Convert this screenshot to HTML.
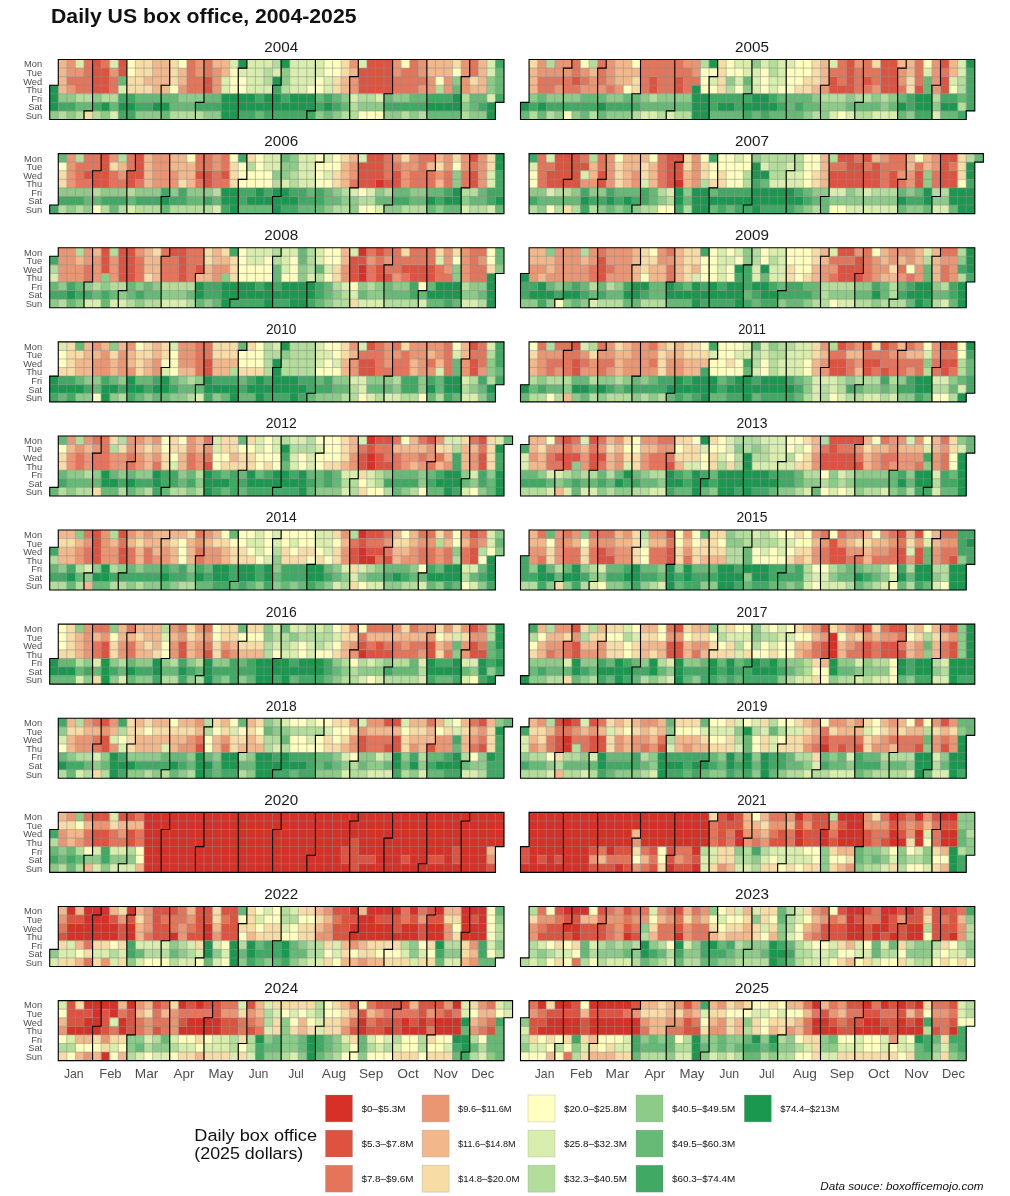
<!DOCTYPE html>
<html><head><meta charset="utf-8"><title>Daily US box office, 2004-2025</title>
<style>html,body{margin:0;padding:0;background:#fff;}body{width:1010px;height:1196px;overflow:hidden;font-family:"Liberation Sans",sans-serif;}svg{display:block;will-change:transform}</style>
</head><body>
<svg width="1010" height="1196" viewBox="0 0 1010 1196" font-family="Liberation Sans, sans-serif">
<rect width="1010" height="1196" fill="#fff"/>
<text x="51" y="22.6" font-size="20.2" font-weight="bold" fill="#111" textLength="305.5" lengthAdjust="spacingAndGlyphs">Daily US box office, 2004-2025</text>
<text x="281.2" y="51.9" font-size="14" fill="#1a1a1a" text-anchor="middle" textLength="33.9" lengthAdjust="spacingAndGlyphs">2004</text>
<g transform="translate(49.7 59.5) scale(8.5714)">
<path fill="#de5240" stroke="#de5240" stroke-width=".02" d="M5 0h1v1h-1zM8 0h1v1h-1zM37 0h3v1h-3zM5 1h2v1h-2zM8 1h1v1h-1zM36 1h4v1h-4zM5 2h2v1h-2zM18 2h1v1h-1zM36 2h4v1h-4zM5 3h2v1h-2zM18 3h1v1h-1zM36 3h4v1h-4z"/>
<path fill="#e4745a" stroke="#e4745a" stroke-width=".02" d="M4 0h1v1h-1zM6 0h1v1h-1zM16 0h1v1h-1zM18 0h1v1h-1zM42 0h1v1h-1zM49 0h1v1h-1zM4 1h1v1h-1zM16 1h1v1h-1zM18 1h1v1h-1zM41 1h2v1h-2zM49 1h1v1h-1zM2 2h3v1h-3zM7 2h1v1h-1zM16 2h2v1h-2zM40 2h4v1h-4zM3 3h2v1h-2zM7 3h1v1h-1zM16 3h2v1h-2zM40 3h3v1h-3z"/>
<path fill="#eb9673" stroke="#eb9673" stroke-width=".02" d="M2 0h1v1h-1zM17 0h1v1h-1zM35 0h1v1h-1zM40 0h1v1h-1zM43 0h1v1h-1zM48 0h1v1h-1zM2 1h2v1h-2zM7 1h1v1h-1zM17 1h1v1h-1zM19 1h1v1h-1zM40 1h1v1h-1zM43 1h1v1h-1zM48 1h1v1h-1zM19 2h1v1h-1zM35 2h1v1h-1zM44 2h1v1h-1zM46 2h1v1h-1zM48 2h1v1h-1zM2 3h1v1h-1zM15 3h1v1h-1zM19 3h1v1h-1zM35 3h1v1h-1zM43 3h2v1h-2zM46 3h1v1h-1zM48 3h1v1h-1z"/>
<path fill="#f2b88c" stroke="#f2b88c" stroke-width=".02" d="M1 0h1v1h-1zM12 0h2v1h-2zM19 0h2v1h-2zM44 0h3v1h-3zM50 0h1v1h-1zM1 1h1v1h-1zM12 1h2v1h-2zM15 1h1v1h-1zM20 1h1v1h-1zM35 1h1v1h-1zM44 1h3v1h-3zM50 1h1v1h-1zM1 2h1v1h-1zM11 2h3v1h-3zM15 2h1v1h-1zM34 2h1v1h-1zM50 2h1v1h-1zM1 3h1v1h-1zM12 3h2v1h-2zM34 3h1v1h-1zM49 3h2v1h-2z"/>
<path fill="#f8dca6" stroke="#f8dca6" stroke-width=".02" d="M10 0h2v1h-2zM14 0h1v1h-1zM34 0h1v1h-1zM47 0h1v1h-1zM10 1h2v1h-2zM14 1h1v1h-1zM34 1h1v1h-1zM9 2h2v1h-2zM14 2h1v1h-1zM33 2h1v1h-1zM49 2h1v1h-1zM9 3h3v1h-3zM33 3h1v1h-1zM4 6h1v1h-1z"/>
<path fill="#ffffbf" stroke="#ffffbf" stroke-width=".02" d="M9 0h1v1h-1zM15 0h1v1h-1zM32 0h2v1h-2zM41 0h1v1h-1zM9 1h1v1h-1zM21 1h1v1h-1zM32 1h2v1h-2zM47 1h1v1h-1zM21 2h2v1h-2zM31 2h1v1h-1zM45 2h1v1h-1zM14 3h1v1h-1zM21 3h2v1h-2zM30 3h2v1h-2zM36 6h3v1h-3z"/>
<path fill="#d9eead" stroke="#d9eead" stroke-width=".02" d="M3 0h1v1h-1zM7 0h1v1h-1zM21 0h1v1h-1zM23 0h3v1h-3zM28 0h4v1h-4zM36 0h1v1h-1zM51 0h1v1h-1zM22 1h3v1h-3zM26 1h1v1h-1zM28 1h4v1h-4zM51 1h1v1h-1zM20 2h1v1h-1zM23 2h2v1h-2zM28 2h3v1h-3zM32 2h1v1h-1zM8 3h1v1h-1zM20 3h1v1h-1zM23 3h3v1h-3zM28 3h2v1h-2zM32 3h1v1h-1zM35 4h1v1h-1zM38 4h1v1h-1zM51 4h1v1h-1zM7 6h1v1h-1z"/>
<path fill="#b3dd9a" stroke="#b3dd9a" stroke-width=".02" d="M26 0h1v1h-1zM25 1h1v1h-1zM25 2h1v1h-1zM27 3h1v1h-1zM45 3h1v1h-1zM3 4h2v1h-2zM6 4h2v1h-2zM36 4h2v1h-2zM48 4h1v1h-1zM35 5h1v1h-1zM1 6h1v1h-1zM3 6h1v1h-1zM5 6h1v1h-1zM14 6h4v1h-4zM34 6h2v1h-2zM41 6h1v1h-1zM43 6h1v1h-1zM48 6h1v1h-1z"/>
<path fill="#8ccc88" stroke="#8ccc88" stroke-width=".02" d="M27 1h1v1h-1zM27 2h1v1h-1zM47 2h1v1h-1zM51 2h1v1h-1zM51 3h1v1h-1zM1 4h2v1h-2zM5 4h1v1h-1zM15 4h3v1h-3zM34 4h1v1h-1zM40 4h2v1h-2zM36 5h3v1h-3zM48 5h1v1h-1zM0 6h1v1h-1zM2 6h1v1h-1zM6 6h1v1h-1zM10 6h3v1h-3zM18 6h2v1h-2zM31 6h1v1h-1zM33 6h1v1h-1zM39 6h2v1h-2zM42 6h1v1h-1zM49 6h2v1h-2z"/>
<path fill="#66ba75" stroke="#66ba75" stroke-width=".02" d="M52 1h1v1h-1zM8 2h1v1h-1zM52 2h1v1h-1zM47 3h1v1h-1zM52 3h1v1h-1zM10 4h5v1h-5zM18 4h2v1h-2zM31 4h1v1h-1zM33 4h1v1h-1zM39 4h1v1h-1zM42 4h2v1h-2zM49 4h2v1h-2zM3 5h2v1h-2zM7 5h1v1h-1zM14 5h3v1h-3zM34 5h1v1h-1zM49 5h1v1h-1zM13 6h1v1h-1zM24 6h1v1h-1zM32 6h1v1h-1zM44 6h4v1h-4z"/>
<path fill="#40a963" stroke="#40a963" stroke-width=".02" d="M52 0h1v1h-1zM26 3h1v1h-1zM8 4h2v1h-2zM24 4h1v1h-1zM27 4h1v1h-1zM32 4h1v1h-1zM44 4h3v1h-3zM52 4h1v1h-1zM1 5h2v1h-2zM5 5h1v1h-1zM10 5h2v1h-2zM17 5h3v1h-3zM31 5h1v1h-1zM33 5h1v1h-1zM39 5h5v1h-5zM50 5h1v1h-1zM8 6h2v1h-2zM22 6h2v1h-2zM25 6h6v1h-6z"/>
<path fill="#1a9850" stroke="#1a9850" stroke-width=".02" d="M22 0h1v1h-1zM27 0h1v1h-1zM26 2h1v1h-1zM0 3h1v1h-1zM0 4h1v1h-1zM20 4h4v1h-4zM25 4h2v1h-2zM28 4h3v1h-3zM47 4h1v1h-1zM0 5h1v1h-1zM6 5h1v1h-1zM8 5h2v1h-2zM12 5h2v1h-2zM20 5h11v1h-11zM32 5h1v1h-1zM44 5h4v1h-4zM51 5h1v1h-1zM20 6h2v1h-2zM51 6h1v1h-1z"/>
<path fill="none" stroke="#909090" stroke-opacity="1" stroke-width=".064" d="M1 1h52M1 2h52M1 3h52M0 4h53M0 5h52M0 6h52M1 3v4M2 0v7M3 0v7M4 0v7M5 0v7M6 0v7M7 0v7M8 0v7M9 0v7M10 0v7M11 0v7M12 0v7M13 0v7M14 0v7M15 0v7M16 0v7M17 0v7M18 0v7M19 0v7M20 0v7M21 0v7M22 0v7M23 0v7M24 0v7M25 0v7M26 0v7M27 0v7M28 0v7M29 0v7M30 0v7M31 0v7M32 0v7M33 0v7M34 0v7M35 0v7M36 0v7M37 0v7M38 0v7M39 0v7M40 0v7M41 0v7M42 0v7M43 0v7M44 0v7M45 0v7M46 0v7M47 0v7M48 0v7M49 0v7M50 0v7M51 0v7M52 0v5"/>
<path fill="none" stroke="#000" stroke-width=".13" stroke-linecap="square" d="M1 0h52M22 1h1M35 2h1M48 2h1M0 3h1M13 3h1M26 3h1M39 4h1M17 5h1M52 5h1M4 6h1M30 6h1M0 7h52M0 3v4M1 0v3M4 6v1M5 0v6M9 0v7M13 3v4M14 0v3M17 5v2M18 0v5M22 1v6M23 0v1M26 3v4M27 0v3M30 6v1M31 0v6M35 2v5M36 0v2M39 4v3M40 0v4M44 0v7M48 2v5M49 0v2M52 5v2M53 0v5"/>
</g>
<text x="42.2" y="67.39" font-size="9.3" fill="#4d4d4d" text-anchor="end">Mon</text>
<text x="42.2" y="75.96" font-size="9.3" fill="#4d4d4d" text-anchor="end">Tue</text>
<text x="42.2" y="84.53" font-size="9.3" fill="#4d4d4d" text-anchor="end">Wed</text>
<text x="42.2" y="93.1" font-size="9.3" fill="#4d4d4d" text-anchor="end">Thu</text>
<text x="42.2" y="101.67" font-size="9.3" fill="#4d4d4d" text-anchor="end">Fri</text>
<text x="42.2" y="110.24" font-size="9.3" fill="#4d4d4d" text-anchor="end">Sat</text>
<text x="42.2" y="118.81" font-size="9.3" fill="#4d4d4d" text-anchor="end">Sun</text>
<text x="752" y="51.9" font-size="14" fill="#1a1a1a" text-anchor="middle" textLength="33.9" lengthAdjust="spacingAndGlyphs">2005</text>
<g transform="translate(520.5 59.5) scale(8.5714)">
<path fill="#de5240" stroke="#de5240" stroke-width=".02" d="M38 0h1v1h-1zM42 0h2v1h-2zM49 0h1v1h-1zM38 1h1v1h-1zM42 1h2v1h-2zM6 2h1v1h-1zM15 2h1v1h-1zM18 2h1v1h-1zM36 2h1v1h-1zM38 2h1v1h-1zM40 2h1v1h-1zM42 2h2v1h-2zM49 2h1v1h-1zM15 3h1v1h-1zM18 3h1v1h-1zM36 3h3v1h-3zM42 3h2v1h-2zM46 3h1v1h-1zM49 3h1v1h-1z"/>
<path fill="#e4745a" stroke="#e4745a" stroke-width=".02" d="M6 0h1v1h-1zM9 0h1v1h-1zM14 0h5v1h-5zM37 0h1v1h-1zM40 0h1v1h-1zM46 0h1v1h-1zM6 1h1v1h-1zM9 1h1v1h-1zM14 1h6v1h-6zM36 1h2v1h-2zM39 1h3v1h-3zM46 1h1v1h-1zM49 1h1v1h-1zM2 2h4v1h-4zM7 2h1v1h-1zM9 2h1v1h-1zM14 2h1v1h-1zM16 2h2v1h-2zM19 2h2v1h-2zM37 2h1v1h-1zM39 2h1v1h-1zM41 2h1v1h-1zM46 2h1v1h-1zM2 3h2v1h-2zM5 3h2v1h-2zM10 3h1v1h-1zM14 3h1v1h-1zM16 3h2v1h-2zM19 3h1v1h-1zM39 3h2v1h-2zM44 3h1v1h-1z"/>
<path fill="#eb9673" stroke="#eb9673" stroke-width=".02" d="M2 0h1v1h-1zM4 0h2v1h-2zM10 0h1v1h-1zM19 0h2v1h-2zM39 0h1v1h-1zM48 0h1v1h-1zM2 1h4v1h-4zM7 1h1v1h-1zM10 1h1v1h-1zM20 1h1v1h-1zM44 1h1v1h-1zM48 1h1v1h-1zM8 2h1v1h-1zM10 2h1v1h-1zM44 2h1v1h-1zM48 2h1v1h-1zM4 3h1v1h-1zM7 3h3v1h-3zM11 3h1v1h-1zM35 3h1v1h-1zM41 3h1v1h-1zM48 3h1v1h-1z"/>
<path fill="#f2b88c" stroke="#f2b88c" stroke-width=".02" d="M11 0h2v1h-2zM35 0h1v1h-1zM44 0h2v1h-2zM50 0h1v1h-1zM1 1h1v1h-1zM8 1h1v1h-1zM11 1h3v1h-3zM35 1h1v1h-1zM45 1h1v1h-1zM50 1h1v1h-1zM1 2h1v1h-1zM11 2h2v1h-2zM35 2h1v1h-1zM1 3h1v1h-1zM34 3h1v1h-1z"/>
<path fill="#f8dca6" stroke="#f8dca6" stroke-width=".02" d="M1 0h1v1h-1zM23 0h1v1h-1zM34 0h1v1h-1zM41 0h1v1h-1zM23 1h1v1h-1zM34 1h1v1h-1zM13 2h1v1h-1zM23 2h1v1h-1zM33 2h2v1h-2zM45 2h1v1h-1zM13 3h1v1h-1zM23 3h1v1h-1zM32 3h2v1h-2zM45 3h1v1h-1z"/>
<path fill="#ffffbf" stroke="#ffffbf" stroke-width=".02" d="M7 0h1v1h-1zM13 0h1v1h-1zM24 0h1v1h-1zM32 0h2v1h-2zM47 0h1v1h-1zM21 1h2v1h-2zM24 1h2v1h-2zM28 1h1v1h-1zM31 1h3v1h-3zM21 2h1v1h-1zM28 2h1v1h-1zM31 2h2v1h-2zM12 3h1v1h-1zM21 3h2v1h-2zM25 3h1v1h-1zM28 3h1v1h-1zM30 3h2v1h-2zM50 3h1v1h-1zM5 6h1v1h-1zM37 6h1v1h-1z"/>
<path fill="#d9eead" stroke="#d9eead" stroke-width=".02" d="M25 0h2v1h-2zM28 0h1v1h-1zM30 0h2v1h-2zM36 0h1v1h-1zM51 0h1v1h-1zM26 1h2v1h-2zM30 1h1v1h-1zM47 1h1v1h-1zM51 1h1v1h-1zM22 2h1v1h-1zM25 2h1v1h-1zM27 2h1v1h-1zM29 2h2v1h-2zM50 2h1v1h-1zM27 3h1v1h-1zM29 3h1v1h-1zM14 6h2v1h-2zM17 6h1v1h-1zM36 6h1v1h-1zM38 6h1v1h-1zM41 6h3v1h-3zM48 6h1v1h-1z"/>
<path fill="#b3dd9a" stroke="#b3dd9a" stroke-width=".02" d="M3 0h1v1h-1zM8 0h1v1h-1zM21 0h1v1h-1zM29 0h1v1h-1zM29 1h1v1h-1zM51 2h1v1h-1zM24 3h1v1h-1zM51 3h1v1h-1zM15 4h1v1h-1zM35 4h3v1h-3zM39 4h2v1h-2zM42 4h1v1h-1zM48 4h1v1h-1zM51 5h1v1h-1zM1 6h1v1h-1zM3 6h1v1h-1zM8 6h1v1h-1zM13 6h1v1h-1zM16 6h1v1h-1zM18 6h2v1h-2zM34 6h1v1h-1zM39 6h2v1h-2z"/>
<path fill="#8ccc88" stroke="#8ccc88" stroke-width=".02" d="M27 0h1v1h-1zM24 2h1v1h-1zM26 3h1v1h-1zM1 4h1v1h-1zM3 4h4v1h-4zM10 4h2v1h-2zM14 4h1v1h-1zM16 4h4v1h-4zM34 4h1v1h-1zM38 4h1v1h-1zM41 4h1v1h-1zM43 4h1v1h-1zM35 5h3v1h-3zM42 5h1v1h-1zM48 5h1v1h-1zM4 6h1v1h-1zM6 6h1v1h-1zM10 6h3v1h-3zM33 6h1v1h-1zM35 6h1v1h-1zM45 6h1v1h-1z"/>
<path fill="#66ba75" stroke="#66ba75" stroke-width=".02" d="M26 2h1v1h-1zM47 2h1v1h-1zM47 3h1v1h-1zM2 4h1v1h-1zM7 4h3v1h-3zM12 4h2v1h-2zM30 4h4v1h-4zM44 4h1v1h-1zM51 4h1v1h-1zM14 5h6v1h-6zM31 5h1v1h-1zM33 5h2v1h-2zM38 5h4v1h-4zM43 5h1v1h-1zM0 6h1v1h-1zM2 6h1v1h-1zM7 6h1v1h-1zM9 6h1v1h-1zM22 6h4v1h-4zM27 6h1v1h-1zM29 6h4v1h-4zM44 6h1v1h-1zM49 6h2v1h-2z"/>
<path fill="#40a963" stroke="#40a963" stroke-width=".02" d="M52 1h1v1h-1zM52 2h1v1h-1zM52 3h1v1h-1zM22 4h5v1h-5zM29 4h1v1h-1zM45 4h1v1h-1zM49 4h2v1h-2zM52 4h1v1h-1zM1 5h1v1h-1zM3 5h6v1h-6zM10 5h4v1h-4zM22 5h1v1h-1zM25 5h1v1h-1zM30 5h1v1h-1zM32 5h1v1h-1zM45 5h1v1h-1zM52 5h1v1h-1zM26 6h1v1h-1zM28 6h1v1h-1zM46 6h2v1h-2zM51 6h1v1h-1z"/>
<path fill="#1a9850" stroke="#1a9850" stroke-width=".02" d="M22 0h1v1h-1zM52 0h1v1h-1zM20 3h1v1h-1zM20 4h2v1h-2zM27 4h2v1h-2zM46 4h2v1h-2zM0 5h1v1h-1zM2 5h1v1h-1zM9 5h1v1h-1zM20 5h2v1h-2zM23 5h2v1h-2zM26 5h4v1h-4zM44 5h1v1h-1zM46 5h2v1h-2zM49 5h2v1h-2zM20 6h2v1h-2z"/>
<path fill="none" stroke="#909090" stroke-opacity="1" stroke-width=".064" d="M1 1h52M1 2h52M1 3h52M1 4h52M1 5h52M0 6h52M1 5v2M2 0v7M3 0v7M4 0v7M5 0v7M6 0v7M7 0v7M8 0v7M9 0v7M10 0v7M11 0v7M12 0v7M13 0v7M14 0v7M15 0v7M16 0v7M17 0v7M18 0v7M19 0v7M20 0v7M21 0v7M22 0v7M23 0v7M24 0v7M25 0v7M26 0v7M27 0v7M28 0v7M29 0v7M30 0v7M31 0v7M32 0v7M33 0v7M34 0v7M35 0v7M36 0v7M37 0v7M38 0v7M39 0v7M40 0v7M41 0v7M42 0v7M43 0v7M44 0v7M45 0v7M46 0v7M47 0v7M48 0v7M49 0v7M50 0v7M51 0v7M52 0v6"/>
<path fill="none" stroke="#000" stroke-width=".13" stroke-linecap="square" d="M1 0h52M5 1h1M9 1h1M44 1h1M22 2h1M35 3h1M48 3h1M13 4h1M26 4h1M0 5h1M39 5h1M17 6h1M52 6h1M0 7h52M0 5v2M1 0v5M5 1v6M6 0v1M9 1v6M10 0v1M13 4v3M14 0v4M17 6v1M18 0v6M22 2v5M23 0v2M26 4v3M27 0v4M31 0v7M35 3v4M36 0v3M39 5v2M40 0v5M44 1v6M45 0v1M48 3v4M49 0v3M52 6v1M53 0v6"/>
</g>
<text x="281.2" y="146.01" font-size="14" fill="#1a1a1a" text-anchor="middle" textLength="33.9" lengthAdjust="spacingAndGlyphs">2006</text>
<g transform="translate(49.7 153.61) scale(8.5714)">
<path fill="#d73027" stroke="#d73027" stroke-width=".02" d="M38 3h1v1h-1z"/>
<path fill="#de5240" stroke="#de5240" stroke-width=".02" d="M6 0h1v1h-1zM10 0h1v1h-1zM37 0h2v1h-2zM49 0h1v1h-1zM6 1h1v1h-1zM10 1h1v1h-1zM36 1h3v1h-3zM4 2h3v1h-3zM9 2h2v1h-2zM17 2h2v1h-2zM20 2h1v1h-1zM36 2h3v1h-3zM40 2h1v1h-1zM49 2h1v1h-1zM5 3h2v1h-2zM9 3h1v1h-1zM18 3h1v1h-1zM36 3h2v1h-2zM39 3h2v1h-2zM49 3h1v1h-1z"/>
<path fill="#e4745a" stroke="#e4745a" stroke-width=".02" d="M4 0h2v1h-2zM9 0h1v1h-1zM17 0h2v1h-2zM20 0h1v1h-1zM39 0h1v1h-1zM43 0h2v1h-2zM3 1h3v1h-3zM9 1h1v1h-1zM17 1h2v1h-2zM20 1h1v1h-1zM39 1h2v1h-2zM43 1h1v1h-1zM49 1h1v1h-1zM3 2h1v1h-1zM7 2h1v1h-1zM19 2h1v1h-1zM39 2h1v1h-1zM42 2h3v1h-3zM46 2h1v1h-1zM48 2h1v1h-1zM3 3h2v1h-2zM7 3h2v1h-2zM10 3h1v1h-1zM17 3h1v1h-1zM19 3h2v1h-2zM35 3h1v1h-1zM42 3h3v1h-3zM46 3h1v1h-1zM48 3h1v1h-1z"/>
<path fill="#eb9673" stroke="#eb9673" stroke-width=".02" d="M2 0h1v1h-1zM7 0h1v1h-1zM12 0h2v1h-2zM19 0h1v1h-1zM40 0h1v1h-1zM42 0h1v1h-1zM46 0h1v1h-1zM48 0h1v1h-1zM50 0h1v1h-1zM2 1h1v1h-1zM12 1h2v1h-2zM19 1h1v1h-1zM35 1h1v1h-1zM41 1h2v1h-2zM46 1h1v1h-1zM48 1h1v1h-1zM50 1h1v1h-1zM2 2h1v1h-1zM8 2h1v1h-1zM12 2h3v1h-3zM35 2h1v1h-1zM41 2h1v1h-1zM45 2h1v1h-1zM50 2h1v1h-1zM2 3h1v1h-1zM12 3h3v1h-3zM41 3h1v1h-1zM50 3h1v1h-1z"/>
<path fill="#f2b88c" stroke="#f2b88c" stroke-width=".02" d="M11 0h1v1h-1zM14 0h2v1h-2zM35 0h1v1h-1zM45 0h1v1h-1zM8 1h1v1h-1zM11 1h1v1h-1zM14 1h3v1h-3zM34 1h1v1h-1zM44 1h1v1h-1zM11 2h1v1h-1zM15 2h2v1h-2zM34 2h1v1h-1zM11 3h1v1h-1zM16 3h1v1h-1zM34 3h1v1h-1zM45 3h1v1h-1z"/>
<path fill="#f8dca6" stroke="#f8dca6" stroke-width=".02" d="M23 0h1v1h-1zM34 0h1v1h-1zM41 0h1v1h-1zM47 0h1v1h-1zM51 0h1v1h-1zM7 1h1v1h-1zM21 1h1v1h-1zM45 1h1v1h-1zM51 1h1v1h-1zM1 2h1v1h-1zM21 2h1v1h-1zM33 2h1v1h-1zM1 3h1v1h-1zM15 3h1v1h-1zM21 3h1v1h-1zM33 3h1v1h-1z"/>
<path fill="#ffffbf" stroke="#ffffbf" stroke-width=".02" d="M16 0h1v1h-1zM21 0h1v1h-1zM24 0h1v1h-1zM31 0h1v1h-1zM33 0h1v1h-1zM1 1h1v1h-1zM22 1h1v1h-1zM24 1h1v1h-1zM31 1h3v1h-3zM47 1h1v1h-1zM22 2h4v1h-4zM31 2h1v1h-1zM22 3h4v1h-4zM31 3h2v1h-2zM36 4h1v1h-1zM5 6h1v1h-1zM36 6h2v1h-2z"/>
<path fill="#d9eead" stroke="#d9eead" stroke-width=".02" d="M25 0h2v1h-2zM29 0h2v1h-2zM32 0h1v1h-1zM36 0h1v1h-1zM25 1h2v1h-2zM29 1h2v1h-2zM29 2h2v1h-2zM32 2h1v1h-1zM51 2h1v1h-1zM27 3h1v1h-1zM29 3h2v1h-2zM51 3h1v1h-1zM35 4h1v1h-1zM37 4h1v1h-1zM9 6h1v1h-1zM19 6h1v1h-1zM38 6h1v1h-1zM48 6h1v1h-1zM51 6h1v1h-1z"/>
<path fill="#b3dd9a" stroke="#b3dd9a" stroke-width=".02" d="M3 0h1v1h-1zM8 0h1v1h-1zM23 1h1v1h-1zM28 2h1v1h-1zM26 3h1v1h-1zM28 3h1v1h-1zM5 4h1v1h-1zM9 4h1v1h-1zM19 4h1v1h-1zM34 4h1v1h-1zM39 4h1v1h-1zM48 4h2v1h-2zM36 5h2v1h-2zM1 6h1v1h-1zM3 6h1v1h-1zM6 6h1v1h-1zM8 6h1v1h-1zM10 6h3v1h-3zM14 6h5v1h-5zM33 6h2v1h-2zM41 6h3v1h-3zM49 6h2v1h-2z"/>
<path fill="#8ccc88" stroke="#8ccc88" stroke-width=".02" d="M28 0h1v1h-1zM27 1h2v1h-2zM26 2h2v1h-2zM47 2h1v1h-1zM47 3h1v1h-1zM1 4h4v1h-4zM6 4h3v1h-3zM10 4h3v1h-3zM14 4h1v1h-1zM16 4h3v1h-3zM33 4h1v1h-1zM38 4h1v1h-1zM42 4h2v1h-2zM34 5h2v1h-2zM48 5h1v1h-1zM2 6h1v1h-1zM4 6h1v1h-1zM32 6h1v1h-1zM35 6h1v1h-1zM39 6h2v1h-2zM45 6h1v1h-1z"/>
<path fill="#66ba75" stroke="#66ba75" stroke-width=".02" d="M1 0h1v1h-1zM27 0h1v1h-1zM30 4h1v1h-1zM32 4h1v1h-1zM40 4h2v1h-2zM44 4h2v1h-2zM50 4h1v1h-1zM4 5h2v1h-2zM9 5h1v1h-1zM16 5h2v1h-2zM19 5h1v1h-1zM32 5h2v1h-2zM38 5h2v1h-2zM42 5h2v1h-2zM49 5h2v1h-2zM7 6h1v1h-1zM13 6h1v1h-1zM22 6h4v1h-4zM29 6h3v1h-3zM44 6h1v1h-1zM46 6h2v1h-2zM52 6h1v1h-1z"/>
<path fill="#40a963" stroke="#40a963" stroke-width=".02" d="M22 0h1v1h-1zM52 2h1v1h-1zM52 3h1v1h-1zM13 4h1v1h-1zM15 4h1v1h-1zM22 4h2v1h-2zM25 4h1v1h-1zM28 4h2v1h-2zM31 4h1v1h-1zM46 4h1v1h-1zM51 4h2v1h-2zM1 5h3v1h-3zM6 5h3v1h-3zM10 5h3v1h-3zM14 5h2v1h-2zM18 5h1v1h-1zM22 5h1v1h-1zM29 5h3v1h-3zM40 5h2v1h-2zM45 5h1v1h-1zM51 5h1v1h-1zM0 6h1v1h-1zM20 6h1v1h-1zM27 6h2v1h-2z"/>
<path fill="#1a9850" stroke="#1a9850" stroke-width=".02" d="M52 0h1v1h-1zM52 1h1v1h-1zM20 4h2v1h-2zM24 4h1v1h-1zM26 4h2v1h-2zM47 4h1v1h-1zM13 5h1v1h-1zM20 5h2v1h-2zM23 5h6v1h-6zM44 5h1v1h-1zM46 5h2v1h-2zM52 5h1v1h-1zM21 6h1v1h-1zM26 6h1v1h-1z"/>
<path fill="none" stroke="#909090" stroke-opacity="1" stroke-width=".064" d="M1 1h52M1 2h52M1 3h52M1 4h52M1 5h52M1 6h52M1 6v1M2 0v7M3 0v7M4 0v7M5 0v7M6 0v7M7 0v7M8 0v7M9 0v7M10 0v7M11 0v7M12 0v7M13 0v7M14 0v7M15 0v7M16 0v7M17 0v7M18 0v7M19 0v7M20 0v7M21 0v7M22 0v7M23 0v7M24 0v7M25 0v7M26 0v7M27 0v7M28 0v7M29 0v7M30 0v7M31 0v7M32 0v7M33 0v7M34 0v7M35 0v7M36 0v7M37 0v7M38 0v7M39 0v7M40 0v7M41 0v7M42 0v7M43 0v7M44 0v7M45 0v7M46 0v7M47 0v7M48 0v7M49 0v7M50 0v7M51 0v7M52 0v7"/>
<path fill="none" stroke="#000" stroke-width=".13" stroke-linecap="square" d="M1 0h52M31 1h1M5 2h1M9 2h1M44 2h1M22 3h1M35 4h1M48 4h1M13 5h1M26 5h1M0 6h1M39 6h1M0 7h53M0 6v1M1 0v6M5 2v5M6 0v2M9 2v5M10 0v2M13 5v2M14 0v5M18 0v7M22 3v4M23 0v3M26 5v2M27 0v5M31 1v6M32 0v1M35 4v3M36 0v4M39 6v1M40 0v6M44 2v5M45 0v2M48 4v3M49 0v4M53 0v7"/>
</g>
<text x="42.2" y="161.5" font-size="9.3" fill="#4d4d4d" text-anchor="end">Mon</text>
<text x="42.2" y="170.07" font-size="9.3" fill="#4d4d4d" text-anchor="end">Tue</text>
<text x="42.2" y="178.64" font-size="9.3" fill="#4d4d4d" text-anchor="end">Wed</text>
<text x="42.2" y="187.21" font-size="9.3" fill="#4d4d4d" text-anchor="end">Thu</text>
<text x="42.2" y="195.78" font-size="9.3" fill="#4d4d4d" text-anchor="end">Fri</text>
<text x="42.2" y="204.35" font-size="9.3" fill="#4d4d4d" text-anchor="end">Sat</text>
<text x="42.2" y="212.92" font-size="9.3" fill="#4d4d4d" text-anchor="end">Sun</text>
<text x="752" y="146.01" font-size="14" fill="#1a1a1a" text-anchor="middle" textLength="33.9" lengthAdjust="spacingAndGlyphs">2007</text>
<g transform="translate(520.5 153.61) scale(8.5714)">
<path fill="#d73027" stroke="#d73027" stroke-width=".02" d="M18 3h1v1h-1z"/>
<path fill="#de5240" stroke="#de5240" stroke-width=".02" d="M4 0h3v1h-3zM17 0h2v1h-2zM37 0h2v1h-2zM40 0h1v1h-1zM49 0h2v1h-2zM4 1h4v1h-4zM17 1h2v1h-2zM38 1h2v1h-2zM41 1h1v1h-1zM49 1h1v1h-1zM3 2h4v1h-4zM9 2h1v1h-1zM17 2h2v1h-2zM36 2h6v1h-6zM43 2h1v1h-1zM46 2h1v1h-1zM49 2h2v1h-2zM3 3h4v1h-4zM9 3h1v1h-1zM17 3h1v1h-1zM36 3h6v1h-6zM43 3h1v1h-1zM46 3h1v1h-1zM49 3h2v1h-2z"/>
<path fill="#e4745a" stroke="#e4745a" stroke-width=".02" d="M2 0h1v1h-1zM7 0h1v1h-1zM9 0h1v1h-1zM16 0h1v1h-1zM39 0h1v1h-1zM43 0h2v1h-2zM2 1h2v1h-2zM9 1h1v1h-1zM16 1h1v1h-1zM36 1h2v1h-2zM40 1h1v1h-1zM42 1h3v1h-3zM46 1h1v1h-1zM50 1h1v1h-1zM2 2h1v1h-1zM16 2h1v1h-1zM42 2h1v1h-1zM48 2h1v1h-1zM2 3h1v1h-1zM16 3h1v1h-1zM42 3h1v1h-1zM44 3h1v1h-1zM48 3h1v1h-1z"/>
<path fill="#eb9673" stroke="#eb9673" stroke-width=".02" d="M10 0h1v1h-1zM20 0h1v1h-1zM42 0h1v1h-1zM48 0h1v1h-1zM10 1h1v1h-1zM20 1h1v1h-1zM48 1h1v1h-1zM10 2h1v1h-1zM13 2h1v1h-1zM20 2h1v1h-1zM44 2h2v1h-2zM7 3h2v1h-2zM10 3h1v1h-1zM13 3h1v1h-1zM20 3h1v1h-1zM45 3h1v1h-1z"/>
<path fill="#f2b88c" stroke="#f2b88c" stroke-width=".02" d="M12 0h3v1h-3zM35 0h1v1h-1zM41 0h1v1h-1zM45 0h1v1h-1zM47 0h1v1h-1zM8 1h1v1h-1zM12 1h2v1h-2zM15 1h1v1h-1zM35 1h1v1h-1zM45 1h1v1h-1zM47 1h1v1h-1zM8 2h1v1h-1zM12 2h1v1h-1zM15 2h1v1h-1zM19 2h1v1h-1zM35 2h1v1h-1zM12 3h1v1h-1zM15 3h1v1h-1zM19 3h1v1h-1zM35 3h1v1h-1z"/>
<path fill="#f8dca6" stroke="#f8dca6" stroke-width=".02" d="M19 0h1v1h-1zM51 0h1v1h-1zM11 1h1v1h-1zM14 1h1v1h-1zM19 1h1v1h-1zM21 1h1v1h-1zM51 1h1v1h-1zM11 2h1v1h-1zM14 2h1v1h-1zM21 2h1v1h-1zM23 2h1v1h-1zM34 2h1v1h-1zM51 2h1v1h-1zM11 3h1v1h-1zM22 3h2v1h-2zM34 3h1v1h-1zM5 6h1v1h-1z"/>
<path fill="#ffffbf" stroke="#ffffbf" stroke-width=".02" d="M11 0h1v1h-1zM15 0h1v1h-1zM21 0h1v1h-1zM23 0h2v1h-2zM26 0h1v1h-1zM33 0h2v1h-2zM46 0h1v1h-1zM22 1h5v1h-5zM33 1h2v1h-2zM1 2h1v1h-1zM22 2h1v1h-1zM24 2h2v1h-2zM33 2h1v1h-1zM1 3h1v1h-1zM24 3h2v1h-2zM33 3h1v1h-1zM51 3h1v1h-1zM3 6h1v1h-1zM16 6h2v1h-2zM36 6h2v1h-2z"/>
<path fill="#d9eead" stroke="#d9eead" stroke-width=".02" d="M3 0h1v1h-1zM25 0h1v1h-1zM1 1h1v1h-1zM28 1h1v1h-1zM31 1h1v1h-1zM7 2h1v1h-1zM31 2h2v1h-2zM14 3h1v1h-1zM29 3h4v1h-4zM3 4h1v1h-1zM17 4h1v1h-1zM36 4h2v1h-2zM40 4h1v1h-1zM38 6h6v1h-6zM48 6h2v1h-2z"/>
<path fill="#b3dd9a" stroke="#b3dd9a" stroke-width=".02" d="M8 0h1v1h-1zM28 0h5v1h-5zM36 0h1v1h-1zM52 0h1v1h-1zM29 1h2v1h-2zM32 1h1v1h-1zM26 2h1v1h-1zM29 2h2v1h-2zM21 3h1v1h-1zM26 3h1v1h-1zM4 4h2v1h-2zM16 4h1v1h-1zM39 4h1v1h-1zM41 4h3v1h-3zM48 4h2v1h-2zM17 5h1v1h-1zM1 6h1v1h-1zM4 6h1v1h-1zM6 6h1v1h-1zM8 6h1v1h-1zM14 6h2v1h-2zM19 6h1v1h-1zM34 6h1v1h-1z"/>
<path fill="#8ccc88" stroke="#8ccc88" stroke-width=".02" d="M27 0h1v1h-1zM47 2h1v1h-1zM47 3h1v1h-1zM1 4h2v1h-2zM6 4h1v1h-1zM8 4h2v1h-2zM19 4h1v1h-1zM34 4h2v1h-2zM38 4h1v1h-1zM45 4h1v1h-1zM16 5h1v1h-1zM36 5h8v1h-8zM48 5h2v1h-2zM2 6h1v1h-1zM9 6h1v1h-1zM11 6h1v1h-1zM13 6h1v1h-1zM33 6h1v1h-1zM45 6h2v1h-2z"/>
<path fill="#66ba75" stroke="#66ba75" stroke-width=".02" d="M53 0h1v1h-1zM28 3h1v1h-1zM11 4h3v1h-3zM15 4h1v1h-1zM22 4h1v1h-1zM33 4h1v1h-1zM44 4h1v1h-1zM46 4h1v1h-1zM2 5h5v1h-5zM15 5h1v1h-1zM19 5h1v1h-1zM34 5h2v1h-2zM10 6h1v1h-1zM12 6h1v1h-1zM22 6h1v1h-1zM24 6h1v1h-1zM32 6h1v1h-1zM35 6h1v1h-1zM44 6h1v1h-1zM47 6h1v1h-1zM50 6h1v1h-1z"/>
<path fill="#40a963" stroke="#40a963" stroke-width=".02" d="M1 0h1v1h-1zM22 0h1v1h-1zM27 3h1v1h-1zM52 3h1v1h-1zM7 4h1v1h-1zM10 4h1v1h-1zM14 4h1v1h-1zM23 4h4v1h-4zM32 4h1v1h-1zM1 5h1v1h-1zM8 5h2v1h-2zM11 5h1v1h-1zM13 5h2v1h-2zM33 5h1v1h-1zM45 5h2v1h-2zM7 6h1v1h-1zM18 6h1v1h-1zM23 6h1v1h-1zM25 6h2v1h-2zM28 6h4v1h-4z"/>
<path fill="#1a9850" stroke="#1a9850" stroke-width=".02" d="M27 1h1v1h-1zM52 1h1v1h-1zM27 2h2v1h-2zM52 2h1v1h-1zM18 4h1v1h-1zM20 4h2v1h-2zM27 4h5v1h-5zM47 4h1v1h-1zM50 4h3v1h-3zM7 5h1v1h-1zM10 5h1v1h-1zM12 5h1v1h-1zM18 5h1v1h-1zM20 5h13v1h-13zM44 5h1v1h-1zM47 5h1v1h-1zM50 5h3v1h-3zM20 6h2v1h-2zM27 6h1v1h-1zM51 6h2v1h-2z"/>
<path fill="none" stroke="#909090" stroke-opacity="1" stroke-width=".064" d="M1 1h52M1 2h52M1 3h52M1 4h52M1 5h52M1 6h52M2 0v7M3 0v7M4 0v7M5 0v7M6 0v7M7 0v7M8 0v7M9 0v7M10 0v7M11 0v7M12 0v7M13 0v7M14 0v7M15 0v7M16 0v7M17 0v7M18 0v7M19 0v7M20 0v7M21 0v7M22 0v7M23 0v7M24 0v7M25 0v7M26 0v7M27 0v7M28 0v7M29 0v7M30 0v7M31 0v7M32 0v7M33 0v7M34 0v7M35 0v7M36 0v7M37 0v7M38 0v7M39 0v7M40 0v7M41 0v7M42 0v7M43 0v7M44 0v7M45 0v7M46 0v7M47 0v7M48 0v7M49 0v7M50 0v7M51 0v7M52 0v7M53 0v1"/>
<path fill="none" stroke="#000" stroke-width=".13" stroke-linecap="square" d="M1 0h53M18 1h1M53 1h1M31 2h1M5 3h1M9 3h1M44 3h1M22 4h1M35 5h1M48 5h1M13 6h1M26 6h1M1 7h52M1 0v7M5 3v4M6 0v3M9 3v4M10 0v3M13 6v1M14 0v6M18 1v6M19 0v1M22 4v3M23 0v4M26 6v1M27 0v6M31 2v5M32 0v2M35 5v2M36 0v5M40 0v7M44 3v4M45 0v3M48 5v2M49 0v5M53 1v6M54 0v1"/>
</g>
<text x="281.2" y="240.12" font-size="14" fill="#1a1a1a" text-anchor="middle" textLength="33.9" lengthAdjust="spacingAndGlyphs">2008</text>
<g transform="translate(49.7 247.72) scale(8.5714)">
<path fill="#d73027" stroke="#d73027" stroke-width=".02" d="M36 0h1v1h-1zM36 2h1v1h-1zM36 3h1v1h-1z"/>
<path fill="#de5240" stroke="#de5240" stroke-width=".02" d="M6 0h1v1h-1zM8 0h2v1h-2zM14 0h2v1h-2zM38 0h1v1h-1zM6 1h1v1h-1zM8 1h2v1h-2zM15 1h1v1h-1zM35 1h2v1h-2zM6 2h1v1h-1zM8 2h2v1h-2zM15 2h1v1h-1zM17 2h1v1h-1zM35 2h1v1h-1zM38 2h1v1h-1zM41 2h4v1h-4zM8 3h2v1h-2zM15 3h1v1h-1zM35 3h1v1h-1zM38 3h2v1h-2zM42 3h3v1h-3z"/>
<path fill="#e4745a" stroke="#e4745a" stroke-width=".02" d="M13 0h1v1h-1zM16 0h2v1h-2zM37 0h1v1h-1zM39 0h2v1h-2zM42 0h3v1h-3zM49 0h2v1h-2zM10 1h1v1h-1zM13 1h2v1h-2zM16 1h2v1h-2zM38 1h1v1h-1zM40 1h5v1h-5zM49 1h1v1h-1zM4 2h1v1h-1zM10 2h1v1h-1zM13 2h2v1h-2zM16 2h1v1h-1zM37 2h1v1h-1zM39 2h2v1h-2zM45 2h1v1h-1zM49 2h2v1h-2zM4 3h1v1h-1zM10 3h1v1h-1zM13 3h2v1h-2zM16 3h1v1h-1zM37 3h1v1h-1zM41 3h1v1h-1zM45 3h2v1h-2zM49 3h2v1h-2z"/>
<path fill="#eb9673" stroke="#eb9673" stroke-width=".02" d="M1 0h2v1h-2zM4 0h1v1h-1zM10 0h1v1h-1zM46 0h1v1h-1zM48 0h1v1h-1zM1 1h2v1h-2zM4 1h2v1h-2zM7 1h1v1h-1zM37 1h1v1h-1zM39 1h1v1h-1zM46 1h1v1h-1zM48 1h1v1h-1zM50 1h1v1h-1zM1 2h3v1h-3zM5 2h1v1h-1zM7 2h1v1h-1zM19 2h2v1h-2zM34 2h1v1h-1zM46 2h1v1h-1zM48 2h1v1h-1zM1 3h3v1h-3zM5 3h1v1h-1zM7 3h1v1h-1zM19 3h1v1h-1zM34 3h1v1h-1zM40 3h1v1h-1zM48 3h1v1h-1z"/>
<path fill="#f2b88c" stroke="#f2b88c" stroke-width=".02" d="M5 0h1v1h-1zM11 0h1v1h-1zM19 0h1v1h-1zM34 0h1v1h-1zM3 1h1v1h-1zM11 1h2v1h-2zM19 1h2v1h-2zM34 1h1v1h-1zM11 2h2v1h-2zM18 2h1v1h-1zM12 3h1v1h-1zM17 3h2v1h-2z"/>
<path fill="#f8dca6" stroke="#f8dca6" stroke-width=".02" d="M12 0h1v1h-1zM18 0h1v1h-1zM20 0h1v1h-1zM41 0h1v1h-1zM45 0h1v1h-1zM47 0h1v1h-1zM18 1h1v1h-1zM21 1h1v1h-1zM21 2h1v1h-1zM33 2h1v1h-1zM51 2h1v1h-1zM11 3h1v1h-1zM21 3h1v1h-1zM33 3h1v1h-1zM35 6h1v1h-1z"/>
<path fill="#ffffbf" stroke="#ffffbf" stroke-width=".02" d="M22 0h1v1h-1zM32 0h2v1h-2zM51 0h1v1h-1zM22 1h1v1h-1zM25 1h1v1h-1zM28 1h1v1h-1zM32 1h2v1h-2zM47 1h1v1h-1zM51 1h1v1h-1zM22 2h4v1h-4zM28 2h1v1h-1zM22 3h4v1h-4zM27 3h2v1h-2zM32 3h1v1h-1zM35 4h1v1h-1zM43 4h1v1h-1z"/>
<path fill="#d9eead" stroke="#d9eead" stroke-width=".02" d="M23 0h3v1h-3zM27 0h2v1h-2zM31 0h1v1h-1zM35 0h1v1h-1zM23 1h2v1h-2zM27 1h1v1h-1zM31 1h1v1h-1zM45 1h1v1h-1zM27 2h1v1h-1zM32 2h1v1h-1zM0 3h1v1h-1zM30 3h1v1h-1zM34 4h1v1h-1zM35 5h1v1h-1zM4 6h2v1h-2zM7 6h2v1h-2zM13 6h3v1h-3zM36 6h3v1h-3zM43 6h1v1h-1zM48 6h2v1h-2z"/>
<path fill="#b3dd9a" stroke="#b3dd9a" stroke-width=".02" d="M3 0h1v1h-1zM7 0h1v1h-1zM26 0h1v1h-1zM30 0h1v1h-1zM26 1h1v1h-1zM30 1h1v1h-1zM0 2h1v1h-1zM30 2h1v1h-1zM31 3h1v1h-1zM5 4h1v1h-1zM7 4h2v1h-2zM13 4h4v1h-4zM33 4h1v1h-1zM37 4h1v1h-1zM48 4h1v1h-1zM34 5h1v1h-1zM1 6h1v1h-1zM9 6h1v1h-1zM11 6h2v1h-2zM16 6h1v1h-1zM33 6h2v1h-2zM39 6h4v1h-4zM50 6h1v1h-1z"/>
<path fill="#8ccc88" stroke="#8ccc88" stroke-width=".02" d="M29 2h1v1h-1zM47 2h1v1h-1zM52 2h1v1h-1zM6 3h1v1h-1zM20 3h1v1h-1zM29 3h1v1h-1zM47 3h1v1h-1zM1 4h1v1h-1zM4 4h1v1h-1zM6 4h1v1h-1zM10 4h1v1h-1zM12 4h1v1h-1zM36 4h1v1h-1zM38 4h1v1h-1zM40 4h2v1h-2zM49 4h2v1h-2zM8 5h1v1h-1zM13 5h3v1h-3zM33 5h1v1h-1zM37 5h2v1h-2zM48 5h2v1h-2zM0 6h1v1h-1zM3 6h1v1h-1zM10 6h1v1h-1zM18 6h1v1h-1zM32 6h1v1h-1z"/>
<path fill="#66ba75" stroke="#66ba75" stroke-width=".02" d="M29 0h1v1h-1zM52 0h1v1h-1zM29 1h1v1h-1zM52 1h1v1h-1zM26 2h1v1h-1zM31 2h1v1h-1zM26 3h1v1h-1zM0 4h1v1h-1zM3 4h1v1h-1zM9 4h1v1h-1zM11 4h1v1h-1zM32 4h1v1h-1zM39 4h1v1h-1zM44 4h1v1h-1zM5 5h1v1h-1zM7 5h1v1h-1zM9 5h1v1h-1zM11 5h2v1h-2zM16 5h1v1h-1zM32 5h1v1h-1zM36 5h1v1h-1zM39 5h3v1h-3zM43 5h1v1h-1zM50 5h1v1h-1zM2 6h1v1h-1zM6 6h1v1h-1zM17 6h1v1h-1zM19 6h1v1h-1zM31 6h1v1h-1zM44 6h2v1h-2zM47 6h1v1h-1z"/>
<path fill="#40a963" stroke="#40a963" stroke-width=".02" d="M21 0h1v1h-1zM0 1h1v1h-1zM2 4h1v1h-1zM18 4h2v1h-2zM24 4h1v1h-1zM26 4h1v1h-1zM31 4h1v1h-1zM42 4h1v1h-1zM0 5h2v1h-2zM3 5h2v1h-2zM6 5h1v1h-1zM10 5h1v1h-1zM18 5h2v1h-2zM31 5h1v1h-1zM42 5h1v1h-1zM21 6h4v1h-4zM26 6h2v1h-2zM30 6h1v1h-1zM46 6h1v1h-1z"/>
<path fill="#1a9850" stroke="#1a9850" stroke-width=".02" d="M51 3h1v1h-1zM17 4h1v1h-1zM20 4h4v1h-4zM25 4h1v1h-1zM27 4h4v1h-4zM45 4h3v1h-3zM51 4h1v1h-1zM2 5h1v1h-1zM17 5h1v1h-1zM20 5h11v1h-11zM44 5h4v1h-4zM51 5h1v1h-1zM20 6h1v1h-1zM25 6h1v1h-1zM28 6h2v1h-2zM51 6h1v1h-1z"/>
<path fill="none" stroke="#909090" stroke-opacity="1" stroke-width=".064" d="M1 1h52M0 2h53M0 3h52M0 4h52M0 5h52M0 6h52M1 1v6M2 0v7M3 0v7M4 0v7M5 0v7M6 0v7M7 0v7M8 0v7M9 0v7M10 0v7M11 0v7M12 0v7M13 0v7M14 0v7M15 0v7M16 0v7M17 0v7M18 0v7M19 0v7M20 0v7M21 0v7M22 0v7M23 0v7M24 0v7M25 0v7M26 0v7M27 0v7M28 0v7M29 0v7M30 0v7M31 0v7M32 0v7M33 0v7M34 0v7M35 0v7M36 0v7M37 0v7M38 0v7M39 0v7M40 0v7M41 0v7M42 0v7M43 0v7M44 0v7M45 0v7M46 0v7M47 0v7M48 0v7M49 0v7M50 0v7M51 0v7M52 0v3"/>
<path fill="none" stroke="#000" stroke-width=".13" stroke-linecap="square" d="M1 0h52M0 1h1M13 1h1M26 1h1M39 2h1M17 3h1M52 3h1M4 4h1M30 4h1M8 5h1M43 5h1M21 6h1M0 7h52M0 1v6M1 0v1M4 4v3M5 0v4M8 5v2M9 0v5M13 1v6M14 0v1M17 3v4M18 0v3M21 6v1M22 0v6M26 1v6M27 0v1M30 4v3M31 0v4M35 0v7M39 2v5M40 0v2M43 5v2M44 0v5M48 0v7M52 3v4M53 0v3"/>
</g>
<text x="42.2" y="255.61" font-size="9.3" fill="#4d4d4d" text-anchor="end">Mon</text>
<text x="42.2" y="264.18" font-size="9.3" fill="#4d4d4d" text-anchor="end">Tue</text>
<text x="42.2" y="272.75" font-size="9.3" fill="#4d4d4d" text-anchor="end">Wed</text>
<text x="42.2" y="281.32" font-size="9.3" fill="#4d4d4d" text-anchor="end">Thu</text>
<text x="42.2" y="289.89" font-size="9.3" fill="#4d4d4d" text-anchor="end">Fri</text>
<text x="42.2" y="298.46" font-size="9.3" fill="#4d4d4d" text-anchor="end">Sat</text>
<text x="42.2" y="307.03" font-size="9.3" fill="#4d4d4d" text-anchor="end">Sun</text>
<text x="752" y="240.12" font-size="14" fill="#1a1a1a" text-anchor="middle" textLength="33.9" lengthAdjust="spacingAndGlyphs">2009</text>
<g transform="translate(520.5 247.72) scale(8.5714)">
<path fill="#de5240" stroke="#de5240" stroke-width=".02" d="M37 0h2v1h-2zM9 1h1v1h-1zM39 1h1v1h-1zM9 2h1v1h-1zM37 2h3v1h-3zM9 3h1v1h-1zM37 3h3v1h-3z"/>
<path fill="#e4745a" stroke="#e4745a" stroke-width=".02" d="M9 0h1v1h-1zM17 0h1v1h-1zM40 0h1v1h-1zM49 0h2v1h-2zM36 1h3v1h-3zM40 1h1v1h-1zM8 2h1v1h-1zM10 2h1v1h-1zM17 2h1v1h-1zM40 2h1v1h-1zM44 2h1v1h-1zM49 2h1v1h-1zM8 3h1v1h-1zM17 3h1v1h-1zM36 3h1v1h-1zM40 3h1v1h-1zM45 3h1v1h-1zM49 3h1v1h-1z"/>
<path fill="#eb9673" stroke="#eb9673" stroke-width=".02" d="M4 0h3v1h-3zM8 0h1v1h-1zM10 0h3v1h-3zM16 0h1v1h-1zM39 0h1v1h-1zM43 0h3v1h-3zM4 1h3v1h-3zM8 1h1v1h-1zM10 1h3v1h-3zM16 1h2v1h-2zM41 1h1v1h-1zM43 1h1v1h-1zM45 1h1v1h-1zM49 1h2v1h-2zM1 2h2v1h-2zM4 2h4v1h-4zM11 2h2v1h-2zM35 2h2v1h-2zM41 2h2v1h-2zM46 2h1v1h-1zM50 2h1v1h-1zM1 3h1v1h-1zM3 3h5v1h-5zM10 3h3v1h-3zM35 3h1v1h-1zM41 3h1v1h-1zM44 3h1v1h-1zM46 3h1v1h-1zM50 3h1v1h-1z"/>
<path fill="#f2b88c" stroke="#f2b88c" stroke-width=".02" d="M1 0h2v1h-2zM13 0h1v1h-1zM18 0h1v1h-1zM35 0h1v1h-1zM42 0h1v1h-1zM46 0h1v1h-1zM48 0h1v1h-1zM1 1h3v1h-3zM7 1h1v1h-1zM13 1h1v1h-1zM18 1h1v1h-1zM35 1h1v1h-1zM42 1h1v1h-1zM44 1h1v1h-1zM46 1h1v1h-1zM48 1h1v1h-1zM3 2h1v1h-1zM13 2h1v1h-1zM15 2h2v1h-2zM18 2h1v1h-1zM20 2h1v1h-1zM34 2h1v1h-1zM48 2h1v1h-1zM2 3h1v1h-1zM13 3h1v1h-1zM15 3h2v1h-2zM18 3h1v1h-1zM34 3h1v1h-1zM42 3h2v1h-2zM48 3h1v1h-1z"/>
<path fill="#f8dca6" stroke="#f8dca6" stroke-width=".02" d="M14 0h1v1h-1zM19 0h2v1h-2zM34 0h1v1h-1zM14 1h2v1h-2zM19 1h2v1h-2zM34 1h1v1h-1zM14 2h1v1h-1zM19 2h1v1h-1zM31 2h1v1h-1zM43 2h1v1h-1zM19 3h1v1h-1zM31 3h1v1h-1zM33 3h1v1h-1z"/>
<path fill="#ffffbf" stroke="#ffffbf" stroke-width=".02" d="M15 0h1v1h-1zM22 0h1v1h-1zM24 0h1v1h-1zM28 0h1v1h-1zM31 0h3v1h-3zM41 0h1v1h-1zM21 1h2v1h-2zM25 1h1v1h-1zM28 1h1v1h-1zM31 1h3v1h-3zM21 2h2v1h-2zM24 2h1v1h-1zM32 2h2v1h-2zM45 2h1v1h-1zM14 3h1v1h-1zM21 3h2v1h-2zM24 3h1v1h-1zM32 3h1v1h-1zM4 6h1v1h-1zM36 6h1v1h-1z"/>
<path fill="#d9eead" stroke="#d9eead" stroke-width=".02" d="M23 0h1v1h-1zM25 0h1v1h-1zM29 0h2v1h-2zM36 0h1v1h-1zM47 0h1v1h-1zM23 1h2v1h-2zM30 1h1v1h-1zM23 2h1v1h-1zM27 2h1v1h-1zM29 2h2v1h-2zM20 3h1v1h-1zM23 3h1v1h-1zM27 3h1v1h-1zM29 3h2v1h-2zM8 6h1v1h-1zM37 6h2v1h-2zM49 6h1v1h-1z"/>
<path fill="#b3dd9a" stroke="#b3dd9a" stroke-width=".02" d="M7 0h1v1h-1zM27 0h1v1h-1zM51 0h1v1h-1zM27 1h1v1h-1zM29 1h1v1h-1zM47 1h1v1h-1zM51 3h1v1h-1zM8 4h1v1h-1zM10 4h1v1h-1zM35 4h4v1h-4zM43 4h1v1h-1zM49 4h1v1h-1zM35 5h1v1h-1zM43 5h1v1h-1zM9 6h3v1h-3zM14 6h3v1h-3zM34 6h2v1h-2zM39 6h2v1h-2zM42 6h3v1h-3zM48 6h1v1h-1z"/>
<path fill="#8ccc88" stroke="#8ccc88" stroke-width=".02" d="M3 0h1v1h-1zM26 0h1v1h-1zM26 1h1v1h-1zM51 1h1v1h-1zM4 4h1v1h-1zM11 4h1v1h-1zM39 4h2v1h-2zM48 4h1v1h-1zM36 5h3v1h-3zM0 6h2v1h-2zM3 6h1v1h-1zM5 6h1v1h-1zM7 6h1v1h-1zM30 6h1v1h-1zM33 6h1v1h-1zM41 6h1v1h-1z"/>
<path fill="#66ba75" stroke="#66ba75" stroke-width=".02" d="M47 2h1v1h-1zM28 3h1v1h-1zM47 3h1v1h-1zM3 4h1v1h-1zM5 4h1v1h-1zM7 4h1v1h-1zM9 4h1v1h-1zM15 4h2v1h-2zM19 4h1v1h-1zM30 4h1v1h-1zM33 4h2v1h-2zM42 4h1v1h-1zM44 4h1v1h-1zM8 5h1v1h-1zM10 5h2v1h-2zM15 5h2v1h-2zM26 5h1v1h-1zM34 5h1v1h-1zM39 5h2v1h-2zM42 5h1v1h-1zM48 5h2v1h-2zM6 6h1v1h-1zM12 6h2v1h-2zM17 6h3v1h-3zM27 6h1v1h-1zM31 6h2v1h-2zM45 6h1v1h-1zM50 6h1v1h-1z"/>
<path fill="#40a963" stroke="#40a963" stroke-width=".02" d="M21 0h1v1h-1zM26 2h1v1h-1zM51 2h1v1h-1zM25 3h2v1h-2zM52 3h1v1h-1zM0 4h2v1h-2zM6 4h1v1h-1zM12 4h1v1h-1zM18 4h1v1h-1zM21 4h1v1h-1zM23 4h1v1h-1zM26 4h1v1h-1zM29 4h1v1h-1zM31 4h2v1h-2zM41 4h1v1h-1zM45 4h1v1h-1zM50 4h1v1h-1zM0 5h1v1h-1zM4 5h1v1h-1zM7 5h1v1h-1zM9 5h1v1h-1zM14 5h1v1h-1zM27 5h1v1h-1zM30 5h4v1h-4zM44 5h1v1h-1zM50 5h1v1h-1zM2 6h1v1h-1zM21 6h4v1h-4zM26 6h1v1h-1zM28 6h2v1h-2zM47 6h1v1h-1z"/>
<path fill="#1a9850" stroke="#1a9850" stroke-width=".02" d="M52 0h1v1h-1zM52 1h1v1h-1zM25 2h1v1h-1zM28 2h1v1h-1zM52 2h1v1h-1zM0 3h1v1h-1zM2 4h1v1h-1zM13 4h2v1h-2zM17 4h1v1h-1zM20 4h1v1h-1zM22 4h1v1h-1zM24 4h2v1h-2zM27 4h2v1h-2zM46 4h2v1h-2zM51 4h1v1h-1zM1 5h3v1h-3zM5 5h2v1h-2zM12 5h2v1h-2zM17 5h9v1h-9zM28 5h2v1h-2zM41 5h1v1h-1zM45 5h3v1h-3zM51 5h1v1h-1zM20 6h1v1h-1zM25 6h1v1h-1zM46 6h1v1h-1zM51 6h1v1h-1z"/>
<path fill="none" stroke="#909090" stroke-opacity="1" stroke-width=".064" d="M1 1h52M1 2h52M1 3h52M0 4h52M0 5h52M0 6h52M1 3v4M2 0v7M3 0v7M4 0v7M5 0v7M6 0v7M7 0v7M8 0v7M9 0v7M10 0v7M11 0v7M12 0v7M13 0v7M14 0v7M15 0v7M16 0v7M17 0v7M18 0v7M19 0v7M20 0v7M21 0v7M22 0v7M23 0v7M24 0v7M25 0v7M26 0v7M27 0v7M28 0v7M29 0v7M30 0v7M31 0v7M32 0v7M33 0v7M34 0v7M35 0v7M36 0v7M37 0v7M38 0v7M39 0v7M40 0v7M41 0v7M42 0v7M43 0v7M44 0v7M45 0v7M46 0v7M47 0v7M48 0v7M49 0v7M50 0v7M51 0v7M52 0v4"/>
<path fill="none" stroke="#000" stroke-width=".13" stroke-linecap="square" d="M1 0h52M35 1h1M48 1h1M13 2h1M26 2h1M0 3h1M39 3h1M17 4h1M52 4h1M30 5h1M4 6h1M8 6h1M43 6h1M0 7h52M0 3v4M1 0v3M4 6v1M5 0v6M8 6v1M9 0v6M13 2v5M14 0v2M17 4v3M18 0v4M22 0v7M26 2v5M27 0v2M30 5v2M31 0v5M35 1v6M36 0v1M39 3v4M40 0v3M43 6v1M44 0v6M48 1v6M49 0v1M52 4v3M53 0v4"/>
</g>
<text x="281.2" y="334.23" font-size="14" fill="#1a1a1a" text-anchor="middle" textLength="30.6" lengthAdjust="spacingAndGlyphs">2010</text>
<g transform="translate(49.7 341.83) scale(8.5714)">
<path fill="#de5240" stroke="#de5240" stroke-width=".02" d="M37 0h1v1h-1zM49 0h1v1h-1zM18 2h1v1h-1zM36 2h2v1h-2zM49 2h1v1h-1zM18 3h1v1h-1zM36 3h2v1h-2zM49 3h1v1h-1z"/>
<path fill="#e4745a" stroke="#e4745a" stroke-width=".02" d="M17 0h2v1h-2zM38 0h1v1h-1zM40 0h1v1h-1zM46 0h1v1h-1zM50 0h1v1h-1zM17 1h2v1h-2zM36 1h3v1h-3zM41 1h1v1h-1zM46 1h1v1h-1zM49 1h2v1h-2zM17 2h1v1h-1zM38 2h1v1h-1zM40 2h2v1h-2zM44 2h1v1h-1zM46 2h1v1h-1zM50 2h1v1h-1zM17 3h1v1h-1zM38 3h4v1h-4zM46 3h1v1h-1z"/>
<path fill="#eb9673" stroke="#eb9673" stroke-width=".02" d="M5 0h1v1h-1zM9 0h1v1h-1zM15 0h2v1h-2zM35 0h1v1h-1zM39 0h1v1h-1zM42 0h4v1h-4zM6 1h1v1h-1zM8 1h1v1h-1zM15 1h2v1h-2zM39 1h2v1h-2zM42 1h2v1h-2zM45 1h1v1h-1zM5 2h2v1h-2zM8 2h1v1h-1zM12 2h1v1h-1zM15 2h2v1h-2zM35 2h1v1h-1zM39 2h1v1h-1zM43 2h1v1h-1zM48 2h1v1h-1zM5 3h2v1h-2zM8 3h2v1h-2zM12 3h1v1h-1zM35 3h1v1h-1zM43 3h2v1h-2zM48 3h1v1h-1zM50 3h1v1h-1z"/>
<path fill="#f2b88c" stroke="#f2b88c" stroke-width=".02" d="M4 0h1v1h-1zM6 0h1v1h-1zM8 0h1v1h-1zM12 0h1v1h-1zM48 0h1v1h-1zM4 1h2v1h-2zM9 1h1v1h-1zM12 1h1v1h-1zM35 1h1v1h-1zM44 1h1v1h-1zM48 1h1v1h-1zM3 2h2v1h-2zM7 2h1v1h-1zM9 2h1v1h-1zM11 2h1v1h-1zM19 2h3v1h-3zM34 2h1v1h-1zM42 2h1v1h-1zM45 2h1v1h-1zM3 3h2v1h-2zM7 3h1v1h-1zM11 3h1v1h-1zM15 3h2v1h-2zM19 3h2v1h-2zM34 3h1v1h-1zM42 3h1v1h-1z"/>
<path fill="#f8dca6" stroke="#f8dca6" stroke-width=".02" d="M2 0h1v1h-1zM11 0h1v1h-1zM13 0h1v1h-1zM19 0h3v1h-3zM23 0h1v1h-1zM34 0h1v1h-1zM41 0h1v1h-1zM2 1h2v1h-2zM7 1h1v1h-1zM10 1h2v1h-2zM13 1h1v1h-1zM19 1h3v1h-3zM34 1h1v1h-1zM2 2h1v1h-1zM10 2h1v1h-1zM1 3h2v1h-2zM10 3h1v1h-1zM22 3h3v1h-3z"/>
<path fill="#ffffbf" stroke="#ffffbf" stroke-width=".02" d="M10 0h1v1h-1zM24 0h1v1h-1zM32 0h2v1h-2zM47 0h1v1h-1zM1 1h1v1h-1zM14 1h1v1h-1zM22 1h3v1h-3zM33 1h1v1h-1zM1 2h1v1h-1zM13 2h2v1h-2zM22 2h3v1h-3zM32 2h1v1h-1zM14 3h1v1h-1zM31 3h3v1h-3zM5 6h1v1h-1zM36 6h1v1h-1zM43 6h1v1h-1z"/>
<path fill="#d9eead" stroke="#d9eead" stroke-width=".02" d="M1 0h1v1h-1zM14 0h1v1h-1zM26 0h1v1h-1zM31 0h1v1h-1zM36 0h1v1h-1zM51 0h1v1h-1zM31 1h2v1h-2zM47 1h1v1h-1zM31 2h1v1h-1zM33 2h1v1h-1zM13 3h1v1h-1zM45 3h1v1h-1zM35 4h2v1h-2zM48 4h1v1h-1zM36 5h1v1h-1zM17 6h1v1h-1zM37 6h1v1h-1zM39 6h2v1h-2zM48 6h2v1h-2z"/>
<path fill="#b3dd9a" stroke="#b3dd9a" stroke-width=".02" d="M25 0h1v1h-1zM28 0h3v1h-3zM25 1h2v1h-2zM28 1h3v1h-3zM51 1h1v1h-1zM25 2h1v1h-1zM27 2h4v1h-4zM21 3h1v1h-1zM25 3h1v1h-1zM27 3h4v1h-4zM16 4h1v1h-1zM40 4h1v1h-1zM49 4h1v1h-1zM51 4h1v1h-1zM35 5h1v1h-1zM48 5h1v1h-1zM8 6h1v1h-1zM16 6h1v1h-1zM34 6h2v1h-2zM38 6h1v1h-1zM41 6h2v1h-2zM45 6h1v1h-1z"/>
<path fill="#8ccc88" stroke="#8ccc88" stroke-width=".02" d="M7 0h1v1h-1zM27 1h1v1h-1zM51 2h1v1h-1zM51 3h1v1h-1zM4 4h2v1h-2zM8 4h1v1h-1zM15 4h1v1h-1zM17 4h1v1h-1zM33 4h2v1h-2zM37 4h3v1h-3zM43 4h1v1h-1zM40 5h1v1h-1zM43 5h1v1h-1zM49 5h1v1h-1zM3 6h2v1h-2zM7 6h1v1h-1zM11 6h1v1h-1zM14 6h2v1h-2zM19 6h1v1h-1zM31 6h3v1h-3zM50 6h1v1h-1z"/>
<path fill="#66ba75" stroke="#66ba75" stroke-width=".02" d="M3 0h1v1h-1zM22 0h1v1h-1zM47 2h1v1h-1zM47 3h1v1h-1zM52 3h1v1h-1zM3 4h1v1h-1zM7 4h1v1h-1zM10 4h2v1h-2zM14 4h1v1h-1zM22 4h1v1h-1zM31 4h1v1h-1zM45 4h1v1h-1zM5 5h1v1h-1zM15 5h3v1h-3zM33 5h2v1h-2zM37 5h3v1h-3zM45 5h1v1h-1zM50 5h1v1h-1zM1 6h1v1h-1zM10 6h1v1h-1zM12 6h2v1h-2zM20 6h1v1h-1zM22 6h2v1h-2zM30 6h1v1h-1zM44 6h1v1h-1zM47 6h1v1h-1z"/>
<path fill="#40a963" stroke="#40a963" stroke-width=".02" d="M52 0h1v1h-1zM52 1h1v1h-1zM52 2h1v1h-1zM1 4h2v1h-2zM6 4h1v1h-1zM12 4h1v1h-1zM19 4h3v1h-3zM23 4h1v1h-1zM25 4h1v1h-1zM29 4h2v1h-2zM32 4h1v1h-1zM41 4h2v1h-2zM44 4h1v1h-1zM50 4h1v1h-1zM52 4h1v1h-1zM4 5h1v1h-1zM8 5h1v1h-1zM11 5h1v1h-1zM14 5h1v1h-1zM22 5h1v1h-1zM30 5h3v1h-3zM41 5h2v1h-2zM0 6h1v1h-1zM2 6h1v1h-1zM9 6h1v1h-1zM18 6h1v1h-1zM25 6h3v1h-3zM29 6h1v1h-1zM46 6h1v1h-1zM51 6h1v1h-1z"/>
<path fill="#1a9850" stroke="#1a9850" stroke-width=".02" d="M27 0h1v1h-1zM26 2h1v1h-1zM26 3h1v1h-1zM0 4h1v1h-1zM9 4h1v1h-1zM13 4h1v1h-1zM18 4h1v1h-1zM24 4h1v1h-1zM26 4h3v1h-3zM46 4h2v1h-2zM0 5h4v1h-4zM6 5h2v1h-2zM9 5h2v1h-2zM12 5h2v1h-2zM18 5h4v1h-4zM23 5h7v1h-7zM44 5h1v1h-1zM46 5h2v1h-2zM51 5h1v1h-1zM6 6h1v1h-1zM21 6h1v1h-1zM24 6h1v1h-1zM28 6h1v1h-1z"/>
<path fill="none" stroke="#909090" stroke-opacity="1" stroke-width=".064" d="M1 1h52M1 2h52M1 3h52M1 4h52M0 5h52M0 6h52M1 4v3M2 0v7M3 0v7M4 0v7M5 0v7M6 0v7M7 0v7M8 0v7M9 0v7M10 0v7M11 0v7M12 0v7M13 0v7M14 0v7M15 0v7M16 0v7M17 0v7M18 0v7M19 0v7M20 0v7M21 0v7M22 0v7M23 0v7M24 0v7M25 0v7M26 0v7M27 0v7M28 0v7M29 0v7M30 0v7M31 0v7M32 0v7M33 0v7M34 0v7M35 0v7M36 0v7M37 0v7M38 0v7M39 0v7M40 0v7M41 0v7M42 0v7M43 0v7M44 0v7M45 0v7M46 0v7M47 0v7M48 0v7M49 0v7M50 0v7M51 0v7M52 0v5"/>
<path fill="none" stroke="#000" stroke-width=".13" stroke-linecap="square" d="M1 0h52M22 1h1M35 2h1M48 2h1M13 3h1M26 3h1M0 4h1M39 4h1M17 5h1M52 5h1M30 6h1M0 7h52M0 4v3M1 0v4M5 0v7M9 0v7M13 3v4M14 0v3M17 5v2M18 0v5M22 1v6M23 0v1M26 3v4M27 0v3M30 6v1M31 0v6M35 2v5M36 0v2M39 4v3M40 0v4M44 0v7M48 2v5M49 0v2M52 5v2M53 0v5"/>
</g>
<text x="42.2" y="349.72" font-size="9.3" fill="#4d4d4d" text-anchor="end">Mon</text>
<text x="42.2" y="358.29" font-size="9.3" fill="#4d4d4d" text-anchor="end">Tue</text>
<text x="42.2" y="366.86" font-size="9.3" fill="#4d4d4d" text-anchor="end">Wed</text>
<text x="42.2" y="375.43" font-size="9.3" fill="#4d4d4d" text-anchor="end">Thu</text>
<text x="42.2" y="384" font-size="9.3" fill="#4d4d4d" text-anchor="end">Fri</text>
<text x="42.2" y="392.57" font-size="9.3" fill="#4d4d4d" text-anchor="end">Sat</text>
<text x="42.2" y="401.14" font-size="9.3" fill="#4d4d4d" text-anchor="end">Sun</text>
<text x="752" y="334.23" font-size="14" fill="#1a1a1a" text-anchor="middle" textLength="27.6" lengthAdjust="spacingAndGlyphs">2011</text>
<g transform="translate(520.5 341.83) scale(8.5714)">
<path fill="#de5240" stroke="#de5240" stroke-width=".02" d="M6 0h1v1h-1zM37 0h1v1h-1zM40 0h1v1h-1zM42 0h1v1h-1zM49 0h2v1h-2zM6 2h1v1h-1zM36 2h2v1h-2zM40 2h2v1h-2zM49 2h2v1h-2zM6 3h1v1h-1zM36 3h2v1h-2zM40 3h1v1h-1zM42 3h1v1h-1zM49 3h1v1h-1z"/>
<path fill="#e4745a" stroke="#e4745a" stroke-width=".02" d="M2 0h1v1h-1zM4 0h2v1h-2zM9 0h1v1h-1zM15 0h1v1h-1zM38 0h1v1h-1zM43 0h1v1h-1zM45 0h1v1h-1zM5 1h2v1h-2zM36 1h2v1h-2zM40 1h3v1h-3zM49 1h2v1h-2zM3 2h3v1h-3zM7 2h1v1h-1zM9 2h2v1h-2zM15 2h1v1h-1zM38 2h1v1h-1zM42 2h5v1h-5zM48 2h1v1h-1zM3 3h1v1h-1zM5 3h1v1h-1zM9 3h1v1h-1zM38 3h1v1h-1zM41 3h1v1h-1zM43 3h2v1h-2zM46 3h1v1h-1zM48 3h1v1h-1zM50 3h1v1h-1z"/>
<path fill="#eb9673" stroke="#eb9673" stroke-width=".02" d="M10 0h1v1h-1zM13 0h2v1h-2zM35 0h1v1h-1zM39 0h1v1h-1zM46 0h1v1h-1zM48 0h1v1h-1zM2 1h3v1h-3zM7 1h1v1h-1zM9 1h2v1h-2zM13 1h3v1h-3zM43 1h2v1h-2zM48 1h1v1h-1zM2 2h1v1h-1zM8 2h1v1h-1zM12 2h3v1h-3zM17 2h2v1h-2zM35 2h1v1h-1zM39 2h1v1h-1zM2 3h1v1h-1zM4 3h1v1h-1zM7 3h2v1h-2zM10 3h1v1h-1zM12 3h4v1h-4zM17 3h2v1h-2zM35 3h1v1h-1zM45 3h1v1h-1z"/>
<path fill="#f2b88c" stroke="#f2b88c" stroke-width=".02" d="M12 0h1v1h-1zM16 0h1v1h-1zM18 0h1v1h-1zM44 0h1v1h-1zM11 1h2v1h-2zM17 1h2v1h-2zM35 1h1v1h-1zM38 1h2v1h-2zM45 1h2v1h-2zM1 2h1v1h-1zM11 2h1v1h-1zM19 2h3v1h-3zM34 2h1v1h-1zM1 3h1v1h-1zM11 3h1v1h-1zM19 3h2v1h-2zM34 3h1v1h-1zM39 3h1v1h-1zM5 6h1v1h-1z"/>
<path fill="#f8dca6" stroke="#f8dca6" stroke-width=".02" d="M11 0h1v1h-1zM17 0h1v1h-1zM19 0h2v1h-2zM34 0h1v1h-1zM41 0h1v1h-1zM1 1h1v1h-1zM8 1h1v1h-1zM16 1h1v1h-1zM19 1h3v1h-3zM34 1h1v1h-1zM16 2h1v1h-1zM24 2h1v1h-1zM16 3h1v1h-1z"/>
<path fill="#ffffbf" stroke="#ffffbf" stroke-width=".02" d="M1 0h1v1h-1zM21 0h1v1h-1zM23 0h3v1h-3zM47 0h1v1h-1zM51 0h1v1h-1zM23 1h2v1h-2zM51 1h1v1h-1zM22 2h2v1h-2zM25 2h1v1h-1zM28 2h1v1h-1zM33 2h1v1h-1zM22 3h4v1h-4zM28 3h1v1h-1zM33 3h1v1h-1zM3 6h1v1h-1zM36 6h1v1h-1zM48 6h2v1h-2z"/>
<path fill="#d9eead" stroke="#d9eead" stroke-width=".02" d="M7 0h1v1h-1zM26 0h1v1h-1zM28 0h1v1h-1zM32 0h2v1h-2zM22 1h1v1h-1zM25 1h2v1h-2zM28 1h1v1h-1zM31 1h3v1h-3zM47 1h1v1h-1zM30 2h3v1h-3zM27 3h1v1h-1zM30 3h3v1h-3zM34 4h3v1h-3zM48 4h2v1h-2zM34 5h1v1h-1zM36 5h1v1h-1zM51 5h1v1h-1zM34 6h1v1h-1zM37 6h1v1h-1zM40 6h2v1h-2zM43 6h1v1h-1z"/>
<path fill="#b3dd9a" stroke="#b3dd9a" stroke-width=".02" d="M3 0h1v1h-1zM8 0h1v1h-1zM30 0h2v1h-2zM36 0h1v1h-1zM27 1h1v1h-1zM29 1h2v1h-2zM27 2h1v1h-1zM29 2h1v1h-1zM51 2h1v1h-1zM29 3h1v1h-1zM47 3h1v1h-1zM51 3h1v1h-1zM1 4h1v1h-1zM3 4h3v1h-3zM8 4h1v1h-1zM11 4h1v1h-1zM37 4h1v1h-1zM39 4h3v1h-3zM43 4h1v1h-1zM35 5h1v1h-1zM37 5h1v1h-1zM48 5h2v1h-2zM1 6h2v1h-2zM4 6h1v1h-1zM8 6h1v1h-1zM10 6h3v1h-3zM14 6h1v1h-1zM16 6h1v1h-1zM33 6h1v1h-1zM35 6h1v1h-1zM38 6h2v1h-2zM42 6h1v1h-1zM50 6h1v1h-1z"/>
<path fill="#8ccc88" stroke="#8ccc88" stroke-width=".02" d="M29 0h1v1h-1zM47 2h1v1h-1zM2 4h1v1h-1zM9 4h2v1h-2zM12 4h1v1h-1zM14 4h1v1h-1zM33 4h1v1h-1zM38 4h1v1h-1zM44 4h1v1h-1zM50 4h1v1h-1zM5 5h1v1h-1zM33 5h1v1h-1zM40 5h2v1h-2zM43 5h1v1h-1zM6 6h1v1h-1zM9 6h1v1h-1zM13 6h1v1h-1zM15 6h1v1h-1zM44 6h2v1h-2z"/>
<path fill="#66ba75" stroke="#66ba75" stroke-width=".02" d="M27 0h1v1h-1zM52 2h1v1h-1zM26 3h1v1h-1zM52 3h1v1h-1zM6 4h2v1h-2zM13 4h1v1h-1zM15 4h1v1h-1zM23 4h1v1h-1zM32 4h1v1h-1zM51 4h1v1h-1zM1 5h1v1h-1zM3 5h2v1h-2zM11 5h1v1h-1zM39 5h1v1h-1zM42 5h1v1h-1zM50 5h1v1h-1zM0 6h1v1h-1zM7 6h1v1h-1zM17 6h1v1h-1zM19 6h1v1h-1zM22 6h2v1h-2zM27 6h1v1h-1zM32 6h1v1h-1zM47 6h1v1h-1z"/>
<path fill="#40a963" stroke="#40a963" stroke-width=".02" d="M22 0h1v1h-1zM52 1h1v1h-1zM26 2h1v1h-1zM21 3h1v1h-1zM16 4h2v1h-2zM19 4h1v1h-1zM24 4h1v1h-1zM27 4h1v1h-1zM31 4h1v1h-1zM42 4h1v1h-1zM45 4h1v1h-1zM52 4h1v1h-1zM2 5h1v1h-1zM8 5h1v1h-1zM10 5h1v1h-1zM12 5h5v1h-5zM23 5h1v1h-1zM32 5h1v1h-1zM38 5h1v1h-1zM44 5h2v1h-2zM52 5h1v1h-1zM18 6h1v1h-1zM20 6h1v1h-1zM24 6h2v1h-2zM28 6h4v1h-4zM46 6h1v1h-1z"/>
<path fill="#1a9850" stroke="#1a9850" stroke-width=".02" d="M52 0h1v1h-1zM18 4h1v1h-1zM20 4h3v1h-3zM25 4h2v1h-2zM28 4h3v1h-3zM46 4h2v1h-2zM0 5h1v1h-1zM6 5h2v1h-2zM9 5h1v1h-1zM17 5h6v1h-6zM24 5h8v1h-8zM46 5h2v1h-2zM21 6h1v1h-1zM26 6h1v1h-1zM51 6h1v1h-1z"/>
<path fill="none" stroke="#909090" stroke-opacity="1" stroke-width=".064" d="M1 1h52M1 2h52M1 3h52M1 4h52M1 5h52M0 6h52M1 5v2M2 0v7M3 0v7M4 0v7M5 0v7M6 0v7M7 0v7M8 0v7M9 0v7M10 0v7M11 0v7M12 0v7M13 0v7M14 0v7M15 0v7M16 0v7M17 0v7M18 0v7M19 0v7M20 0v7M21 0v7M22 0v7M23 0v7M24 0v7M25 0v7M26 0v7M27 0v7M28 0v7M29 0v7M30 0v7M31 0v7M32 0v7M33 0v7M34 0v7M35 0v7M36 0v7M37 0v7M38 0v7M39 0v7M40 0v7M41 0v7M42 0v7M43 0v7M44 0v7M45 0v7M46 0v7M47 0v7M48 0v7M49 0v7M50 0v7M51 0v7M52 0v6"/>
<path fill="none" stroke="#000" stroke-width=".13" stroke-linecap="square" d="M1 0h52M5 1h1M9 1h1M44 1h1M22 2h1M35 3h1M48 3h1M13 4h1M26 4h1M0 5h1M39 5h1M17 6h1M52 6h1M0 7h52M0 5v2M1 0v5M5 1v6M6 0v1M9 1v6M10 0v1M13 4v3M14 0v4M17 6v1M18 0v6M22 2v5M23 0v2M26 4v3M27 0v4M31 0v7M35 3v4M36 0v3M39 5v2M40 0v5M44 1v6M45 0v1M48 3v4M49 0v3M52 6v1M53 0v6"/>
</g>
<text x="281.2" y="428.34" font-size="14" fill="#1a1a1a" text-anchor="middle" textLength="31" lengthAdjust="spacingAndGlyphs">2012</text>
<g transform="translate(49.7 435.94) scale(8.5714)">
<path fill="#d73027" stroke="#d73027" stroke-width=".02" d="M37 0h1v1h-1zM37 2h1v1h-1zM37 3h1v1h-1z"/>
<path fill="#de5240" stroke="#de5240" stroke-width=".02" d="M38 0h2v1h-2zM44 0h1v1h-1zM50 0h1v1h-1zM37 1h1v1h-1zM36 2h1v1h-1zM38 2h1v1h-1zM50 2h1v1h-1zM18 3h1v1h-1zM36 3h1v1h-1zM38 3h2v1h-2zM50 3h1v1h-1z"/>
<path fill="#e4745a" stroke="#e4745a" stroke-width=".02" d="M5 0h2v1h-2zM18 0h1v1h-1zM40 0h1v1h-1zM43 0h1v1h-1zM49 0h1v1h-1zM6 1h1v1h-1zM36 1h1v1h-1zM38 1h2v1h-2zM50 1h1v1h-1zM3 2h1v1h-1zM5 2h2v1h-2zM9 2h1v1h-1zM16 2h1v1h-1zM18 2h1v1h-1zM39 2h2v1h-2zM43 2h1v1h-1zM45 2h1v1h-1zM3 3h1v1h-1zM5 3h2v1h-2zM9 3h1v1h-1zM12 3h1v1h-1zM16 3h1v1h-1zM40 3h1v1h-1zM44 3h1v1h-1z"/>
<path fill="#eb9673" stroke="#eb9673" stroke-width=".02" d="M2 0h1v1h-1zM4 0h1v1h-1zM9 0h2v1h-2zM12 0h1v1h-1zM16 0h1v1h-1zM45 0h1v1h-1zM3 1h1v1h-1zM5 1h1v1h-1zM9 1h1v1h-1zM16 1h1v1h-1zM18 1h1v1h-1zM44 1h1v1h-1zM2 2h1v1h-1zM4 2h1v1h-1zM7 2h2v1h-2zM10 2h1v1h-1zM12 2h1v1h-1zM17 2h1v1h-1zM35 2h1v1h-1zM41 2h2v1h-2zM44 2h1v1h-1zM49 2h1v1h-1zM2 3h1v1h-1zM4 3h1v1h-1zM7 3h2v1h-2zM10 3h1v1h-1zM17 3h1v1h-1zM35 3h1v1h-1zM41 3h1v1h-1zM43 3h1v1h-1zM46 3h1v1h-1zM49 3h1v1h-1z"/>
<path fill="#f2b88c" stroke="#f2b88c" stroke-width=".02" d="M11 0h1v1h-1zM17 0h1v1h-1zM35 0h1v1h-1zM42 0h1v1h-1zM2 1h1v1h-1zM4 1h1v1h-1zM10 1h1v1h-1zM12 1h1v1h-1zM17 1h1v1h-1zM35 1h1v1h-1zM40 1h4v1h-4zM48 1h2v1h-2zM11 2h1v1h-1zM15 2h1v1h-1zM21 2h1v1h-1zM46 2h1v1h-1zM48 2h1v1h-1zM11 3h1v1h-1zM15 3h1v1h-1zM34 3h1v1h-1zM42 3h1v1h-1zM45 3h1v1h-1zM48 3h1v1h-1z"/>
<path fill="#f8dca6" stroke="#f8dca6" stroke-width=".02" d="M7 0h1v1h-1zM14 0h1v1h-1zM20 0h2v1h-2zM23 0h1v1h-1zM34 0h1v1h-1zM48 0h1v1h-1zM51 0h1v1h-1zM8 1h1v1h-1zM11 1h1v1h-1zM14 1h2v1h-2zM20 1h2v1h-2zM34 1h1v1h-1zM45 1h2v1h-2zM51 1h1v1h-1zM1 2h1v1h-1zM13 2h1v1h-1zM22 2h2v1h-2zM34 2h1v1h-1zM51 2h1v1h-1zM1 3h1v1h-1zM13 3h1v1h-1zM20 3h4v1h-4zM25 3h1v1h-1zM32 3h2v1h-2zM51 3h1v1h-1zM36 4h1v1h-1zM5 6h1v1h-1zM36 6h1v1h-1z"/>
<path fill="#ffffbf" stroke="#ffffbf" stroke-width=".02" d="M13 0h1v1h-1zM15 0h1v1h-1zM25 0h1v1h-1zM31 0h3v1h-3zM41 0h1v1h-1zM1 1h1v1h-1zM13 1h1v1h-1zM22 1h2v1h-2zM25 1h1v1h-1zM32 1h2v1h-2zM14 2h1v1h-1zM19 2h2v1h-2zM24 2h3v1h-3zM29 2h1v1h-1zM31 2h3v1h-3zM19 3h1v1h-1zM24 3h1v1h-1zM26 3h1v1h-1zM29 3h1v1h-1zM31 3h1v1h-1zM36 5h1v1h-1zM37 6h2v1h-2zM43 6h1v1h-1zM49 6h1v1h-1z"/>
<path fill="#d9eead" stroke="#d9eead" stroke-width=".02" d="M19 0h1v1h-1zM24 0h1v1h-1zM26 0h1v1h-1zM28 0h2v1h-2zM36 0h1v1h-1zM46 0h2v1h-2zM52 0h1v1h-1zM19 1h1v1h-1zM24 1h1v1h-1zM26 1h1v1h-1zM31 1h1v1h-1zM28 2h1v1h-1zM30 2h1v1h-1zM14 3h1v1h-1zM28 3h1v1h-1zM30 3h1v1h-1zM34 4h2v1h-2zM37 4h1v1h-1zM49 4h1v1h-1zM37 5h1v1h-1zM34 6h1v1h-1zM48 6h1v1h-1z"/>
<path fill="#b3dd9a" stroke="#b3dd9a" stroke-width=".02" d="M3 0h1v1h-1zM8 0h1v1h-1zM27 0h1v1h-1zM30 0h1v1h-1zM7 1h1v1h-1zM28 1h3v1h-3zM47 1h1v1h-1zM4 4h1v1h-1zM17 4h1v1h-1zM38 4h1v1h-1zM34 5h2v1h-2zM38 5h1v1h-1zM1 6h1v1h-1zM3 6h2v1h-2zM8 6h1v1h-1zM11 6h1v1h-1zM14 6h2v1h-2zM17 6h1v1h-1zM35 6h1v1h-1zM39 6h1v1h-1zM42 6h1v1h-1z"/>
<path fill="#8ccc88" stroke="#8ccc88" stroke-width=".02" d="M2 4h2v1h-2zM5 4h1v1h-1zM8 4h1v1h-1zM10 4h2v1h-2zM15 4h1v1h-1zM39 4h1v1h-1zM43 4h1v1h-1zM48 4h1v1h-1zM51 4h1v1h-1zM17 5h1v1h-1zM43 5h1v1h-1zM49 5h1v1h-1zM2 6h1v1h-1zM10 6h1v1h-1zM16 6h1v1h-1zM31 6h3v1h-3zM41 6h1v1h-1zM50 6h1v1h-1z"/>
<path fill="#66ba75" stroke="#66ba75" stroke-width=".02" d="M1 0h1v1h-1zM22 0h1v1h-1zM53 0h1v1h-1zM27 3h1v1h-1zM1 4h1v1h-1zM7 4h1v1h-1zM9 4h1v1h-1zM16 4h1v1h-1zM20 4h1v1h-1zM22 4h1v1h-1zM24 4h1v1h-1zM30 4h2v1h-2zM33 4h1v1h-1zM40 4h3v1h-3zM44 4h1v1h-1zM2 5h4v1h-4zM15 5h1v1h-1zM31 5h1v1h-1zM33 5h1v1h-1zM48 5h1v1h-1zM51 5h1v1h-1zM0 6h1v1h-1zM6 6h2v1h-2zM9 6h1v1h-1zM13 6h1v1h-1zM20 6h1v1h-1zM22 6h1v1h-1zM30 6h1v1h-1zM40 6h1v1h-1zM44 6h2v1h-2zM51 6h1v1h-1z"/>
<path fill="#40a963" stroke="#40a963" stroke-width=".02" d="M27 2h1v1h-1zM47 2h1v1h-1zM52 2h1v1h-1zM47 3h1v1h-1zM52 3h1v1h-1zM13 4h2v1h-2zM19 4h1v1h-1zM21 4h1v1h-1zM25 4h1v1h-1zM28 4h1v1h-1zM32 4h1v1h-1zM45 4h1v1h-1zM50 4h1v1h-1zM1 5h1v1h-1zM8 5h1v1h-1zM10 5h2v1h-2zM13 5h2v1h-2zM16 5h1v1h-1zM21 5h2v1h-2zM30 5h1v1h-1zM32 5h1v1h-1zM39 5h4v1h-4zM44 5h1v1h-1zM50 5h1v1h-1zM12 6h1v1h-1zM19 6h1v1h-1zM21 6h1v1h-1zM23 6h6v1h-6zM47 6h1v1h-1z"/>
<path fill="#1a9850" stroke="#1a9850" stroke-width=".02" d="M27 1h1v1h-1zM52 1h1v1h-1zM6 4h1v1h-1zM12 4h1v1h-1zM18 4h1v1h-1zM23 4h1v1h-1zM26 4h2v1h-2zM29 4h1v1h-1zM46 4h2v1h-2zM52 4h1v1h-1zM6 5h2v1h-2zM9 5h1v1h-1zM12 5h1v1h-1zM18 5h3v1h-3zM23 5h7v1h-7zM45 5h3v1h-3zM52 5h1v1h-1zM18 6h1v1h-1zM29 6h1v1h-1zM46 6h1v1h-1zM52 6h1v1h-1z"/>
<path fill="none" stroke="#909090" stroke-opacity="1" stroke-width=".064" d="M1 1h52M1 2h52M1 3h52M1 4h52M1 5h52M1 6h52M1 6v1M2 0v7M3 0v7M4 0v7M5 0v7M6 0v7M7 0v7M8 0v7M9 0v7M10 0v7M11 0v7M12 0v7M13 0v7M14 0v7M15 0v7M16 0v7M17 0v7M18 0v7M19 0v7M20 0v7M21 0v7M22 0v7M23 0v7M24 0v7M25 0v7M26 0v7M27 0v7M28 0v7M29 0v7M30 0v7M31 0v7M32 0v7M33 0v7M34 0v7M35 0v7M36 0v7M37 0v7M38 0v7M39 0v7M40 0v7M41 0v7M42 0v7M43 0v7M44 0v7M45 0v7M46 0v7M47 0v7M48 0v7M49 0v7M50 0v7M51 0v7M52 0v7M53 0v1"/>
<path fill="none" stroke="#000" stroke-width=".13" stroke-linecap="square" d="M1 0h53M18 1h1M53 1h1M5 2h1M31 2h1M9 3h1M44 3h1M22 4h1M35 5h1M48 5h1M0 6h1M13 6h1M26 6h1M0 7h53M0 6v1M1 0v6M5 2v5M6 0v2M9 3v4M10 0v3M13 6v1M14 0v6M18 1v6M19 0v1M22 4v3M23 0v4M26 6v1M27 0v6M31 2v5M32 0v2M35 5v2M36 0v5M40 0v7M44 3v4M45 0v3M48 5v2M49 0v5M53 1v6M54 0v1"/>
</g>
<text x="42.2" y="443.83" font-size="9.3" fill="#4d4d4d" text-anchor="end">Mon</text>
<text x="42.2" y="452.4" font-size="9.3" fill="#4d4d4d" text-anchor="end">Tue</text>
<text x="42.2" y="460.97" font-size="9.3" fill="#4d4d4d" text-anchor="end">Wed</text>
<text x="42.2" y="469.54" font-size="9.3" fill="#4d4d4d" text-anchor="end">Thu</text>
<text x="42.2" y="478.11" font-size="9.3" fill="#4d4d4d" text-anchor="end">Fri</text>
<text x="42.2" y="486.68" font-size="9.3" fill="#4d4d4d" text-anchor="end">Sat</text>
<text x="42.2" y="495.25" font-size="9.3" fill="#4d4d4d" text-anchor="end">Sun</text>
<text x="752" y="428.34" font-size="14" fill="#1a1a1a" text-anchor="middle" textLength="31" lengthAdjust="spacingAndGlyphs">2013</text>
<g transform="translate(520.5 435.94) scale(8.5714)">
<path fill="#de5240" stroke="#de5240" stroke-width=".02" d="M5 0h1v1h-1zM8 0h1v1h-1zM36 0h4v1h-4zM36 1h1v1h-1zM4 2h3v1h-3zM8 2h2v1h-2zM35 2h4v1h-4zM5 3h1v1h-1zM8 3h1v1h-1zM17 3h1v1h-1zM35 3h5v1h-5z"/>
<path fill="#e4745a" stroke="#e4745a" stroke-width=".02" d="M4 0h1v1h-1zM6 0h1v1h-1zM9 0h1v1h-1zM16 0h2v1h-2zM42 0h1v1h-1zM49 0h1v1h-1zM5 1h1v1h-1zM8 1h1v1h-1zM35 1h1v1h-1zM37 1h2v1h-2zM3 2h1v1h-1zM15 2h3v1h-3zM39 2h1v1h-1zM42 2h2v1h-2zM49 2h1v1h-1zM3 3h2v1h-2zM9 3h1v1h-1zM15 3h2v1h-2zM42 3h1v1h-1zM46 3h1v1h-1zM49 3h1v1h-1z"/>
<path fill="#eb9673" stroke="#eb9673" stroke-width=".02" d="M11 0h1v1h-1zM14 0h2v1h-2zM43 0h2v1h-2zM46 0h1v1h-1zM3 1h2v1h-2zM6 1h1v1h-1zM9 1h1v1h-1zM16 1h2v1h-2zM39 1h1v1h-1zM43 1h1v1h-1zM49 1h1v1h-1zM1 2h1v1h-1zM7 2h1v1h-1zM11 2h1v1h-1zM14 2h1v1h-1zM34 2h1v1h-1zM41 2h1v1h-1zM44 2h3v1h-3zM48 2h1v1h-1zM7 3h1v1h-1zM11 3h1v1h-1zM14 3h1v1h-1zM34 3h1v1h-1zM41 3h1v1h-1zM43 3h3v1h-3zM48 3h1v1h-1z"/>
<path fill="#f2b88c" stroke="#f2b88c" stroke-width=".02" d="M1 0h2v1h-2zM10 0h1v1h-1zM34 0h1v1h-1zM40 0h1v1h-1zM48 0h1v1h-1zM1 1h1v1h-1zM7 1h1v1h-1zM11 1h1v1h-1zM14 1h2v1h-2zM34 1h1v1h-1zM41 1h2v1h-2zM44 1h3v1h-3zM48 1h1v1h-1zM2 2h1v1h-1zM10 2h1v1h-1zM40 2h1v1h-1zM1 3h2v1h-2zM10 3h1v1h-1zM18 3h1v1h-1zM40 3h1v1h-1zM4 6h1v1h-1z"/>
<path fill="#f8dca6" stroke="#f8dca6" stroke-width=".02" d="M12 0h1v1h-1zM18 0h2v1h-2zM22 0h1v1h-1zM33 0h1v1h-1zM50 0h1v1h-1zM2 1h1v1h-1zM10 1h1v1h-1zM19 1h2v1h-2zM40 1h1v1h-1zM50 1h1v1h-1zM12 2h2v1h-2zM18 2h3v1h-3zM22 2h1v1h-1zM33 2h1v1h-1zM13 3h1v1h-1zM22 3h1v1h-1zM24 3h1v1h-1zM32 3h2v1h-2z"/>
<path fill="#ffffbf" stroke="#ffffbf" stroke-width=".02" d="M3 0h1v1h-1zM13 0h1v1h-1zM20 0h1v1h-1zM23 0h1v1h-1zM31 0h2v1h-2zM41 0h1v1h-1zM47 0h1v1h-1zM12 1h2v1h-2zM18 1h1v1h-1zM22 1h2v1h-2zM31 1h1v1h-1zM33 1h1v1h-1zM21 2h1v1h-1zM24 2h1v1h-1zM32 2h1v1h-1zM50 2h1v1h-1zM21 3h1v1h-1zM50 3h1v1h-1zM35 4h1v1h-1zM35 6h1v1h-1zM37 6h1v1h-1z"/>
<path fill="#d9eead" stroke="#d9eead" stroke-width=".02" d="M7 0h1v1h-1zM24 0h1v1h-1zM28 0h3v1h-3zM45 0h1v1h-1zM21 1h1v1h-1zM24 1h1v1h-1zM29 1h2v1h-2zM32 1h1v1h-1zM47 1h1v1h-1zM51 1h1v1h-1zM0 2h1v1h-1zM23 2h1v1h-1zM29 2h2v1h-2zM0 3h1v1h-1zM12 3h1v1h-1zM19 3h2v1h-2zM27 3h5v1h-5zM3 4h2v1h-2zM37 4h1v1h-1zM48 4h1v1h-1zM3 6h1v1h-1zM5 6h1v1h-1zM7 6h2v1h-2zM15 6h2v1h-2zM33 6h1v1h-1zM36 6h1v1h-1zM38 6h1v1h-1zM42 6h1v1h-1zM48 6h1v1h-1z"/>
<path fill="#b3dd9a" stroke="#b3dd9a" stroke-width=".02" d="M25 0h3v1h-3zM35 0h1v1h-1zM26 1h1v1h-1zM28 1h1v1h-1zM25 2h1v1h-1zM27 2h2v1h-2zM31 2h1v1h-1zM23 3h1v1h-1zM25 3h1v1h-1zM5 4h1v1h-1zM7 4h2v1h-2zM10 4h1v1h-1zM15 4h2v1h-2zM33 4h2v1h-2zM38 4h1v1h-1zM35 5h1v1h-1zM37 5h1v1h-1zM48 5h1v1h-1zM0 6h3v1h-3zM10 6h1v1h-1zM13 6h2v1h-2zM32 6h1v1h-1zM40 6h2v1h-2zM45 6h1v1h-1z"/>
<path fill="#8ccc88" stroke="#8ccc88" stroke-width=".02" d="M51 0h1v1h-1zM25 1h1v1h-1zM27 1h1v1h-1zM6 3h1v1h-1zM47 3h1v1h-1zM2 4h1v1h-1zM6 4h1v1h-1zM14 4h1v1h-1zM36 4h1v1h-1zM39 4h4v1h-4zM45 4h1v1h-1zM4 5h1v1h-1zM16 5h1v1h-1zM33 5h2v1h-2zM36 5h1v1h-1zM38 5h1v1h-1zM9 6h1v1h-1zM11 6h2v1h-2zM22 6h1v1h-1zM30 6h2v1h-2zM39 6h1v1h-1zM43 6h1v1h-1z"/>
<path fill="#66ba75" stroke="#66ba75" stroke-width=".02" d="M52 0h1v1h-1zM52 1h1v1h-1zM0 4h2v1h-2zM9 4h1v1h-1zM11 4h1v1h-1zM13 4h1v1h-1zM19 4h1v1h-1zM22 4h1v1h-1zM32 4h1v1h-1zM43 4h1v1h-1zM50 4h1v1h-1zM3 5h1v1h-1zM5 5h1v1h-1zM7 5h2v1h-2zM10 5h1v1h-1zM14 5h2v1h-2zM32 5h1v1h-1zM39 5h5v1h-5zM45 5h1v1h-1zM6 6h1v1h-1zM18 6h2v1h-2zM21 6h1v1h-1zM29 6h1v1h-1zM34 6h1v1h-1zM44 6h1v1h-1zM49 6h2v1h-2z"/>
<path fill="#40a963" stroke="#40a963" stroke-width=".02" d="M0 1h1v1h-1zM47 2h1v1h-1zM18 4h1v1h-1zM21 4h1v1h-1zM29 4h3v1h-3zM44 4h1v1h-1zM49 4h1v1h-1zM0 5h3v1h-3zM6 5h1v1h-1zM9 5h1v1h-1zM12 5h2v1h-2zM19 5h1v1h-1zM22 5h1v1h-1zM30 5h2v1h-2zM49 5h2v1h-2zM17 6h1v1h-1zM25 6h1v1h-1zM27 6h2v1h-2zM46 6h2v1h-2z"/>
<path fill="#1a9850" stroke="#1a9850" stroke-width=".02" d="M21 0h1v1h-1zM26 2h1v1h-1zM51 2h1v1h-1zM26 3h1v1h-1zM51 3h1v1h-1zM12 4h1v1h-1zM17 4h1v1h-1zM20 4h1v1h-1zM23 4h6v1h-6zM46 4h2v1h-2zM51 4h1v1h-1zM11 5h1v1h-1zM17 5h2v1h-2zM20 5h2v1h-2zM23 5h7v1h-7zM44 5h1v1h-1zM46 5h2v1h-2zM51 5h1v1h-1zM20 6h1v1h-1zM23 6h2v1h-2zM26 6h1v1h-1zM51 6h1v1h-1z"/>
<path fill="none" stroke="#909090" stroke-opacity="1" stroke-width=".064" d="M1 1h52M0 2h52M0 3h52M0 4h52M0 5h52M0 6h52M1 1v6M2 0v7M3 0v7M4 0v7M5 0v7M6 0v7M7 0v7M8 0v7M9 0v7M10 0v7M11 0v7M12 0v7M13 0v7M14 0v7M15 0v7M16 0v7M17 0v7M18 0v7M19 0v7M20 0v7M21 0v7M22 0v7M23 0v7M24 0v7M25 0v7M26 0v7M27 0v7M28 0v7M29 0v7M30 0v7M31 0v7M32 0v7M33 0v7M34 0v7M35 0v7M36 0v7M37 0v7M38 0v7M39 0v7M40 0v7M41 0v7M42 0v7M43 0v7M44 0v7M45 0v7M46 0v7M47 0v7M48 0v7M49 0v7M50 0v7M51 0v7M52 0v2"/>
<path fill="none" stroke="#000" stroke-width=".13" stroke-linecap="square" d="M1 0h52M0 1h1M39 1h1M17 2h1M52 2h1M30 3h1M4 4h1M8 4h1M43 4h1M21 5h1M34 6h1M47 6h1M0 7h52M0 1v6M1 0v1M4 4v3M5 0v4M8 4v3M9 0v4M13 0v7M17 2v5M18 0v2M21 5v2M22 0v5M26 0v7M30 3v4M31 0v3M34 6v1M35 0v6M39 1v6M40 0v1M43 4v3M44 0v4M47 6v1M48 0v6M52 2v5M53 0v2"/>
</g>
<text x="281.2" y="522.45" font-size="14" fill="#1a1a1a" text-anchor="middle" textLength="31" lengthAdjust="spacingAndGlyphs">2014</text>
<g transform="translate(49.7 530.05) scale(8.5714)">
<path fill="#d73027" stroke="#d73027" stroke-width=".02" d="M36 0h1v1h-1zM36 2h1v1h-1zM36 3h2v1h-2z"/>
<path fill="#de5240" stroke="#de5240" stroke-width=".02" d="M5 0h1v1h-1zM8 0h1v1h-1zM37 0h2v1h-2zM49 0h1v1h-1zM5 1h1v1h-1zM36 1h1v1h-1zM5 2h1v1h-1zM8 2h1v1h-1zM35 2h1v1h-1zM37 2h2v1h-2zM49 2h1v1h-1zM5 3h1v1h-1zM8 3h1v1h-1zM35 3h1v1h-1zM39 3h1v1h-1zM49 3h1v1h-1z"/>
<path fill="#e4745a" stroke="#e4745a" stroke-width=".02" d="M4 0h1v1h-1zM17 0h1v1h-1zM39 0h1v1h-1zM43 0h2v1h-2zM50 0h1v1h-1zM8 1h1v1h-1zM35 1h1v1h-1zM37 1h2v1h-2zM49 1h1v1h-1zM4 2h1v1h-1zM9 2h1v1h-1zM11 2h1v1h-1zM17 2h1v1h-1zM39 2h1v1h-1zM43 2h2v1h-2zM46 2h1v1h-1zM48 2h1v1h-1zM4 3h1v1h-1zM9 3h1v1h-1zM11 3h1v1h-1zM17 3h1v1h-1zM38 3h1v1h-1zM43 3h2v1h-2zM46 3h1v1h-1zM48 3h1v1h-1z"/>
<path fill="#eb9673" stroke="#eb9673" stroke-width=".02" d="M6 0h1v1h-1zM9 0h1v1h-1zM11 0h1v1h-1zM18 0h1v1h-1zM34 0h1v1h-1zM46 0h1v1h-1zM48 0h1v1h-1zM4 1h1v1h-1zM6 1h1v1h-1zM17 1h1v1h-1zM39 1h1v1h-1zM43 1h2v1h-2zM50 1h1v1h-1zM3 2h1v1h-1zM6 2h2v1h-2zM13 2h1v1h-1zM18 2h2v1h-2zM34 2h1v1h-1zM42 2h1v1h-1zM45 2h1v1h-1zM3 3h1v1h-1zM6 3h2v1h-2zM12 3h2v1h-2zM18 3h2v1h-2zM34 3h1v1h-1zM41 3h2v1h-2zM45 3h1v1h-1z"/>
<path fill="#f2b88c" stroke="#f2b88c" stroke-width=".02" d="M1 0h2v1h-2zM10 0h1v1h-1zM12 0h4v1h-4zM19 0h1v1h-1zM40 0h1v1h-1zM42 0h1v1h-1zM3 1h1v1h-1zM7 1h1v1h-1zM9 1h1v1h-1zM11 1h3v1h-3zM16 1h1v1h-1zM18 1h1v1h-1zM34 1h1v1h-1zM42 1h1v1h-1zM46 1h1v1h-1zM48 1h1v1h-1zM1 2h2v1h-2zM10 2h1v1h-1zM12 2h1v1h-1zM14 2h1v1h-1zM16 2h1v1h-1zM20 2h1v1h-1zM40 2h2v1h-2zM1 3h2v1h-2zM10 3h1v1h-1zM14 3h1v1h-1zM16 3h1v1h-1zM20 3h1v1h-1zM40 3h1v1h-1zM4 6h1v1h-1z"/>
<path fill="#f8dca6" stroke="#f8dca6" stroke-width=".02" d="M16 0h1v1h-1zM33 0h1v1h-1zM45 0h1v1h-1zM1 1h2v1h-2zM10 1h1v1h-1zM14 1h1v1h-1zM19 1h2v1h-2zM40 1h2v1h-2zM21 2h2v1h-2zM27 2h1v1h-1zM29 2h2v1h-2zM33 2h1v1h-1zM21 3h3v1h-3zM27 3h3v1h-3zM31 3h1v1h-1zM33 3h1v1h-1zM35 4h1v1h-1zM35 6h1v1h-1z"/>
<path fill="#ffffbf" stroke="#ffffbf" stroke-width=".02" d="M20 0h1v1h-1zM22 0h2v1h-2zM25 0h1v1h-1zM27 0h4v1h-4zM41 0h1v1h-1zM47 0h1v1h-1zM15 1h1v1h-1zM21 1h2v1h-2zM25 1h1v1h-1zM27 1h1v1h-1zM29 1h2v1h-2zM33 1h1v1h-1zM47 1h1v1h-1zM15 2h1v1h-1zM23 2h1v1h-1zM25 2h1v1h-1zM28 2h1v1h-1zM31 2h1v1h-1zM51 2h1v1h-1zM15 3h1v1h-1zM24 3h1v1h-1zM30 3h1v1h-1zM32 3h1v1h-1zM50 3h1v1h-1zM43 4h1v1h-1zM36 6h1v1h-1zM48 6h1v1h-1z"/>
<path fill="#d9eead" stroke="#d9eead" stroke-width=".02" d="M24 0h1v1h-1zM26 0h1v1h-1zM31 0h2v1h-2zM51 0h1v1h-1zM23 1h2v1h-2zM26 1h1v1h-1zM28 1h1v1h-1zM31 1h2v1h-2zM51 1h1v1h-1zM24 2h1v1h-1zM32 2h1v1h-1zM25 3h1v1h-1zM4 4h1v1h-1zM34 4h1v1h-1zM36 4h1v1h-1zM48 4h2v1h-2zM35 5h1v1h-1zM33 6h1v1h-1zM37 6h2v1h-2zM43 6h1v1h-1zM49 6h1v1h-1z"/>
<path fill="#b3dd9a" stroke="#b3dd9a" stroke-width=".02" d="M7 0h1v1h-1zM35 0h1v1h-1zM45 1h1v1h-1zM26 2h1v1h-1zM50 2h1v1h-1zM0 3h1v1h-1zM47 3h1v1h-1zM3 4h1v1h-1zM7 4h1v1h-1zM37 4h1v1h-1zM48 5h1v1h-1zM0 6h2v1h-2zM3 6h1v1h-1zM7 6h2v1h-2zM10 6h1v1h-1zM15 6h2v1h-2zM34 6h1v1h-1zM41 6h2v1h-2z"/>
<path fill="#8ccc88" stroke="#8ccc88" stroke-width=".02" d="M3 0h1v1h-1zM52 0h1v1h-1zM47 2h1v1h-1zM52 2h1v1h-1zM26 3h1v1h-1zM1 4h1v1h-1zM5 4h1v1h-1zM8 4h1v1h-1zM10 4h1v1h-1zM16 4h1v1h-1zM26 4h1v1h-1zM33 4h1v1h-1zM38 4h1v1h-1zM42 4h1v1h-1zM4 5h1v1h-1zM34 5h1v1h-1zM36 5h1v1h-1zM9 6h1v1h-1zM11 6h2v1h-2zM14 6h1v1h-1zM24 6h1v1h-1zM26 6h1v1h-1zM28 6h1v1h-1zM32 6h1v1h-1zM39 6h2v1h-2zM45 6h1v1h-1zM50 6h1v1h-1z"/>
<path fill="#66ba75" stroke="#66ba75" stroke-width=".02" d="M21 0h1v1h-1zM52 1h1v1h-1zM0 4h1v1h-1zM9 4h1v1h-1zM11 4h2v1h-2zM14 4h1v1h-1zM18 4h1v1h-1zM32 4h1v1h-1zM39 4h3v1h-3zM45 4h1v1h-1zM50 4h1v1h-1zM3 5h1v1h-1zM16 5h1v1h-1zM26 5h1v1h-1zM33 5h1v1h-1zM37 5h2v1h-2zM42 5h2v1h-2zM49 5h1v1h-1zM2 6h1v1h-1zM5 6h2v1h-2zM13 6h1v1h-1zM17 6h2v1h-2zM21 6h1v1h-1zM23 6h1v1h-1zM27 6h1v1h-1zM29 6h1v1h-1zM31 6h1v1h-1zM44 6h1v1h-1zM47 6h1v1h-1z"/>
<path fill="#40a963" stroke="#40a963" stroke-width=".02" d="M0 2h1v1h-1zM2 4h1v1h-1zM13 4h1v1h-1zM15 4h1v1h-1zM17 4h1v1h-1zM21 4h1v1h-1zM24 4h1v1h-1zM27 4h3v1h-3zM44 4h1v1h-1zM0 5h2v1h-2zM7 5h6v1h-6zM14 5h2v1h-2zM18 5h1v1h-1zM21 5h1v1h-1zM24 5h1v1h-1zM27 5h3v1h-3zM32 5h1v1h-1zM39 5h1v1h-1zM41 5h1v1h-1zM50 5h1v1h-1zM19 6h2v1h-2zM22 6h1v1h-1zM25 6h1v1h-1zM30 6h1v1h-1zM46 6h1v1h-1zM51 6h1v1h-1z"/>
<path fill="#1a9850" stroke="#1a9850" stroke-width=".02" d="M51 3h1v1h-1zM6 4h1v1h-1zM19 4h2v1h-2zM22 4h2v1h-2zM25 4h1v1h-1zM30 4h2v1h-2zM46 4h2v1h-2zM51 4h1v1h-1zM2 5h1v1h-1zM5 5h2v1h-2zM13 5h1v1h-1zM17 5h1v1h-1zM19 5h2v1h-2zM22 5h2v1h-2zM25 5h1v1h-1zM30 5h2v1h-2zM40 5h1v1h-1zM44 5h4v1h-4zM51 5h1v1h-1z"/>
<path fill="none" stroke="#909090" stroke-opacity="1" stroke-width=".064" d="M1 1h52M1 2h52M0 3h52M0 4h52M0 5h52M0 6h52M1 2v5M2 0v7M3 0v7M4 0v7M5 0v7M6 0v7M7 0v7M8 0v7M9 0v7M10 0v7M11 0v7M12 0v7M13 0v7M14 0v7M15 0v7M16 0v7M17 0v7M18 0v7M19 0v7M20 0v7M21 0v7M22 0v7M23 0v7M24 0v7M25 0v7M26 0v7M27 0v7M28 0v7M29 0v7M30 0v7M31 0v7M32 0v7M33 0v7M34 0v7M35 0v7M36 0v7M37 0v7M38 0v7M39 0v7M40 0v7M41 0v7M42 0v7M43 0v7M44 0v7M45 0v7M46 0v7M47 0v7M48 0v7M49 0v7M50 0v7M51 0v7M52 0v3"/>
<path fill="none" stroke="#000" stroke-width=".13" stroke-linecap="square" d="M1 0h52M13 1h1M26 1h1M0 2h1M39 2h1M17 3h1M52 3h1M30 4h1M4 5h1M8 5h1M43 5h1M21 6h1M0 7h52M0 2v5M1 0v2M4 5v2M5 0v5M8 5v2M9 0v5M13 1v6M14 0v1M17 3v4M18 0v3M21 6v1M22 0v6M26 1v6M27 0v1M30 4v3M31 0v4M35 0v7M39 2v5M40 0v2M43 5v2M44 0v5M48 0v7M52 3v4M53 0v3"/>
</g>
<text x="42.2" y="537.94" font-size="9.3" fill="#4d4d4d" text-anchor="end">Mon</text>
<text x="42.2" y="546.51" font-size="9.3" fill="#4d4d4d" text-anchor="end">Tue</text>
<text x="42.2" y="555.08" font-size="9.3" fill="#4d4d4d" text-anchor="end">Wed</text>
<text x="42.2" y="563.65" font-size="9.3" fill="#4d4d4d" text-anchor="end">Thu</text>
<text x="42.2" y="572.22" font-size="9.3" fill="#4d4d4d" text-anchor="end">Fri</text>
<text x="42.2" y="580.79" font-size="9.3" fill="#4d4d4d" text-anchor="end">Sat</text>
<text x="42.2" y="589.36" font-size="9.3" fill="#4d4d4d" text-anchor="end">Sun</text>
<text x="752" y="522.45" font-size="14" fill="#1a1a1a" text-anchor="middle" textLength="31" lengthAdjust="spacingAndGlyphs">2015</text>
<g transform="translate(520.5 530.05) scale(8.5714)">
<path fill="#de5240" stroke="#de5240" stroke-width=".02" d="M17 0h1v1h-1zM44 0h1v1h-1zM46 0h1v1h-1zM36 1h1v1h-1zM9 2h1v1h-1zM17 2h1v1h-1zM36 2h2v1h-2zM44 2h1v1h-1zM46 2h1v1h-1zM9 3h2v1h-2zM17 3h1v1h-1zM36 3h2v1h-2zM44 3h1v1h-1zM46 3h1v1h-1zM50 3h1v1h-1z"/>
<path fill="#e4745a" stroke="#e4745a" stroke-width=".02" d="M2 0h1v1h-1zM5 0h1v1h-1zM8 0h3v1h-3zM35 0h1v1h-1zM37 0h1v1h-1zM43 0h1v1h-1zM49 0h2v1h-2zM17 1h1v1h-1zM44 1h1v1h-1zM5 2h2v1h-2zM8 2h1v1h-1zM10 2h1v1h-1zM15 2h2v1h-2zM35 2h1v1h-1zM43 2h1v1h-1zM49 2h2v1h-2zM2 3h1v1h-1zM5 3h2v1h-2zM8 3h1v1h-1zM15 3h2v1h-2zM19 3h1v1h-1zM35 3h1v1h-1zM38 3h2v1h-2zM41 3h3v1h-3zM49 3h1v1h-1z"/>
<path fill="#eb9673" stroke="#eb9673" stroke-width=".02" d="M4 0h1v1h-1zM6 0h1v1h-1zM12 0h1v1h-1zM15 0h2v1h-2zM19 0h1v1h-1zM34 0h1v1h-1zM38 0h2v1h-2zM42 0h1v1h-1zM4 1h2v1h-2zM8 1h3v1h-3zM35 1h1v1h-1zM37 1h1v1h-1zM43 1h1v1h-1zM46 1h1v1h-1zM49 1h2v1h-2zM1 2h2v1h-2zM4 2h1v1h-1zM11 2h2v1h-2zM19 2h1v1h-1zM34 2h1v1h-1zM38 2h2v1h-2zM41 2h2v1h-2zM48 2h1v1h-1zM1 3h1v1h-1zM4 3h1v1h-1zM11 3h2v1h-2zM34 3h1v1h-1zM45 3h1v1h-1zM48 3h1v1h-1z"/>
<path fill="#f2b88c" stroke="#f2b88c" stroke-width=".02" d="M1 0h1v1h-1zM11 0h1v1h-1zM40 0h1v1h-1zM45 0h1v1h-1zM48 0h1v1h-1zM1 1h2v1h-2zM6 1h1v1h-1zM11 1h2v1h-2zM15 1h2v1h-2zM19 1h1v1h-1zM34 1h1v1h-1zM38 1h1v1h-1zM41 1h2v1h-2zM48 1h1v1h-1zM40 2h1v1h-1zM21 3h3v1h-3zM32 3h1v1h-1zM40 3h1v1h-1z"/>
<path fill="#f8dca6" stroke="#f8dca6" stroke-width=".02" d="M13 0h1v1h-1zM22 0h2v1h-2zM32 0h1v1h-1zM13 1h1v1h-1zM21 1h2v1h-2zM39 1h2v1h-2zM45 1h1v1h-1zM3 2h1v1h-1zM7 2h1v1h-1zM13 2h1v1h-1zM18 2h1v1h-1zM20 2h4v1h-4zM32 2h2v1h-2zM3 3h1v1h-1zM7 3h1v1h-1zM13 3h1v1h-1zM18 3h1v1h-1zM20 3h1v1h-1zM31 3h1v1h-1zM33 3h1v1h-1zM4 6h1v1h-1z"/>
<path fill="#ffffbf" stroke="#ffffbf" stroke-width=".02" d="M18 0h1v1h-1zM20 0h1v1h-1zM30 0h2v1h-2zM33 0h1v1h-1zM36 0h1v1h-1zM41 0h1v1h-1zM47 0h1v1h-1zM3 1h1v1h-1zM7 1h1v1h-1zM18 1h1v1h-1zM20 1h1v1h-1zM23 1h1v1h-1zM32 1h2v1h-2zM14 2h1v1h-1zM27 2h1v1h-1zM29 2h1v1h-1zM31 2h1v1h-1zM14 3h1v1h-1zM27 3h4v1h-4zM34 4h2v1h-2zM43 4h1v1h-1zM9 6h1v1h-1zM34 6h1v1h-1zM43 6h1v1h-1zM49 6h1v1h-1z"/>
<path fill="#d9eead" stroke="#d9eead" stroke-width=".02" d="M27 0h1v1h-1zM29 0h1v1h-1zM14 1h1v1h-1zM30 1h2v1h-2zM47 1h1v1h-1zM28 2h1v1h-1zM30 2h1v1h-1zM45 2h1v1h-1zM9 4h1v1h-1zM34 5h2v1h-2zM43 5h1v1h-1zM8 6h1v1h-1zM16 6h1v1h-1zM33 6h1v1h-1zM35 6h3v1h-3zM42 6h1v1h-1zM48 6h1v1h-1z"/>
<path fill="#b3dd9a" stroke="#b3dd9a" stroke-width=".02" d="M14 0h1v1h-1zM25 0h2v1h-2zM28 0h1v1h-1zM26 1h4v1h-4zM24 2h2v1h-2zM24 3h2v1h-2zM4 4h1v1h-1zM8 4h1v1h-1zM33 4h1v1h-1zM36 4h1v1h-1zM42 4h1v1h-1zM45 4h1v1h-1zM48 4h2v1h-2zM33 5h1v1h-1zM49 5h1v1h-1zM0 6h2v1h-2zM7 6h1v1h-1zM15 6h1v1h-1zM38 6h1v1h-1zM41 6h1v1h-1zM45 6h1v1h-1z"/>
<path fill="#8ccc88" stroke="#8ccc88" stroke-width=".02" d="M7 0h1v1h-1zM24 0h1v1h-1zM24 1h2v1h-2zM51 3h1v1h-1zM1 4h1v1h-1zM7 4h1v1h-1zM16 4h1v1h-1zM18 4h1v1h-1zM37 4h1v1h-1zM40 4h2v1h-2zM8 5h2v1h-2zM26 5h1v1h-1zM36 5h1v1h-1zM42 5h1v1h-1zM48 5h1v1h-1zM3 6h1v1h-1zM5 6h1v1h-1zM10 6h2v1h-2zM14 6h1v1h-1zM21 6h2v1h-2zM31 6h1v1h-1zM40 6h1v1h-1z"/>
<path fill="#66ba75" stroke="#66ba75" stroke-width=".02" d="M3 0h1v1h-1zM21 0h1v1h-1zM26 2h1v1h-1zM47 2h1v1h-1zM26 3h1v1h-1zM47 3h1v1h-1zM3 4h1v1h-1zM5 4h1v1h-1zM10 4h2v1h-2zM14 4h2v1h-2zM20 4h3v1h-3zM31 4h1v1h-1zM38 4h2v1h-2zM4 5h1v1h-1zM16 5h1v1h-1zM37 5h2v1h-2zM41 5h1v1h-1zM45 5h1v1h-1zM12 6h1v1h-1zM18 6h1v1h-1zM26 6h1v1h-1zM29 6h2v1h-2zM32 6h1v1h-1zM39 6h1v1h-1zM44 6h1v1h-1zM47 6h1v1h-1z"/>
<path fill="#40a963" stroke="#40a963" stroke-width=".02" d="M51 0h2v1h-2zM51 1h1v1h-1zM51 2h2v1h-2zM0 3h1v1h-1zM52 3h1v1h-1zM0 4h1v1h-1zM12 4h1v1h-1zM25 4h1v1h-1zM29 4h2v1h-2zM32 4h1v1h-1zM44 4h1v1h-1zM0 5h2v1h-2zM7 5h1v1h-1zM10 5h2v1h-2zM14 5h2v1h-2zM18 5h1v1h-1zM20 5h3v1h-3zM29 5h4v1h-4zM40 5h1v1h-1zM2 6h1v1h-1zM6 6h1v1h-1zM13 6h1v1h-1zM19 6h2v1h-2zM25 6h1v1h-1zM27 6h2v1h-2zM46 6h1v1h-1z"/>
<path fill="#1a9850" stroke="#1a9850" stroke-width=".02" d="M52 1h1v1h-1zM2 4h1v1h-1zM6 4h1v1h-1zM13 4h1v1h-1zM17 4h1v1h-1zM19 4h1v1h-1zM23 4h2v1h-2zM26 4h3v1h-3zM46 4h2v1h-2zM50 4h2v1h-2zM2 5h2v1h-2zM5 5h2v1h-2zM12 5h2v1h-2zM17 5h1v1h-1zM19 5h1v1h-1zM23 5h3v1h-3zM27 5h2v1h-2zM39 5h1v1h-1zM44 5h1v1h-1zM46 5h2v1h-2zM50 5h2v1h-2zM17 6h1v1h-1zM23 6h2v1h-2zM50 6h2v1h-2z"/>
<path fill="none" stroke="#909090" stroke-opacity="1" stroke-width=".064" d="M1 1h52M1 2h52M1 3h52M0 4h52M0 5h52M0 6h52M1 3v4M2 0v7M3 0v7M4 0v7M5 0v7M6 0v7M7 0v7M8 0v7M9 0v7M10 0v7M11 0v7M12 0v7M13 0v7M14 0v7M15 0v7M16 0v7M17 0v7M18 0v7M19 0v7M20 0v7M21 0v7M22 0v7M23 0v7M24 0v7M25 0v7M26 0v7M27 0v7M28 0v7M29 0v7M30 0v7M31 0v7M32 0v7M33 0v7M34 0v7M35 0v7M36 0v7M37 0v7M38 0v7M39 0v7M40 0v7M41 0v7M42 0v7M43 0v7M44 0v7M45 0v7M46 0v7M47 0v7M48 0v7M49 0v7M50 0v7M51 0v7M52 0v4"/>
<path fill="none" stroke="#000" stroke-width=".13" stroke-linecap="square" d="M1 0h52M35 1h1M48 1h1M13 2h1M26 2h1M0 3h1M39 3h1M17 4h1M52 4h1M30 5h1M4 6h1M8 6h1M43 6h1M0 7h52M0 3v4M1 0v3M4 6v1M5 0v6M8 6v1M9 0v6M13 2v5M14 0v2M17 4v3M18 0v4M22 0v7M26 2v5M27 0v2M30 5v2M31 0v5M35 1v6M36 0v1M39 3v4M40 0v3M43 6v1M44 0v6M48 1v6M49 0v1M52 4v3M53 0v4"/>
</g>
<text x="281.2" y="616.56" font-size="14" fill="#1a1a1a" text-anchor="middle" textLength="31" lengthAdjust="spacingAndGlyphs">2016</text>
<g transform="translate(49.7 624.16) scale(8.5714)">
<path fill="#d73027" stroke="#d73027" stroke-width=".02" d="M36 3h1v1h-1z"/>
<path fill="#de5240" stroke="#de5240" stroke-width=".02" d="M49 0h1v1h-1zM6 2h1v1h-1zM15 2h1v1h-1zM36 2h1v1h-1zM38 2h1v1h-1zM44 2h1v1h-1zM49 2h1v1h-1zM6 3h1v1h-1zM15 3h1v1h-1zM18 3h1v1h-1zM37 3h3v1h-3zM44 3h1v1h-1zM49 3h2v1h-2z"/>
<path fill="#e4745a" stroke="#e4745a" stroke-width=".02" d="M5 0h2v1h-2zM9 0h1v1h-1zM15 0h1v1h-1zM18 0h1v1h-1zM37 0h3v1h-3zM42 0h1v1h-1zM50 0h1v1h-1zM36 1h1v1h-1zM5 2h1v1h-1zM9 2h1v1h-1zM18 2h1v1h-1zM37 2h1v1h-1zM39 2h2v1h-2zM42 2h2v1h-2zM50 2h1v1h-1zM5 3h1v1h-1zM9 3h1v1h-1zM20 3h1v1h-1zM40 3h3v1h-3zM46 3h1v1h-1z"/>
<path fill="#eb9673" stroke="#eb9673" stroke-width=".02" d="M4 0h1v1h-1zM14 0h1v1h-1zM17 0h1v1h-1zM35 0h1v1h-1zM40 0h1v1h-1zM43 0h2v1h-2zM46 0h1v1h-1zM48 0h1v1h-1zM4 1h1v1h-1zM6 1h1v1h-1zM15 1h1v1h-1zM18 1h1v1h-1zM44 1h1v1h-1zM49 1h2v1h-2zM4 2h1v1h-1zM8 2h1v1h-1zM14 2h1v1h-1zM17 2h1v1h-1zM20 2h1v1h-1zM35 2h1v1h-1zM41 2h1v1h-1zM46 2h1v1h-1zM48 2h1v1h-1zM4 3h1v1h-1zM8 3h1v1h-1zM14 3h1v1h-1zM17 3h1v1h-1zM21 3h1v1h-1zM35 3h1v1h-1zM43 3h1v1h-1zM48 3h1v1h-1z"/>
<path fill="#f2b88c" stroke="#f2b88c" stroke-width=".02" d="M8 0h1v1h-1zM10 0h3v1h-3zM3 1h1v1h-1zM5 1h1v1h-1zM8 1h2v1h-2zM11 1h2v1h-2zM14 1h1v1h-1zM17 1h1v1h-1zM37 1h7v1h-7zM3 2h1v1h-1zM10 2h1v1h-1zM12 2h1v1h-1zM16 2h1v1h-1zM21 2h1v1h-1zM34 2h1v1h-1zM45 2h1v1h-1zM3 3h1v1h-1zM10 3h2v1h-2zM16 3h1v1h-1zM22 3h3v1h-3zM34 3h1v1h-1z"/>
<path fill="#f8dca6" stroke="#f8dca6" stroke-width=".02" d="M2 0h1v1h-1zM16 0h1v1h-1zM20 0h2v1h-2zM23 0h2v1h-2zM34 0h1v1h-1zM41 0h1v1h-1zM45 0h1v1h-1zM47 0h1v1h-1zM2 1h1v1h-1zM10 1h1v1h-1zM16 1h1v1h-1zM20 1h2v1h-2zM34 1h2v1h-2zM46 1h1v1h-1zM48 1h1v1h-1zM2 2h1v1h-1zM7 2h1v1h-1zM11 2h1v1h-1zM19 2h1v1h-1zM22 2h3v1h-3zM1 3h2v1h-2zM7 3h1v1h-1zM12 3h1v1h-1zM19 3h1v1h-1zM33 3h1v1h-1zM45 3h1v1h-1zM5 6h1v1h-1z"/>
<path fill="#ffffbf" stroke="#ffffbf" stroke-width=".02" d="M1 0h1v1h-1zM19 0h1v1h-1zM33 0h1v1h-1zM36 0h1v1h-1zM1 1h1v1h-1zM7 1h1v1h-1zM19 1h1v1h-1zM22 1h3v1h-3zM45 1h1v1h-1zM1 2h1v1h-1zM13 2h1v1h-1zM29 2h1v1h-1zM33 2h1v1h-1zM13 3h1v1h-1zM26 3h1v1h-1zM29 3h1v1h-1zM31 3h2v1h-2zM35 4h1v1h-1zM37 6h1v1h-1zM49 6h1v1h-1z"/>
<path fill="#d9eead" stroke="#d9eead" stroke-width=".02" d="M26 0h1v1h-1zM28 0h2v1h-2zM31 0h1v1h-1zM13 1h1v1h-1zM33 1h1v1h-1zM47 1h1v1h-1zM26 2h1v1h-1zM28 2h1v1h-1zM30 2h1v1h-1zM32 2h1v1h-1zM27 3h2v1h-2zM30 3h1v1h-1zM5 4h1v1h-1zM37 4h1v1h-1zM43 4h1v1h-1zM48 4h2v1h-2zM3 6h1v1h-1zM8 6h1v1h-1zM36 6h1v1h-1zM38 6h1v1h-1zM43 6h1v1h-1zM48 6h1v1h-1z"/>
<path fill="#b3dd9a" stroke="#b3dd9a" stroke-width=".02" d="M13 0h1v1h-1zM30 0h1v1h-1zM32 0h1v1h-1zM51 0h1v1h-1zM26 1h2v1h-2zM29 1h4v1h-4zM51 1h1v1h-1zM25 2h1v1h-1zM27 2h1v1h-1zM31 2h1v1h-1zM25 3h1v1h-1zM3 4h1v1h-1zM8 4h1v1h-1zM14 4h1v1h-1zM17 4h1v1h-1zM34 4h1v1h-1zM36 4h1v1h-1zM38 4h1v1h-1zM40 4h2v1h-2zM35 5h1v1h-1zM43 5h1v1h-1zM13 6h2v1h-2zM17 6h1v1h-1zM34 6h2v1h-2zM39 6h4v1h-4z"/>
<path fill="#8ccc88" stroke="#8ccc88" stroke-width=".02" d="M3 0h1v1h-1zM7 0h1v1h-1zM25 0h1v1h-1zM25 1h1v1h-1zM28 1h1v1h-1zM47 3h1v1h-1zM4 4h1v1h-1zM7 4h1v1h-1zM10 4h2v1h-2zM13 4h1v1h-1zM16 4h1v1h-1zM19 4h2v1h-2zM33 4h1v1h-1zM39 4h1v1h-1zM34 5h1v1h-1zM36 5h3v1h-3zM49 5h1v1h-1zM51 5h1v1h-1zM4 6h1v1h-1zM7 6h1v1h-1zM10 6h2v1h-2zM16 6h1v1h-1zM20 6h1v1h-1zM22 6h1v1h-1zM33 6h1v1h-1z"/>
<path fill="#66ba75" stroke="#66ba75" stroke-width=".02" d="M22 0h1v1h-1zM27 0h1v1h-1zM47 2h1v1h-1zM51 2h1v1h-1zM51 3h1v1h-1zM1 4h2v1h-2zM9 4h1v1h-1zM22 4h1v1h-1zM42 4h1v1h-1zM3 5h1v1h-1zM5 5h1v1h-1zM8 5h1v1h-1zM13 5h2v1h-2zM17 5h1v1h-1zM33 5h1v1h-1zM40 5h3v1h-3zM48 5h1v1h-1zM0 6h3v1h-3zM9 6h1v1h-1zM19 6h1v1h-1zM23 6h1v1h-1zM28 6h1v1h-1zM32 6h1v1h-1zM45 6h2v1h-2z"/>
<path fill="#40a963" stroke="#40a963" stroke-width=".02" d="M52 3h1v1h-1zM15 4h1v1h-1zM21 4h1v1h-1zM23 4h1v1h-1zM28 4h1v1h-1zM32 4h1v1h-1zM45 4h2v1h-2zM51 4h1v1h-1zM4 5h1v1h-1zM7 5h1v1h-1zM10 5h2v1h-2zM16 5h1v1h-1zM19 5h5v1h-5zM32 5h1v1h-1zM39 5h1v1h-1zM52 5h1v1h-1zM12 6h1v1h-1zM15 6h1v1h-1zM21 6h1v1h-1zM26 6h1v1h-1zM29 6h3v1h-3zM44 6h1v1h-1zM47 6h1v1h-1zM50 6h1v1h-1z"/>
<path fill="#1a9850" stroke="#1a9850" stroke-width=".02" d="M52 0h1v1h-1zM52 1h1v1h-1zM52 2h1v1h-1zM0 4h1v1h-1zM6 4h1v1h-1zM12 4h1v1h-1zM18 4h1v1h-1zM24 4h4v1h-4zM29 4h3v1h-3zM44 4h1v1h-1zM47 4h1v1h-1zM50 4h1v1h-1zM52 4h1v1h-1zM0 5h3v1h-3zM6 5h1v1h-1zM9 5h1v1h-1zM12 5h1v1h-1zM15 5h1v1h-1zM18 5h1v1h-1zM24 5h8v1h-8zM44 5h4v1h-4zM50 5h1v1h-1zM6 6h1v1h-1zM18 6h1v1h-1zM24 6h2v1h-2zM27 6h1v1h-1zM51 6h1v1h-1z"/>
<path fill="none" stroke="#909090" stroke-opacity="1" stroke-width=".064" d="M1 1h52M1 2h52M1 3h52M1 4h52M0 5h53M0 6h52M1 4v3M2 0v7M3 0v7M4 0v7M5 0v7M6 0v7M7 0v7M8 0v7M9 0v7M10 0v7M11 0v7M12 0v7M13 0v7M14 0v7M15 0v7M16 0v7M17 0v7M18 0v7M19 0v7M20 0v7M21 0v7M22 0v7M23 0v7M24 0v7M25 0v7M26 0v7M27 0v7M28 0v7M29 0v7M30 0v7M31 0v7M32 0v7M33 0v7M34 0v7M35 0v7M36 0v7M37 0v7M38 0v7M39 0v7M40 0v7M41 0v7M42 0v7M43 0v7M44 0v7M45 0v7M46 0v7M47 0v7M48 0v7M49 0v7M50 0v7M51 0v7M52 0v6"/>
<path fill="none" stroke="#000" stroke-width=".13" stroke-linecap="square" d="M1 0h52M9 1h1M44 1h1M22 2h1M35 3h1M48 3h1M0 4h1M13 4h1M26 4h1M39 5h1M17 6h1M52 6h1M0 7h52M0 4v3M1 0v4M5 0v7M9 1v6M10 0v1M13 4v3M14 0v4M17 6v1M18 0v6M22 2v5M23 0v2M26 4v3M27 0v4M31 0v7M35 3v4M36 0v3M39 5v2M40 0v5M44 1v6M45 0v1M48 3v4M49 0v3M52 6v1M53 0v6"/>
</g>
<text x="42.2" y="632.05" font-size="9.3" fill="#4d4d4d" text-anchor="end">Mon</text>
<text x="42.2" y="640.62" font-size="9.3" fill="#4d4d4d" text-anchor="end">Tue</text>
<text x="42.2" y="649.19" font-size="9.3" fill="#4d4d4d" text-anchor="end">Wed</text>
<text x="42.2" y="657.76" font-size="9.3" fill="#4d4d4d" text-anchor="end">Thu</text>
<text x="42.2" y="666.33" font-size="9.3" fill="#4d4d4d" text-anchor="end">Fri</text>
<text x="42.2" y="674.9" font-size="9.3" fill="#4d4d4d" text-anchor="end">Sat</text>
<text x="42.2" y="683.47" font-size="9.3" fill="#4d4d4d" text-anchor="end">Sun</text>
<text x="752" y="616.56" font-size="14" fill="#1a1a1a" text-anchor="middle" textLength="31" lengthAdjust="spacingAndGlyphs">2017</text>
<g transform="translate(520.5 624.16) scale(8.5714)">
<path fill="#d73027" stroke="#d73027" stroke-width=".02" d="M36 1h1v1h-1zM36 2h1v1h-1zM36 3h1v1h-1z"/>
<path fill="#de5240" stroke="#de5240" stroke-width=".02" d="M6 0h1v1h-1zM18 0h1v1h-1zM35 0h1v1h-1zM40 0h1v1h-1zM43 0h2v1h-2zM50 0h1v1h-1zM6 2h1v1h-1zM17 2h2v1h-2zM35 2h1v1h-1zM40 2h1v1h-1zM42 2h2v1h-2zM50 2h1v1h-1zM6 3h1v1h-1zM17 3h2v1h-2zM35 3h1v1h-1zM40 3h1v1h-1zM42 3h3v1h-3zM50 3h1v1h-1z"/>
<path fill="#e4745a" stroke="#e4745a" stroke-width=".02" d="M17 0h1v1h-1zM39 0h1v1h-1zM42 0h1v1h-1zM49 0h1v1h-1zM44 1h1v1h-1zM5 2h1v1h-1zM34 2h1v1h-1zM39 2h1v1h-1zM41 2h1v1h-1zM44 2h1v1h-1zM49 2h1v1h-1zM3 3h1v1h-1zM5 3h1v1h-1zM20 3h1v1h-1zM34 3h1v1h-1zM38 3h2v1h-2zM41 3h1v1h-1zM49 3h1v1h-1z"/>
<path fill="#eb9673" stroke="#eb9673" stroke-width=".02" d="M4 0h2v1h-2zM34 0h1v1h-1zM38 0h1v1h-1zM6 1h1v1h-1zM17 1h2v1h-2zM35 1h1v1h-1zM40 1h1v1h-1zM42 1h2v1h-2zM50 1h1v1h-1zM3 2h2v1h-2zM9 2h1v1h-1zM20 2h2v1h-2zM38 2h1v1h-1zM46 2h1v1h-1zM4 3h1v1h-1zM7 3h3v1h-3zM33 3h1v1h-1zM46 3h1v1h-1z"/>
<path fill="#f2b88c" stroke="#f2b88c" stroke-width=".02" d="M2 0h1v1h-1zM9 0h1v1h-1zM14 0h2v1h-2zM20 0h2v1h-2zM33 0h1v1h-1zM37 0h1v1h-1zM46 0h1v1h-1zM48 0h1v1h-1zM3 1h2v1h-2zM34 1h1v1h-1zM38 1h1v1h-1zM41 1h1v1h-1zM49 1h1v1h-1zM2 2h1v1h-1zM7 2h2v1h-2zM14 2h3v1h-3zM19 2h1v1h-1zM32 2h2v1h-2zM37 2h1v1h-1zM45 2h1v1h-1zM48 2h1v1h-1zM2 3h1v1h-1zM14 3h1v1h-1zM16 3h1v1h-1zM19 3h1v1h-1zM21 3h1v1h-1zM32 3h1v1h-1zM37 3h1v1h-1zM45 3h1v1h-1zM48 3h1v1h-1zM35 4h1v1h-1z"/>
<path fill="#f8dca6" stroke="#f8dca6" stroke-width=".02" d="M7 0h1v1h-1zM10 0h2v1h-2zM19 0h1v1h-1zM24 0h1v1h-1zM32 0h1v1h-1zM36 0h1v1h-1zM41 0h1v1h-1zM45 0h1v1h-1zM5 1h1v1h-1zM8 1h2v1h-2zM14 1h2v1h-2zM20 1h2v1h-2zM39 1h1v1h-1zM46 1h1v1h-1zM48 1h1v1h-1zM10 2h2v1h-2zM13 2h1v1h-1zM22 2h1v1h-1zM24 2h1v1h-1zM1 3h1v1h-1zM10 3h2v1h-2zM13 3h1v1h-1zM15 3h1v1h-1zM22 3h3v1h-3zM26 3h1v1h-1zM29 3h1v1h-1zM34 4h1v1h-1zM5 6h1v1h-1zM34 6h1v1h-1z"/>
<path fill="#ffffbf" stroke="#ffffbf" stroke-width=".02" d="M13 0h1v1h-1zM16 0h1v1h-1zM25 0h2v1h-2zM29 0h1v1h-1zM31 0h1v1h-1zM47 0h1v1h-1zM2 1h1v1h-1zM10 1h2v1h-2zM16 1h1v1h-1zM19 1h1v1h-1zM22 1h1v1h-1zM32 1h2v1h-2zM37 1h1v1h-1zM45 1h1v1h-1zM1 2h1v1h-1zM12 2h1v1h-1zM23 2h1v1h-1zM26 2h1v1h-1zM28 2h1v1h-1zM30 2h2v1h-2zM12 3h1v1h-1zM27 3h2v1h-2zM30 3h2v1h-2zM43 4h1v1h-1zM34 5h2v1h-2zM43 5h1v1h-1zM35 6h1v1h-1zM43 6h1v1h-1z"/>
<path fill="#d9eead" stroke="#d9eead" stroke-width=".02" d="M12 0h1v1h-1zM23 0h1v1h-1zM28 0h1v1h-1zM30 0h1v1h-1zM13 1h1v1h-1zM24 1h3v1h-3zM30 1h2v1h-2zM29 2h1v1h-1zM25 3h1v1h-1zM5 4h1v1h-1zM17 4h1v1h-1zM39 4h1v1h-1zM49 4h1v1h-1zM17 6h1v1h-1zM32 6h2v1h-2zM39 6h1v1h-1zM41 6h2v1h-2zM48 6h2v1h-2z"/>
<path fill="#b3dd9a" stroke="#b3dd9a" stroke-width=".02" d="M3 0h1v1h-1zM8 0h1v1h-1zM1 1h1v1h-1zM7 1h1v1h-1zM12 1h1v1h-1zM23 1h1v1h-1zM28 1h2v1h-2zM47 1h1v1h-1zM25 2h1v1h-1zM27 2h1v1h-1zM16 4h1v1h-1zM33 4h1v1h-1zM41 4h2v1h-2zM48 4h1v1h-1zM33 5h1v1h-1zM49 5h1v1h-1zM3 6h2v1h-2zM8 6h1v1h-1zM14 6h1v1h-1zM16 6h1v1h-1zM31 6h1v1h-1zM37 6h2v1h-2zM40 6h1v1h-1z"/>
<path fill="#8ccc88" stroke="#8ccc88" stroke-width=".02" d="M22 0h1v1h-1zM27 0h1v1h-1zM51 0h1v1h-1zM27 1h1v1h-1zM51 1h1v1h-1zM51 2h1v1h-1zM47 3h1v1h-1zM51 3h1v1h-1zM1 4h4v1h-4zM7 4h2v1h-2zM14 4h1v1h-1zM19 4h2v1h-2zM31 4h2v1h-2zM37 4h2v1h-2zM40 4h1v1h-1zM17 5h1v1h-1zM32 5h1v1h-1zM39 5h4v1h-4zM48 5h1v1h-1zM1 6h2v1h-2zM7 6h1v1h-1zM15 6h1v1h-1zM20 6h1v1h-1zM30 6h1v1h-1zM36 6h1v1h-1zM45 6h1v1h-1z"/>
<path fill="#66ba75" stroke="#66ba75" stroke-width=".02" d="M47 2h1v1h-1zM10 4h1v1h-1zM13 4h1v1h-1zM21 4h1v1h-1zM23 4h1v1h-1zM25 4h1v1h-1zM30 4h1v1h-1zM1 5h1v1h-1zM3 5h3v1h-3zM8 5h1v1h-1zM16 5h1v1h-1zM31 5h1v1h-1zM37 5h2v1h-2zM6 6h1v1h-1zM10 6h1v1h-1zM13 6h1v1h-1zM19 6h1v1h-1zM23 6h1v1h-1zM25 6h1v1h-1zM44 6h1v1h-1z"/>
<path fill="#40a963" stroke="#40a963" stroke-width=".02" d="M1 0h1v1h-1zM9 4h1v1h-1zM12 4h1v1h-1zM26 4h1v1h-1zM28 4h1v1h-1zM45 4h1v1h-1zM2 5h1v1h-1zM7 5h1v1h-1zM13 5h2v1h-2zM19 5h3v1h-3zM23 5h1v1h-1zM25 5h2v1h-2zM30 5h1v1h-1zM45 5h1v1h-1zM9 6h1v1h-1zM12 6h1v1h-1zM21 6h2v1h-2zM24 6h1v1h-1zM26 6h4v1h-4zM46 6h2v1h-2zM51 6h2v1h-2z"/>
<path fill="#1a9850" stroke="#1a9850" stroke-width=".02" d="M52 0h1v1h-1zM52 1h1v1h-1zM52 2h1v1h-1zM52 3h1v1h-1zM6 4h1v1h-1zM11 4h1v1h-1zM15 4h1v1h-1zM18 4h1v1h-1zM22 4h1v1h-1zM24 4h1v1h-1zM27 4h1v1h-1zM29 4h1v1h-1zM36 4h1v1h-1zM44 4h1v1h-1zM46 4h2v1h-2zM50 4h3v1h-3zM6 5h1v1h-1zM9 5h4v1h-4zM15 5h1v1h-1zM18 5h1v1h-1zM22 5h1v1h-1zM24 5h1v1h-1zM27 5h3v1h-3zM36 5h1v1h-1zM44 5h1v1h-1zM46 5h2v1h-2zM50 5h3v1h-3zM0 6h1v1h-1zM11 6h1v1h-1zM18 6h1v1h-1zM50 6h1v1h-1z"/>
<path fill="none" stroke="#909090" stroke-opacity="1" stroke-width=".064" d="M1 1h52M1 2h52M1 3h52M1 4h52M1 5h52M1 6h52M1 6v1M2 0v7M3 0v7M4 0v7M5 0v7M6 0v7M7 0v7M8 0v7M9 0v7M10 0v7M11 0v7M12 0v7M13 0v7M14 0v7M15 0v7M16 0v7M17 0v7M18 0v7M19 0v7M20 0v7M21 0v7M22 0v7M23 0v7M24 0v7M25 0v7M26 0v7M27 0v7M28 0v7M29 0v7M30 0v7M31 0v7M32 0v7M33 0v7M34 0v7M35 0v7M36 0v7M37 0v7M38 0v7M39 0v7M40 0v7M41 0v7M42 0v7M43 0v7M44 0v7M45 0v7M46 0v7M47 0v7M48 0v7M49 0v7M50 0v7M51 0v7M52 0v7"/>
<path fill="none" stroke="#000" stroke-width=".13" stroke-linecap="square" d="M1 0h52M31 1h1M5 2h1M9 2h1M44 2h1M22 3h1M35 4h1M48 4h1M13 5h1M26 5h1M0 6h1M39 6h1M0 7h53M0 6v1M1 0v6M5 2v5M6 0v2M9 2v5M10 0v2M13 5v2M14 0v5M18 0v7M22 3v4M23 0v3M26 5v2M27 0v5M31 1v6M32 0v1M35 4v3M36 0v4M39 6v1M40 0v6M44 2v5M45 0v2M48 4v3M49 0v4M53 0v7"/>
</g>
<text x="281.2" y="710.67" font-size="14" fill="#1a1a1a" text-anchor="middle" textLength="31" lengthAdjust="spacingAndGlyphs">2018</text>
<g transform="translate(49.7 718.27) scale(8.5714)">
<path fill="#de5240" stroke="#de5240" stroke-width=".02" d="M6 0h1v1h-1zM39 0h2v1h-2zM50 0h1v1h-1zM6 2h1v1h-1zM36 2h1v1h-1zM40 2h1v1h-1zM6 3h1v1h-1zM17 3h1v1h-1zM36 3h1v1h-1zM39 3h2v1h-2zM44 3h1v1h-1zM50 3h1v1h-1z"/>
<path fill="#e4745a" stroke="#e4745a" stroke-width=".02" d="M5 0h1v1h-1zM44 0h1v1h-1zM49 0h1v1h-1zM5 2h1v1h-1zM17 2h1v1h-1zM37 2h3v1h-3zM50 2h1v1h-1zM5 3h1v1h-1zM20 3h1v1h-1zM37 3h2v1h-2zM49 3h1v1h-1z"/>
<path fill="#eb9673" stroke="#eb9673" stroke-width=".02" d="M4 0h1v1h-1zM7 0h1v1h-1zM17 0h1v1h-1zM35 0h1v1h-1zM37 0h2v1h-2zM6 1h1v1h-1zM36 1h1v1h-1zM50 1h1v1h-1zM3 2h2v1h-2zM16 2h1v1h-1zM20 2h1v1h-1zM35 2h1v1h-1zM45 2h2v1h-2zM49 2h1v1h-1zM3 3h2v1h-2zM7 3h1v1h-1zM15 3h2v1h-2zM35 3h1v1h-1zM42 3h1v1h-1zM45 3h2v1h-2z"/>
<path fill="#f2b88c" stroke="#f2b88c" stroke-width=".02" d="M2 0h1v1h-1zM10 0h1v1h-1zM12 0h2v1h-2zM15 0h2v1h-2zM20 0h1v1h-1zM23 0h1v1h-1zM42 0h2v1h-2zM45 0h1v1h-1zM48 0h1v1h-1zM51 0h1v1h-1zM4 1h2v1h-2zM7 1h1v1h-1zM17 1h1v1h-1zM37 1h4v1h-4zM44 1h1v1h-1zM49 1h1v1h-1zM2 2h1v1h-1zM10 2h6v1h-6zM19 2h1v1h-1zM23 2h1v1h-1zM42 2h3v1h-3zM48 2h1v1h-1zM2 3h1v1h-1zM10 3h3v1h-3zM14 3h1v1h-1zM19 3h1v1h-1zM22 3h3v1h-3zM34 3h1v1h-1zM43 3h1v1h-1zM48 3h1v1h-1z"/>
<path fill="#f8dca6" stroke="#f8dca6" stroke-width=".02" d="M9 0h1v1h-1zM11 0h1v1h-1zM19 0h1v1h-1zM24 0h1v1h-1zM33 0h2v1h-2zM2 1h2v1h-2zM9 1h2v1h-2zM12 1h5v1h-5zM20 1h1v1h-1zM23 1h1v1h-1zM35 1h1v1h-1zM42 1h2v1h-2zM46 1h1v1h-1zM48 1h1v1h-1zM51 1h1v1h-1zM9 2h1v1h-1zM21 2h2v1h-2zM24 2h1v1h-1zM32 2h1v1h-1zM34 2h1v1h-1zM41 2h1v1h-1zM51 2h1v1h-1zM9 3h1v1h-1zM21 3h1v1h-1zM32 3h2v1h-2zM41 3h1v1h-1zM51 3h1v1h-1zM5 6h1v1h-1z"/>
<path fill="#ffffbf" stroke="#ffffbf" stroke-width=".02" d="M14 0h1v1h-1zM21 0h1v1h-1zM28 0h2v1h-2zM31 0h2v1h-2zM47 0h1v1h-1zM11 1h1v1h-1zM19 1h1v1h-1zM22 1h1v1h-1zM24 1h1v1h-1zM33 1h2v1h-2zM41 1h1v1h-1zM45 1h1v1h-1zM8 2h1v1h-1zM18 2h1v1h-1zM28 2h2v1h-2zM31 2h1v1h-1zM33 2h1v1h-1zM1 3h1v1h-1zM18 3h1v1h-1zM28 3h4v1h-4zM35 4h1v1h-1zM49 4h1v1h-1z"/>
<path fill="#d9eead" stroke="#d9eead" stroke-width=".02" d="M27 0h1v1h-1zM30 0h1v1h-1zM36 0h1v1h-1zM41 0h1v1h-1zM46 0h1v1h-1zM21 1h1v1h-1zM32 1h1v1h-1zM47 1h1v1h-1zM1 2h1v1h-1zM7 2h1v1h-1zM30 2h1v1h-1zM8 3h1v1h-1zM13 3h1v1h-1zM26 3h1v1h-1zM5 4h1v1h-1zM34 4h1v1h-1zM38 4h1v1h-1zM3 6h1v1h-1zM34 6h1v1h-1zM37 6h3v1h-3zM43 6h1v1h-1zM48 6h2v1h-2z"/>
<path fill="#b3dd9a" stroke="#b3dd9a" stroke-width=".02" d="M3 0h1v1h-1zM18 0h1v1h-1zM26 0h1v1h-1zM8 1h1v1h-1zM18 1h1v1h-1zM28 1h4v1h-4zM25 2h2v1h-2zM25 3h1v1h-1zM27 3h1v1h-1zM3 4h2v1h-2zM22 4h1v1h-1zM39 4h1v1h-1zM43 4h1v1h-1zM48 4h1v1h-1zM35 5h1v1h-1zM1 6h1v1h-1zM4 6h1v1h-1zM6 6h1v1h-1zM11 6h1v1h-1zM13 6h1v1h-1zM16 6h1v1h-1zM22 6h1v1h-1zM35 6h2v1h-2zM41 6h1v1h-1zM50 6h1v1h-1z"/>
<path fill="#8ccc88" stroke="#8ccc88" stroke-width=".02" d="M25 0h1v1h-1zM52 0h1v1h-1zM1 1h1v1h-1zM26 1h2v1h-2zM2 4h1v1h-1zM6 4h1v1h-1zM9 4h4v1h-4zM16 4h1v1h-1zM19 4h1v1h-1zM23 4h1v1h-1zM33 4h1v1h-1zM36 4h2v1h-2zM41 4h1v1h-1zM50 4h1v1h-1zM5 5h1v1h-1zM34 5h1v1h-1zM37 5h2v1h-2zM43 5h1v1h-1zM49 5h2v1h-2zM9 6h2v1h-2zM12 6h1v1h-1zM15 6h1v1h-1zM23 6h1v1h-1zM31 6h3v1h-3zM42 6h1v1h-1z"/>
<path fill="#66ba75" stroke="#66ba75" stroke-width=".02" d="M22 0h1v1h-1zM53 0h1v1h-1zM25 1h1v1h-1zM27 2h1v1h-1zM47 3h1v1h-1zM1 4h1v1h-1zM13 4h3v1h-3zM18 4h1v1h-1zM31 4h2v1h-2zM44 4h2v1h-2zM4 5h1v1h-1zM6 5h1v1h-1zM16 5h1v1h-1zM19 5h1v1h-1zM22 5h2v1h-2zM31 5h1v1h-1zM33 5h1v1h-1zM36 5h1v1h-1zM39 5h1v1h-1zM41 5h1v1h-1zM48 5h1v1h-1zM2 6h1v1h-1zM14 6h1v1h-1zM19 6h1v1h-1zM28 6h1v1h-1zM44 6h2v1h-2z"/>
<path fill="#40a963" stroke="#40a963" stroke-width=".02" d="M1 0h1v1h-1zM8 0h1v1h-1zM47 2h1v1h-1zM52 2h1v1h-1zM52 3h1v1h-1zM8 4h1v1h-1zM26 4h1v1h-1zM28 4h3v1h-3zM42 4h1v1h-1zM46 4h1v1h-1zM52 4h1v1h-1zM2 5h2v1h-2zM10 5h4v1h-4zM15 5h1v1h-1zM30 5h1v1h-1zM32 5h1v1h-1zM44 5h1v1h-1zM51 5h2v1h-2zM8 6h1v1h-1zM18 6h1v1h-1zM20 6h2v1h-2zM26 6h2v1h-2zM29 6h2v1h-2zM40 6h1v1h-1zM46 6h2v1h-2zM51 6h2v1h-2z"/>
<path fill="#1a9850" stroke="#1a9850" stroke-width=".02" d="M52 1h1v1h-1zM7 4h1v1h-1zM17 4h1v1h-1zM20 4h2v1h-2zM24 4h2v1h-2zM27 4h1v1h-1zM40 4h1v1h-1zM47 4h1v1h-1zM51 4h1v1h-1zM1 5h1v1h-1zM7 5h3v1h-3zM14 5h1v1h-1zM17 5h2v1h-2zM20 5h2v1h-2zM24 5h6v1h-6zM40 5h1v1h-1zM42 5h1v1h-1zM45 5h3v1h-3zM7 6h1v1h-1zM17 6h1v1h-1zM24 6h2v1h-2z"/>
<path fill="none" stroke="#909090" stroke-opacity="1" stroke-width=".064" d="M1 1h52M1 2h52M1 3h52M1 4h52M1 5h52M1 6h52M2 0v7M3 0v7M4 0v7M5 0v7M6 0v7M7 0v7M8 0v7M9 0v7M10 0v7M11 0v7M12 0v7M13 0v7M14 0v7M15 0v7M16 0v7M17 0v7M18 0v7M19 0v7M20 0v7M21 0v7M22 0v7M23 0v7M24 0v7M25 0v7M26 0v7M27 0v7M28 0v7M29 0v7M30 0v7M31 0v7M32 0v7M33 0v7M34 0v7M35 0v7M36 0v7M37 0v7M38 0v7M39 0v7M40 0v7M41 0v7M42 0v7M43 0v7M44 0v7M45 0v7M46 0v7M47 0v7M48 0v7M49 0v7M50 0v7M51 0v7M52 0v7M53 0v1"/>
<path fill="none" stroke="#000" stroke-width=".13" stroke-linecap="square" d="M1 0h53M18 1h1M53 1h1M31 2h1M5 3h1M9 3h1M44 3h1M22 4h1M35 5h1M48 5h1M13 6h1M26 6h1M1 7h52M1 0v7M5 3v4M6 0v3M9 3v4M10 0v3M13 6v1M14 0v6M18 1v6M19 0v1M22 4v3M23 0v4M26 6v1M27 0v6M31 2v5M32 0v2M35 5v2M36 0v5M40 0v7M44 3v4M45 0v3M48 5v2M49 0v5M53 1v6M54 0v1"/>
</g>
<text x="42.2" y="726.16" font-size="9.3" fill="#4d4d4d" text-anchor="end">Mon</text>
<text x="42.2" y="734.73" font-size="9.3" fill="#4d4d4d" text-anchor="end">Tue</text>
<text x="42.2" y="743.3" font-size="9.3" fill="#4d4d4d" text-anchor="end">Wed</text>
<text x="42.2" y="751.87" font-size="9.3" fill="#4d4d4d" text-anchor="end">Thu</text>
<text x="42.2" y="760.44" font-size="9.3" fill="#4d4d4d" text-anchor="end">Fri</text>
<text x="42.2" y="769.01" font-size="9.3" fill="#4d4d4d" text-anchor="end">Sat</text>
<text x="42.2" y="777.58" font-size="9.3" fill="#4d4d4d" text-anchor="end">Sun</text>
<text x="752" y="710.67" font-size="14" fill="#1a1a1a" text-anchor="middle" textLength="31" lengthAdjust="spacingAndGlyphs">2019</text>
<g transform="translate(520.5 718.27) scale(8.5714)">
<path fill="#d73027" stroke="#d73027" stroke-width=".02" d="M5 0h1v1h-1zM5 2h1v1h-1zM5 3h1v1h-1zM35 3h1v1h-1z"/>
<path fill="#de5240" stroke="#de5240" stroke-width=".02" d="M4 0h1v1h-1zM6 0h1v1h-1zM8 0h1v1h-1zM49 0h1v1h-1zM4 2h1v1h-1zM8 2h2v1h-2zM35 2h1v1h-1zM4 3h1v1h-1zM8 3h2v1h-2zM16 3h1v1h-1zM37 3h1v1h-1zM39 3h1v1h-1zM46 3h1v1h-1zM49 3h1v1h-1z"/>
<path fill="#e4745a" stroke="#e4745a" stroke-width=".02" d="M9 0h1v1h-1zM46 0h1v1h-1zM4 1h2v1h-2zM35 1h1v1h-1zM3 2h1v1h-1zM6 2h2v1h-2zM16 2h1v1h-1zM36 2h4v1h-4zM43 2h4v1h-4zM49 2h1v1h-1zM3 3h1v1h-1zM7 3h1v1h-1zM14 3h1v1h-1zM34 3h1v1h-1zM36 3h1v1h-1zM38 3h1v1h-1zM44 3h2v1h-2z"/>
<path fill="#eb9673" stroke="#eb9673" stroke-width=".02" d="M2 0h1v1h-1zM14 0h2v1h-2zM34 0h1v1h-1zM36 0h2v1h-2zM39 0h1v1h-1zM43 0h1v1h-1zM48 0h1v1h-1zM50 0h1v1h-1zM6 1h1v1h-1zM8 1h1v1h-1zM11 2h1v1h-1zM13 2h2v1h-2zM34 2h1v1h-1zM42 2h1v1h-1zM48 2h1v1h-1zM50 2h1v1h-1zM1 3h1v1h-1zM11 3h1v1h-1zM13 3h1v1h-1zM15 3h1v1h-1zM19 3h1v1h-1zM33 3h1v1h-1zM41 3h2v1h-2zM48 3h1v1h-1zM50 3h1v1h-1z"/>
<path fill="#f2b88c" stroke="#f2b88c" stroke-width=".02" d="M1 0h1v1h-1zM11 0h1v1h-1zM13 0h1v1h-1zM16 0h1v1h-1zM33 0h1v1h-1zM38 0h1v1h-1zM42 0h1v1h-1zM44 0h1v1h-1zM3 1h1v1h-1zM7 1h1v1h-1zM9 1h1v1h-1zM14 1h1v1h-1zM16 1h1v1h-1zM34 1h1v1h-1zM37 1h3v1h-3zM43 1h1v1h-1zM45 1h2v1h-2zM49 1h1v1h-1zM1 2h1v1h-1zM12 2h1v1h-1zM15 2h1v1h-1zM18 2h3v1h-3zM33 2h1v1h-1zM41 2h1v1h-1zM2 3h1v1h-1zM12 3h1v1h-1zM18 3h1v1h-1zM20 3h2v1h-2zM43 3h1v1h-1zM4 6h1v1h-1z"/>
<path fill="#f8dca6" stroke="#f8dca6" stroke-width=".02" d="M10 0h1v1h-1zM12 0h1v1h-1zM18 0h3v1h-3zM24 0h1v1h-1zM28 0h1v1h-1zM32 0h1v1h-1zM40 0h1v1h-1zM1 1h2v1h-2zM11 1h1v1h-1zM13 1h1v1h-1zM15 1h1v1h-1zM33 1h1v1h-1zM36 1h1v1h-1zM42 1h1v1h-1zM44 1h1v1h-1zM48 1h1v1h-1zM50 1h1v1h-1zM2 2h1v1h-1zM10 2h1v1h-1zM21 2h1v1h-1zM24 2h1v1h-1zM28 2h1v1h-1zM31 2h2v1h-2zM40 2h1v1h-1zM10 3h1v1h-1zM22 3h3v1h-3zM28 3h1v1h-1zM30 3h3v1h-3zM40 3h1v1h-1zM4 4h1v1h-1zM34 4h1v1h-1z"/>
<path fill="#ffffbf" stroke="#ffffbf" stroke-width=".02" d="M22 0h2v1h-2zM26 0h1v1h-1zM30 0h2v1h-2zM35 0h1v1h-1zM41 0h1v1h-1zM45 0h1v1h-1zM47 0h1v1h-1zM12 1h1v1h-1zM18 1h3v1h-3zM41 1h1v1h-1zM22 2h2v1h-2zM27 2h1v1h-1zM30 2h1v1h-1zM27 3h1v1h-1zM3 4h1v1h-1z"/>
<path fill="#d9eead" stroke="#d9eead" stroke-width=".02" d="M7 0h1v1h-1zM25 0h1v1h-1zM27 0h1v1h-1zM10 1h1v1h-1zM21 1h4v1h-4zM28 1h1v1h-1zM31 1h2v1h-2zM40 1h1v1h-1zM0 2h1v1h-1zM29 2h1v1h-1zM0 3h1v1h-1zM17 3h1v1h-1zM25 3h1v1h-1zM29 3h1v1h-1zM8 4h1v1h-1zM38 4h1v1h-1zM48 4h1v1h-1zM34 5h1v1h-1zM3 6h1v1h-1zM7 6h1v1h-1zM15 6h1v1h-1zM33 6h1v1h-1zM36 6h3v1h-3zM45 6h1v1h-1zM48 6h2v1h-2z"/>
<path fill="#b3dd9a" stroke="#b3dd9a" stroke-width=".02" d="M3 0h1v1h-1zM29 0h1v1h-1zM27 1h1v1h-1zM30 1h1v1h-1zM47 1h1v1h-1zM17 2h1v1h-1zM25 2h1v1h-1zM6 3h1v1h-1zM1 4h2v1h-2zM5 4h2v1h-2zM14 4h1v1h-1zM32 4h2v1h-2zM42 4h4v1h-4zM4 5h1v1h-1zM48 5h1v1h-1zM0 6h3v1h-3zM5 6h2v1h-2zM8 6h1v1h-1zM14 6h1v1h-1zM31 6h2v1h-2zM34 6h2v1h-2zM41 6h4v1h-4z"/>
<path fill="#8ccc88" stroke="#8ccc88" stroke-width=".02" d="M17 1h1v1h-1zM25 1h1v1h-1zM51 1h1v1h-1zM47 3h1v1h-1zM0 4h1v1h-1zM7 4h1v1h-1zM15 4h1v1h-1zM23 4h1v1h-1zM27 4h1v1h-1zM36 4h1v1h-1zM49 4h1v1h-1zM3 5h1v1h-1zM15 5h1v1h-1zM33 5h1v1h-1zM38 5h1v1h-1zM42 5h1v1h-1zM45 5h1v1h-1zM11 6h3v1h-3zM22 6h2v1h-2zM27 6h1v1h-1zM30 6h1v1h-1zM40 6h1v1h-1z"/>
<path fill="#66ba75" stroke="#66ba75" stroke-width=".02" d="M17 0h1v1h-1zM21 0h1v1h-1zM51 0h2v1h-2zM29 1h1v1h-1zM52 1h1v1h-1zM26 2h1v1h-1zM47 2h1v1h-1zM26 3h1v1h-1zM10 4h3v1h-3zM22 4h1v1h-1zM25 4h1v1h-1zM31 4h1v1h-1zM35 4h1v1h-1zM37 4h1v1h-1zM40 4h2v1h-2zM1 5h2v1h-2zM5 5h4v1h-4zM14 5h1v1h-1zM23 5h1v1h-1zM27 5h1v1h-1zM31 5h2v1h-2zM36 5h2v1h-2zM43 5h2v1h-2zM49 5h1v1h-1zM10 6h1v1h-1zM19 6h1v1h-1zM21 6h1v1h-1zM25 6h1v1h-1zM29 6h1v1h-1zM39 6h1v1h-1zM47 6h1v1h-1z"/>
<path fill="#40a963" stroke="#40a963" stroke-width=".02" d="M0 1h1v1h-1zM13 4h1v1h-1zM17 4h5v1h-5zM29 4h2v1h-2zM39 4h1v1h-1zM0 5h1v1h-1zM10 5h4v1h-4zM19 5h1v1h-1zM22 5h1v1h-1zM25 5h1v1h-1zM29 5h2v1h-2zM35 5h1v1h-1zM39 5h3v1h-3zM9 6h1v1h-1zM17 6h2v1h-2zM20 6h1v1h-1zM24 6h1v1h-1zM26 6h1v1h-1zM51 6h1v1h-1z"/>
<path fill="#1a9850" stroke="#1a9850" stroke-width=".02" d="M26 1h1v1h-1zM51 2h1v1h-1zM51 3h1v1h-1zM9 4h1v1h-1zM16 4h1v1h-1zM24 4h1v1h-1zM26 4h1v1h-1zM28 4h1v1h-1zM46 4h2v1h-2zM50 4h2v1h-2zM9 5h1v1h-1zM16 5h3v1h-3zM20 5h2v1h-2zM24 5h1v1h-1zM26 5h1v1h-1zM28 5h1v1h-1zM46 5h2v1h-2zM50 5h2v1h-2zM16 6h1v1h-1zM28 6h1v1h-1zM46 6h1v1h-1zM50 6h1v1h-1z"/>
<path fill="none" stroke="#909090" stroke-opacity="1" stroke-width=".064" d="M1 1h52M0 2h52M0 3h52M0 4h52M0 5h52M0 6h52M1 1v6M2 0v7M3 0v7M4 0v7M5 0v7M6 0v7M7 0v7M8 0v7M9 0v7M10 0v7M11 0v7M12 0v7M13 0v7M14 0v7M15 0v7M16 0v7M17 0v7M18 0v7M19 0v7M20 0v7M21 0v7M22 0v7M23 0v7M24 0v7M25 0v7M26 0v7M27 0v7M28 0v7M29 0v7M30 0v7M31 0v7M32 0v7M33 0v7M34 0v7M35 0v7M36 0v7M37 0v7M38 0v7M39 0v7M40 0v7M41 0v7M42 0v7M43 0v7M44 0v7M45 0v7M46 0v7M47 0v7M48 0v7M49 0v7M50 0v7M51 0v7M52 0v2"/>
<path fill="none" stroke="#000" stroke-width=".13" stroke-linecap="square" d="M1 0h52M0 1h1M39 1h1M17 2h1M52 2h1M30 3h1M4 4h1M8 4h1M43 4h1M21 5h1M34 6h1M47 6h1M0 7h52M0 1v6M1 0v1M4 4v3M5 0v4M8 4v3M9 0v4M13 0v7M17 2v5M18 0v2M21 5v2M22 0v5M26 0v7M30 3v4M31 0v3M34 6v1M35 0v6M39 1v6M40 0v1M43 4v3M44 0v4M47 6v1M48 0v6M52 2v5M53 0v2"/>
</g>
<text x="281.2" y="804.78" font-size="14" fill="#1a1a1a" text-anchor="middle" textLength="33.9" lengthAdjust="spacingAndGlyphs">2020</text>
<g transform="translate(49.7 812.38) scale(8.5714)">
<path fill="#d73027" stroke="#d73027" stroke-width=".02" d="M11 0h42v1h-42zM11 1h42v1h-42zM11 2h42v1h-42zM11 3h24v1h-24zM36 3h17v1h-17zM11 4h23v1h-23zM36 4h11v1h-11zM48 4h3v1h-3zM11 5h23v1h-23zM38 5h3v1h-3zM42 5h2v1h-2zM46 5h1v1h-1zM48 5h3v1h-3zM11 6h24v1h-24zM36 6h15v1h-15z"/>
<path fill="#de5240" stroke="#de5240" stroke-width=".02" d="M5 0h2v1h-2zM8 0h2v1h-2zM5 2h2v1h-2zM9 2h1v1h-1zM5 3h2v1h-2zM9 3h1v1h-1zM35 3h1v1h-1zM34 4h2v1h-2zM47 4h1v1h-1zM34 5h4v1h-4zM41 5h1v1h-1zM44 5h2v1h-2zM47 5h1v1h-1zM35 6h1v1h-1zM51 6h1v1h-1z"/>
<path fill="#e4745a" stroke="#e4745a" stroke-width=".02" d="M4 0h1v1h-1zM10 0h1v1h-1zM4 2h1v1h-1zM7 2h1v1h-1zM10 2h1v1h-1zM4 3h1v1h-1zM7 3h2v1h-2zM10 3h1v1h-1z"/>
<path fill="#eb9673" stroke="#eb9673" stroke-width=".02" d="M2 0h1v1h-1zM5 1h2v1h-2zM1 2h1v1h-1zM8 2h1v1h-1zM1 3h1v1h-1zM3 3h1v1h-1zM51 5h1v1h-1z"/>
<path fill="#f2b88c" stroke="#f2b88c" stroke-width=".02" d="M1 0h1v1h-1zM4 1h1v1h-1zM8 1h3v1h-3zM2 2h2v1h-2zM2 3h1v1h-1zM51 4h1v1h-1zM4 6h1v1h-1zM10 6h1v1h-1z"/>
<path fill="#f8dca6" stroke="#f8dca6" stroke-width=".02" d="M1 1h2v1h-2zM7 1h1v1h-1z"/>
<path fill="#ffffbf" stroke="#ffffbf" stroke-width=".02" d="M3 1h1v1h-1zM4 4h1v1h-1zM10 4h1v1h-1zM10 5h1v1h-1z"/>
<path fill="#d9eead" stroke="#d9eead" stroke-width=".02" d="M7 0h1v1h-1zM5 4h1v1h-1zM7 4h2v1h-2zM5 6h1v1h-1zM7 6h3v1h-3z"/>
<path fill="#b3dd9a" stroke="#b3dd9a" stroke-width=".02" d="M0 3h1v1h-1zM3 4h1v1h-1zM9 4h1v1h-1zM1 6h1v1h-1zM3 6h1v1h-1z"/>
<path fill="#8ccc88" stroke="#8ccc88" stroke-width=".02" d="M3 0h1v1h-1zM1 4h1v1h-1zM4 5h2v1h-2zM7 5h3v1h-3zM0 6h1v1h-1zM6 6h1v1h-1z"/>
<path fill="#66ba75" stroke="#66ba75" stroke-width=".02" d="M0 4h1v1h-1zM2 4h1v1h-1zM1 5h1v1h-1zM3 5h1v1h-1zM2 6h1v1h-1z"/>
<path fill="#40a963" stroke="#40a963" stroke-width=".02" d="M0 2h1v1h-1zM6 4h1v1h-1zM0 5h1v1h-1zM2 5h1v1h-1zM6 5h1v1h-1z"/>
<path fill="none" stroke="#909090" stroke-opacity="1" stroke-width=".064" d="M1 1h52M1 2h52M0 3h53M0 4h52M0 5h52M0 6h52M1 2v5M2 0v7M3 0v7M4 0v7M5 0v7M6 0v7M7 0v7M8 0v7M9 0v7M10 0v7M11 0v7M12 0v7M13 0v7M14 0v7M15 0v7M16 0v7M17 0v7M18 0v7M19 0v7M20 0v7M21 0v7M22 0v7M23 0v7M24 0v7M25 0v7M26 0v7M27 0v7M28 0v7M29 0v7M30 0v7M31 0v7M32 0v7M33 0v7M34 0v7M35 0v7M36 0v7M37 0v7M38 0v7M39 0v7M40 0v7M41 0v7M42 0v7M43 0v7M44 0v7M45 0v7M46 0v7M47 0v7M48 0v7M49 0v7M50 0v7M51 0v7M52 0v4"/>
<path fill="none" stroke="#000" stroke-width=".13" stroke-linecap="square" d="M1 0h52M35 1h1M48 1h1M0 2h1M13 2h1M26 2h1M39 3h1M17 4h1M52 4h1M4 5h1M30 5h1M8 6h1M43 6h1M0 7h52M0 2v5M1 0v2M4 5v2M5 0v5M8 6v1M9 0v6M13 2v5M14 0v2M17 4v3M18 0v4M22 0v7M26 2v5M27 0v2M30 5v2M31 0v5M35 1v6M36 0v1M39 3v4M40 0v3M43 6v1M44 0v6M48 1v6M49 0v1M52 4v3M53 0v4"/>
</g>
<text x="42.2" y="820.27" font-size="9.3" fill="#4d4d4d" text-anchor="end">Mon</text>
<text x="42.2" y="828.84" font-size="9.3" fill="#4d4d4d" text-anchor="end">Tue</text>
<text x="42.2" y="837.41" font-size="9.3" fill="#4d4d4d" text-anchor="end">Wed</text>
<text x="42.2" y="845.98" font-size="9.3" fill="#4d4d4d" text-anchor="end">Thu</text>
<text x="42.2" y="854.55" font-size="9.3" fill="#4d4d4d" text-anchor="end">Fri</text>
<text x="42.2" y="863.12" font-size="9.3" fill="#4d4d4d" text-anchor="end">Sat</text>
<text x="42.2" y="871.69" font-size="9.3" fill="#4d4d4d" text-anchor="end">Sun</text>
<text x="752" y="804.78" font-size="14" fill="#1a1a1a" text-anchor="middle" textLength="29.5" lengthAdjust="spacingAndGlyphs">2021</text>
<g transform="translate(520.5 812.38) scale(8.5714)">
<path fill="#d73027" stroke="#d73027" stroke-width=".02" d="M1 0h21v1h-21zM24 0h1v1h-1zM32 0h1v1h-1zM37 0h3v1h-3zM43 0h1v1h-1zM46 0h1v1h-1zM49 0h2v1h-2zM1 1h21v1h-21zM38 1h2v1h-2zM1 2h12v1h-12zM14 2h8v1h-8zM25 2h1v1h-1zM32 2h1v1h-1zM35 2h1v1h-1zM37 2h3v1h-3zM43 2h1v1h-1zM46 2h1v1h-1zM49 2h2v1h-2zM1 3h12v1h-12zM14 3h8v1h-8zM25 3h1v1h-1zM32 3h1v1h-1zM35 3h1v1h-1zM37 3h3v1h-3zM43 3h2v1h-2zM46 3h1v1h-1zM49 3h2v1h-2zM1 4h7v1h-7zM10 4h1v1h-1zM20 4h1v1h-1zM1 5h1v1h-1zM3 5h1v1h-1zM5 5h3v1h-3zM0 6h8v1h-8zM11 6h1v1h-1zM17 6h1v1h-1zM20 6h1v1h-1z"/>
<path fill="#de5240" stroke="#de5240" stroke-width=".02" d="M23 0h1v1h-1zM25 0h1v1h-1zM34 0h2v1h-2zM44 0h1v1h-1zM48 0h1v1h-1zM23 1h3v1h-3zM32 1h1v1h-1zM34 1h2v1h-2zM37 1h1v1h-1zM43 1h1v1h-1zM49 1h2v1h-2zM23 2h1v1h-1zM30 2h1v1h-1zM33 2h2v1h-2zM40 2h1v1h-1zM44 2h1v1h-1zM23 3h1v1h-1zM29 3h2v1h-2zM33 3h2v1h-2zM36 3h1v1h-1zM40 3h1v1h-1zM42 3h1v1h-1zM0 4h1v1h-1zM8 4h1v1h-1zM11 4h2v1h-2zM15 4h1v1h-1zM17 4h1v1h-1zM0 5h1v1h-1zM2 5h1v1h-1zM4 5h1v1h-1zM17 5h1v1h-1zM20 5h1v1h-1zM8 6h3v1h-3zM12 6h1v1h-1zM15 6h1v1h-1zM18 6h2v1h-2z"/>
<path fill="#e4745a" stroke="#e4745a" stroke-width=".02" d="M29 0h2v1h-2zM33 0h1v1h-1zM42 0h1v1h-1zM45 0h1v1h-1zM22 1h1v1h-1zM44 1h1v1h-1zM46 1h1v1h-1zM48 1h1v1h-1zM22 2h1v1h-1zM24 2h1v1h-1zM29 2h1v1h-1zM31 2h1v1h-1zM36 2h1v1h-1zM41 2h2v1h-2zM48 2h1v1h-1zM22 3h1v1h-1zM24 3h1v1h-1zM27 3h1v1h-1zM31 3h1v1h-1zM41 3h1v1h-1zM48 3h1v1h-1zM9 4h1v1h-1zM14 4h1v1h-1zM18 4h2v1h-2zM10 5h3v1h-3zM15 5h1v1h-1zM19 5h1v1h-1zM14 6h1v1h-1z"/>
<path fill="#eb9673" stroke="#eb9673" stroke-width=".02" d="M31 0h1v1h-1zM40 0h1v1h-1zM47 0h1v1h-1zM29 1h2v1h-2zM33 1h1v1h-1zM36 1h1v1h-1zM40 1h3v1h-3zM45 1h1v1h-1zM26 2h2v1h-2zM45 2h1v1h-1zM13 3h1v1h-1zM26 3h1v1h-1zM28 3h1v1h-1zM8 5h1v1h-1zM18 5h1v1h-1zM13 6h1v1h-1zM23 6h1v1h-1zM38 6h1v1h-1z"/>
<path fill="#f2b88c" stroke="#f2b88c" stroke-width=".02" d="M26 0h1v1h-1zM28 0h1v1h-1zM26 1h2v1h-2zM31 1h1v1h-1zM47 1h1v1h-1zM13 2h1v1h-1zM28 2h1v1h-1zM37 4h2v1h-2zM49 4h1v1h-1zM9 5h1v1h-1zM14 5h1v1h-1zM24 6h1v1h-1zM37 6h1v1h-1zM49 6h1v1h-1z"/>
<path fill="#f8dca6" stroke="#f8dca6" stroke-width=".02" d="M22 0h1v1h-1zM41 0h1v1h-1zM28 1h1v1h-1zM45 3h1v1h-1zM13 4h1v1h-1zM23 4h2v1h-2zM36 4h1v1h-1zM48 4h1v1h-1zM23 5h2v1h-2zM38 5h1v1h-1zM16 6h1v1h-1zM22 6h1v1h-1zM28 6h2v1h-2zM31 6h1v1h-1zM33 6h2v1h-2zM36 6h1v1h-1zM43 6h1v1h-1zM48 6h1v1h-1z"/>
<path fill="#ffffbf" stroke="#ffffbf" stroke-width=".02" d="M27 0h1v1h-1zM47 3h1v1h-1zM16 4h1v1h-1zM33 4h2v1h-2zM43 4h1v1h-1zM45 4h1v1h-1zM13 5h1v1h-1zM16 5h1v1h-1zM29 5h1v1h-1zM34 5h1v1h-1zM36 5h2v1h-2zM48 5h2v1h-2zM30 6h1v1h-1zM32 6h1v1h-1zM45 6h2v1h-2z"/>
<path fill="#d9eead" stroke="#d9eead" stroke-width=".02" d="M47 2h1v1h-1zM22 4h1v1h-1zM29 4h4v1h-4zM46 4h1v1h-1zM21 5h2v1h-2zM28 5h1v1h-1zM30 5h4v1h-4zM43 5h1v1h-1zM21 6h1v1h-1zM25 6h2v1h-2zM42 6h1v1h-1zM47 6h1v1h-1z"/>
<path fill="#b3dd9a" stroke="#b3dd9a" stroke-width=".02" d="M36 0h1v1h-1zM52 2h1v1h-1zM21 4h1v1h-1zM26 4h1v1h-1zM28 4h1v1h-1zM42 4h1v1h-1zM51 4h1v1h-1zM25 5h2v1h-2zM45 5h2v1h-2zM27 6h1v1h-1zM40 6h2v1h-2zM44 6h1v1h-1z"/>
<path fill="#8ccc88" stroke="#8ccc88" stroke-width=".02" d="M51 0h2v1h-2zM51 1h2v1h-2zM52 3h1v1h-1zM25 4h1v1h-1zM35 4h1v1h-1zM40 4h2v1h-2zM44 4h1v1h-1zM47 4h1v1h-1zM52 4h1v1h-1zM27 5h1v1h-1zM35 5h1v1h-1zM40 5h1v1h-1zM42 5h1v1h-1zM44 5h1v1h-1zM47 5h1v1h-1zM35 6h1v1h-1zM39 6h1v1h-1z"/>
<path fill="#66ba75" stroke="#66ba75" stroke-width=".02" d="M51 2h1v1h-1zM51 3h1v1h-1zM39 4h1v1h-1zM39 5h1v1h-1zM41 5h1v1h-1z"/>
<path fill="#40a963" stroke="#40a963" stroke-width=".02" d="M27 4h1v1h-1zM51 5h1v1h-1zM51 6h1v1h-1z"/>
<path fill="#1a9850" stroke="#1a9850" stroke-width=".02" d="M50 4h1v1h-1zM50 5h1v1h-1zM50 6h1v1h-1z"/>
<path fill="none" stroke="#909090" stroke-opacity="1" stroke-width=".064" d="M1 1h52M1 2h52M1 3h52M1 4h52M0 5h52M0 6h52M1 4v3M2 0v7M3 0v7M4 0v7M5 0v7M6 0v7M7 0v7M8 0v7M9 0v7M10 0v7M11 0v7M12 0v7M13 0v7M14 0v7M15 0v7M16 0v7M17 0v7M18 0v7M19 0v7M20 0v7M21 0v7M22 0v7M23 0v7M24 0v7M25 0v7M26 0v7M27 0v7M28 0v7M29 0v7M30 0v7M31 0v7M32 0v7M33 0v7M34 0v7M35 0v7M36 0v7M37 0v7M38 0v7M39 0v7M40 0v7M41 0v7M42 0v7M43 0v7M44 0v7M45 0v7M46 0v7M47 0v7M48 0v7M49 0v7M50 0v7M51 0v7M52 0v5"/>
<path fill="none" stroke="#000" stroke-width=".13" stroke-linecap="square" d="M1 0h52M22 1h1M35 2h1M48 2h1M13 3h1M26 3h1M0 4h1M39 4h1M17 5h1M52 5h1M30 6h1M0 7h52M0 4v3M1 0v4M5 0v7M9 0v7M13 3v4M14 0v3M17 5v2M18 0v5M22 1v6M23 0v1M26 3v4M27 0v3M30 6v1M31 0v6M35 2v5M36 0v2M39 4v3M40 0v4M44 0v7M48 2v5M49 0v2M52 5v2M53 0v5"/>
</g>
<text x="281.2" y="898.89" font-size="14" fill="#1a1a1a" text-anchor="middle" textLength="33.9" lengthAdjust="spacingAndGlyphs">2022</text>
<g transform="translate(49.7 906.49) scale(8.5714)">
<path fill="#d73027" stroke="#d73027" stroke-width=".02" d="M2 0h1v1h-1zM4 0h3v1h-3zM9 0h1v1h-1zM35 0h1v1h-1zM37 0h4v1h-4zM42 0h1v1h-1zM45 0h1v1h-1zM48 0h3v1h-3zM4 1h3v1h-3zM36 1h2v1h-2zM48 1h1v1h-1zM50 1h1v1h-1zM2 2h6v1h-6zM9 2h1v1h-1zM18 2h1v1h-1zM35 2h5v1h-5zM41 2h2v1h-2zM44 2h2v1h-2zM48 2h3v1h-3zM2 3h6v1h-6zM9 3h1v1h-1zM14 3h1v1h-1zM18 3h1v1h-1zM35 3h8v1h-8zM44 3h2v1h-2zM48 3h3v1h-3z"/>
<path fill="#de5240" stroke="#de5240" stroke-width=".02" d="M12 0h3v1h-3zM17 0h2v1h-2zM20 0h2v1h-2zM33 0h2v1h-2zM44 0h1v1h-1zM2 1h2v1h-2zM7 1h1v1h-1zM9 1h1v1h-1zM12 1h1v1h-1zM17 1h2v1h-2zM21 1h1v1h-1zM34 1h2v1h-2zM38 1h3v1h-3zM42 1h1v1h-1zM44 1h2v1h-2zM49 1h1v1h-1zM8 2h1v1h-1zM12 2h2v1h-2zM17 2h1v1h-1zM20 2h2v1h-2zM33 2h2v1h-2zM40 2h1v1h-1zM43 2h1v1h-1zM1 3h1v1h-1zM8 3h1v1h-1zM12 3h2v1h-2zM16 3h2v1h-2zM20 3h2v1h-2zM33 3h2v1h-2zM43 3h1v1h-1z"/>
<path fill="#e4745a" stroke="#e4745a" stroke-width=".02" d="M15 0h1v1h-1zM41 0h1v1h-1zM43 0h1v1h-1zM13 1h3v1h-3zM20 1h1v1h-1zM33 1h1v1h-1zM41 1h1v1h-1zM1 2h1v1h-1zM14 2h1v1h-1zM16 2h1v1h-1zM11 3h1v1h-1zM4 4h1v1h-1zM4 6h1v1h-1z"/>
<path fill="#eb9673" stroke="#eb9673" stroke-width=".02" d="M11 0h1v1h-1zM32 0h1v1h-1zM1 1h1v1h-1zM8 1h1v1h-1zM11 1h1v1h-1zM16 1h1v1h-1zM43 1h1v1h-1zM11 2h1v1h-1zM15 2h1v1h-1zM32 2h1v1h-1zM46 2h1v1h-1zM15 3h1v1h-1zM19 3h1v1h-1zM31 3h2v1h-2zM46 3h1v1h-1zM35 4h1v1h-1zM49 4h1v1h-1zM6 6h1v1h-1zM36 6h1v1h-1zM49 6h1v1h-1z"/>
<path fill="#f2b88c" stroke="#f2b88c" stroke-width=".02" d="M1 0h1v1h-1zM3 0h1v1h-1zM7 0h1v1h-1zM10 0h1v1h-1zM16 0h1v1h-1zM31 0h1v1h-1zM36 0h1v1h-1zM46 0h2v1h-2zM32 1h1v1h-1zM10 2h1v1h-1zM19 2h1v1h-1zM31 2h1v1h-1zM10 3h1v1h-1zM23 3h1v1h-1zM3 4h1v1h-1zM34 4h1v1h-1zM36 4h1v1h-1zM49 5h1v1h-1zM3 6h1v1h-1zM34 6h2v1h-2zM37 6h2v1h-2zM48 6h1v1h-1z"/>
<path fill="#f8dca6" stroke="#f8dca6" stroke-width=".02" d="M8 0h1v1h-1zM19 0h1v1h-1zM23 0h1v1h-1zM29 0h2v1h-2zM10 1h1v1h-1zM19 1h1v1h-1zM23 1h1v1h-1zM31 1h1v1h-1zM46 1h2v1h-2zM22 2h2v1h-2zM25 2h2v1h-2zM29 2h2v1h-2zM24 3h3v1h-3zM29 3h2v1h-2zM47 3h1v1h-1zM1 4h1v1h-1zM5 4h2v1h-2zM8 4h1v1h-1zM17 4h1v1h-1zM32 4h1v1h-1zM37 4h4v1h-4zM44 4h1v1h-1zM48 4h1v1h-1zM4 5h1v1h-1zM34 5h1v1h-1zM36 5h2v1h-2zM48 5h1v1h-1zM1 6h2v1h-2zM5 6h1v1h-1zM8 6h1v1h-1zM32 6h1v1h-1zM39 6h3v1h-3zM43 6h2v1h-2z"/>
<path fill="#ffffbf" stroke="#ffffbf" stroke-width=".02" d="M24 0h1v1h-1zM26 0h1v1h-1zM51 0h1v1h-1zM22 1h1v1h-1zM25 1h2v1h-2zM29 1h2v1h-2zM51 1h1v1h-1zM24 2h1v1h-1zM28 2h1v1h-1zM47 2h1v1h-1zM51 2h1v1h-1zM22 3h1v1h-1zM27 3h2v1h-2zM51 3h1v1h-1zM7 4h1v1h-1zM20 4h1v1h-1zM43 4h1v1h-1zM3 5h1v1h-1zM32 5h1v1h-1zM35 5h1v1h-1zM38 5h3v1h-3zM44 5h1v1h-1zM51 5h1v1h-1zM11 6h3v1h-3zM17 6h1v1h-1zM20 6h1v1h-1zM33 6h1v1h-1z"/>
<path fill="#d9eead" stroke="#d9eead" stroke-width=".02" d="M25 0h1v1h-1zM28 0h1v1h-1zM24 1h1v1h-1zM27 2h1v1h-1zM2 4h1v1h-1zM10 4h4v1h-4zM16 4h1v1h-1zM19 4h1v1h-1zM33 4h1v1h-1zM51 4h1v1h-1zM1 5h2v1h-2zM5 5h2v1h-2zM8 5h1v1h-1zM17 5h1v1h-1zM20 5h1v1h-1zM33 5h1v1h-1zM41 5h1v1h-1zM43 5h1v1h-1zM0 6h1v1h-1zM7 6h1v1h-1zM10 6h1v1h-1zM15 6h2v1h-2zM19 6h1v1h-1zM30 6h2v1h-2zM42 6h1v1h-1zM46 6h2v1h-2z"/>
<path fill="#b3dd9a" stroke="#b3dd9a" stroke-width=".02" d="M27 0h1v1h-1zM27 1h2v1h-2zM52 2h1v1h-1zM52 3h1v1h-1zM15 4h1v1h-1zM22 4h1v1h-1zM30 4h2v1h-2zM41 4h1v1h-1zM46 4h2v1h-2zM7 5h1v1h-1zM11 5h3v1h-3zM16 5h1v1h-1zM30 5h2v1h-2zM52 5h1v1h-1zM14 6h1v1h-1zM29 6h1v1h-1z"/>
<path fill="#8ccc88" stroke="#8ccc88" stroke-width=".02" d="M52 1h1v1h-1zM14 4h1v1h-1zM29 4h1v1h-1zM42 4h1v1h-1zM52 4h1v1h-1zM0 5h1v1h-1zM15 5h1v1h-1zM19 5h1v1h-1zM42 5h1v1h-1zM46 5h2v1h-2zM9 6h1v1h-1zM22 6h1v1h-1zM25 6h1v1h-1zM28 6h1v1h-1z"/>
<path fill="#66ba75" stroke="#66ba75" stroke-width=".02" d="M22 0h1v1h-1zM52 0h1v1h-1zM24 4h1v1h-1zM28 4h1v1h-1zM10 5h1v1h-1zM14 5h1v1h-1zM22 5h1v1h-1zM28 5h2v1h-2zM18 6h1v1h-1zM24 6h1v1h-1zM26 6h1v1h-1zM45 6h1v1h-1zM50 6h2v1h-2z"/>
<path fill="#40a963" stroke="#40a963" stroke-width=".02" d="M9 4h1v1h-1zM25 4h2v1h-2zM50 4h1v1h-1zM9 5h1v1h-1zM24 5h3v1h-3zM45 5h1v1h-1zM50 5h1v1h-1zM23 6h1v1h-1zM27 6h1v1h-1z"/>
<path fill="#1a9850" stroke="#1a9850" stroke-width=".02" d="M18 4h1v1h-1zM21 4h1v1h-1zM23 4h1v1h-1zM27 4h1v1h-1zM45 4h1v1h-1zM18 5h1v1h-1zM21 5h1v1h-1zM23 5h1v1h-1zM27 5h1v1h-1zM21 6h1v1h-1z"/>
<path fill="none" stroke="#909090" stroke-opacity="1" stroke-width=".064" d="M1 1h52M1 2h52M1 3h52M1 4h52M1 5h52M0 6h52M1 5v2M2 0v7M3 0v7M4 0v7M5 0v7M6 0v7M7 0v7M8 0v7M9 0v7M10 0v7M11 0v7M12 0v7M13 0v7M14 0v7M15 0v7M16 0v7M17 0v7M18 0v7M19 0v7M20 0v7M21 0v7M22 0v7M23 0v7M24 0v7M25 0v7M26 0v7M27 0v7M28 0v7M29 0v7M30 0v7M31 0v7M32 0v7M33 0v7M34 0v7M35 0v7M36 0v7M37 0v7M38 0v7M39 0v7M40 0v7M41 0v7M42 0v7M43 0v7M44 0v7M45 0v7M46 0v7M47 0v7M48 0v7M49 0v7M50 0v7M51 0v7M52 0v6"/>
<path fill="none" stroke="#000" stroke-width=".13" stroke-linecap="square" d="M1 0h52M5 1h1M9 1h1M44 1h1M22 2h1M35 3h1M48 3h1M13 4h1M26 4h1M0 5h1M39 5h1M17 6h1M52 6h1M0 7h52M0 5v2M1 0v5M5 1v6M6 0v1M9 1v6M10 0v1M13 4v3M14 0v4M17 6v1M18 0v6M22 2v5M23 0v2M26 4v3M27 0v4M31 0v7M35 3v4M36 0v3M39 5v2M40 0v5M44 1v6M45 0v1M48 3v4M49 0v3M52 6v1M53 0v6"/>
</g>
<text x="42.2" y="914.38" font-size="9.3" fill="#4d4d4d" text-anchor="end">Mon</text>
<text x="42.2" y="922.95" font-size="9.3" fill="#4d4d4d" text-anchor="end">Tue</text>
<text x="42.2" y="931.52" font-size="9.3" fill="#4d4d4d" text-anchor="end">Wed</text>
<text x="42.2" y="940.09" font-size="9.3" fill="#4d4d4d" text-anchor="end">Thu</text>
<text x="42.2" y="948.66" font-size="9.3" fill="#4d4d4d" text-anchor="end">Fri</text>
<text x="42.2" y="957.23" font-size="9.3" fill="#4d4d4d" text-anchor="end">Sat</text>
<text x="42.2" y="965.8" font-size="9.3" fill="#4d4d4d" text-anchor="end">Sun</text>
<text x="752" y="898.89" font-size="14" fill="#1a1a1a" text-anchor="middle" textLength="33.9" lengthAdjust="spacingAndGlyphs">2023</text>
<g transform="translate(520.5 906.49) scale(8.5714)">
<path fill="#d73027" stroke="#d73027" stroke-width=".02" d="M5 0h3v1h-3zM38 0h2v1h-2zM42 0h2v1h-2zM45 0h1v1h-1zM38 1h1v1h-1zM42 1h1v1h-1zM5 2h2v1h-2zM38 2h2v1h-2zM41 2h2v1h-2zM45 2h2v1h-2zM6 3h1v1h-1zM12 3h1v1h-1zM18 3h1v1h-1zM38 3h2v1h-2zM41 3h1v1h-1zM43 3h1v1h-1zM45 3h2v1h-2zM50 3h1v1h-1z"/>
<path fill="#de5240" stroke="#de5240" stroke-width=".02" d="M4 0h1v1h-1zM9 0h1v1h-1zM12 0h1v1h-1zM18 0h1v1h-1zM37 0h1v1h-1zM40 0h1v1h-1zM44 0h1v1h-1zM46 0h1v1h-1zM48 0h3v1h-3zM5 1h2v1h-2zM39 1h1v1h-1zM43 1h1v1h-1zM45 1h2v1h-2zM48 1h1v1h-1zM50 1h1v1h-1zM3 2h2v1h-2zM7 2h3v1h-3zM12 2h1v1h-1zM18 2h1v1h-1zM35 2h3v1h-3zM40 2h1v1h-1zM43 2h2v1h-2zM48 2h3v1h-3zM2 3h4v1h-4zM7 3h3v1h-3zM13 3h1v1h-1zM35 3h3v1h-3zM40 3h1v1h-1zM42 3h1v1h-1zM44 3h1v1h-1zM48 3h2v1h-2z"/>
<path fill="#e4745a" stroke="#e4745a" stroke-width=".02" d="M2 0h1v1h-1zM10 0h1v1h-1zM13 0h2v1h-2zM17 0h1v1h-1zM20 0h1v1h-1zM35 0h1v1h-1zM41 0h1v1h-1zM51 0h1v1h-1zM4 1h1v1h-1zM9 1h1v1h-1zM12 1h1v1h-1zM18 1h1v1h-1zM36 1h1v1h-1zM40 1h2v1h-2zM49 1h1v1h-1zM2 2h1v1h-1zM10 2h1v1h-1zM13 2h1v1h-1zM16 2h2v1h-2zM20 2h2v1h-2zM10 3h1v1h-1zM16 3h2v1h-2zM20 3h2v1h-2zM34 3h1v1h-1zM6 6h1v1h-1z"/>
<path fill="#eb9673" stroke="#eb9673" stroke-width=".02" d="M11 0h1v1h-1zM16 0h1v1h-1zM21 0h1v1h-1zM34 0h1v1h-1zM2 1h2v1h-2zM10 1h2v1h-2zM13 1h2v1h-2zM17 1h1v1h-1zM20 1h1v1h-1zM35 1h1v1h-1zM37 1h1v1h-1zM44 1h1v1h-1zM1 2h1v1h-1zM11 2h1v1h-1zM19 2h1v1h-1zM34 2h1v1h-1zM51 2h1v1h-1zM1 3h1v1h-1zM11 3h1v1h-1zM19 3h1v1h-1zM33 3h1v1h-1zM51 3h1v1h-1z"/>
<path fill="#f2b88c" stroke="#f2b88c" stroke-width=".02" d="M19 0h1v1h-1zM26 0h1v1h-1zM47 0h1v1h-1zM7 1h2v1h-2zM16 1h1v1h-1zM21 1h1v1h-1zM34 1h1v1h-1zM51 1h1v1h-1zM26 2h1v1h-1zM33 2h1v1h-1zM15 3h1v1h-1zM22 3h1v1h-1zM24 3h3v1h-3zM29 3h1v1h-1zM38 4h1v1h-1zM38 6h1v1h-1z"/>
<path fill="#f8dca6" stroke="#f8dca6" stroke-width=".02" d="M24 0h1v1h-1zM28 0h2v1h-2zM33 0h1v1h-1zM1 1h1v1h-1zM19 1h1v1h-1zM26 1h1v1h-1zM28 1h1v1h-1zM47 1h1v1h-1zM15 2h1v1h-1zM22 2h1v1h-1zM24 2h2v1h-2zM27 2h1v1h-1zM29 2h1v1h-1zM23 3h1v1h-1zM27 3h1v1h-1zM4 4h1v1h-1zM6 4h1v1h-1zM37 4h1v1h-1zM44 4h1v1h-1zM49 4h1v1h-1zM4 6h1v1h-1zM37 6h1v1h-1zM40 6h1v1h-1zM44 6h1v1h-1zM49 6h1v1h-1zM51 6h1v1h-1z"/>
<path fill="#ffffbf" stroke="#ffffbf" stroke-width=".02" d="M3 0h1v1h-1zM8 0h1v1h-1zM23 0h1v1h-1zM36 0h1v1h-1zM15 1h1v1h-1zM22 1h1v1h-1zM24 1h2v1h-2zM29 1h1v1h-1zM33 1h1v1h-1zM23 2h1v1h-1zM32 2h1v1h-1zM28 3h1v1h-1zM32 3h1v1h-1zM47 3h1v1h-1zM3 4h1v1h-1zM5 4h1v1h-1zM17 4h1v1h-1zM34 4h2v1h-2zM40 4h1v1h-1zM50 4h1v1h-1zM6 5h1v1h-1zM37 5h2v1h-2zM44 5h1v1h-1zM49 5h1v1h-1zM3 6h1v1h-1zM5 6h1v1h-1zM8 6h1v1h-1zM36 6h1v1h-1zM39 6h1v1h-1zM42 6h2v1h-2zM48 6h1v1h-1zM50 6h1v1h-1zM52 6h1v1h-1z"/>
<path fill="#d9eead" stroke="#d9eead" stroke-width=".02" d="M15 0h1v1h-1zM25 0h1v1h-1zM27 0h1v1h-1zM32 0h1v1h-1zM23 1h1v1h-1zM32 1h1v1h-1zM28 2h1v1h-1zM31 3h1v1h-1zM2 4h1v1h-1zM8 4h1v1h-1zM19 4h1v1h-1zM33 4h1v1h-1zM36 4h1v1h-1zM39 4h1v1h-1zM42 4h1v1h-1zM4 5h2v1h-2zM34 5h2v1h-2zM39 5h2v1h-2zM48 5h1v1h-1zM50 5h2v1h-2zM1 6h1v1h-1zM10 6h3v1h-3zM17 6h1v1h-1zM33 6h3v1h-3zM41 6h1v1h-1zM45 6h1v1h-1z"/>
<path fill="#b3dd9a" stroke="#b3dd9a" stroke-width=".02" d="M1 0h1v1h-1zM31 0h1v1h-1zM31 1h1v1h-1zM31 2h1v1h-1zM47 2h1v1h-1zM52 2h1v1h-1zM14 3h1v1h-1zM52 3h1v1h-1zM1 4h1v1h-1zM9 4h1v1h-1zM11 4h1v1h-1zM13 4h1v1h-1zM16 4h1v1h-1zM25 4h1v1h-1zM32 4h1v1h-1zM45 4h1v1h-1zM48 4h1v1h-1zM51 4h1v1h-1zM1 5h1v1h-1zM3 5h1v1h-1zM8 5h1v1h-1zM17 5h1v1h-1zM32 5h2v1h-2zM36 5h1v1h-1zM42 5h2v1h-2zM0 6h1v1h-1zM2 6h1v1h-1zM7 6h1v1h-1zM9 6h1v1h-1zM13 6h1v1h-1zM16 6h1v1h-1zM19 6h2v1h-2zM25 6h4v1h-4zM32 6h1v1h-1zM46 6h2v1h-2z"/>
<path fill="#8ccc88" stroke="#8ccc88" stroke-width=".02" d="M22 0h1v1h-1zM27 1h1v1h-1zM52 1h1v1h-1zM14 2h1v1h-1zM30 2h1v1h-1zM30 3h1v1h-1zM10 4h1v1h-1zM12 4h1v1h-1zM15 4h1v1h-1zM20 4h1v1h-1zM26 4h3v1h-3zM46 4h2v1h-2zM52 4h1v1h-1zM2 5h1v1h-1zM9 5h3v1h-3zM13 5h1v1h-1zM19 5h2v1h-2zM25 5h3v1h-3zM45 5h3v1h-3zM52 5h1v1h-1zM15 6h1v1h-1zM23 6h2v1h-2z"/>
<path fill="#66ba75" stroke="#66ba75" stroke-width=".02" d="M30 0h1v1h-1zM30 1h1v1h-1zM7 4h1v1h-1zM23 4h1v1h-1zM31 4h1v1h-1zM41 4h1v1h-1zM43 4h1v1h-1zM7 5h1v1h-1zM12 5h1v1h-1zM16 5h1v1h-1zM24 5h1v1h-1zM28 5h1v1h-1zM41 5h1v1h-1zM14 6h1v1h-1zM18 6h1v1h-1zM21 6h2v1h-2zM31 6h1v1h-1z"/>
<path fill="#40a963" stroke="#40a963" stroke-width=".02" d="M52 0h1v1h-1zM21 4h1v1h-1zM24 4h1v1h-1zM30 4h1v1h-1zM15 5h1v1h-1zM18 5h1v1h-1zM21 5h3v1h-3zM31 5h1v1h-1zM30 6h1v1h-1z"/>
<path fill="#1a9850" stroke="#1a9850" stroke-width=".02" d="M14 4h1v1h-1zM18 4h1v1h-1zM22 4h1v1h-1zM29 4h1v1h-1zM14 5h1v1h-1zM29 5h2v1h-2zM29 6h1v1h-1z"/>
<path fill="none" stroke="#909090" stroke-opacity="1" stroke-width=".064" d="M1 1h52M1 2h52M1 3h52M1 4h52M1 5h52M1 6h52M1 6v1M2 0v7M3 0v7M4 0v7M5 0v7M6 0v7M7 0v7M8 0v7M9 0v7M10 0v7M11 0v7M12 0v7M13 0v7M14 0v7M15 0v7M16 0v7M17 0v7M18 0v7M19 0v7M20 0v7M21 0v7M22 0v7M23 0v7M24 0v7M25 0v7M26 0v7M27 0v7M28 0v7M29 0v7M30 0v7M31 0v7M32 0v7M33 0v7M34 0v7M35 0v7M36 0v7M37 0v7M38 0v7M39 0v7M40 0v7M41 0v7M42 0v7M43 0v7M44 0v7M45 0v7M46 0v7M47 0v7M48 0v7M49 0v7M50 0v7M51 0v7M52 0v7"/>
<path fill="none" stroke="#000" stroke-width=".13" stroke-linecap="square" d="M1 0h52M31 1h1M5 2h1M9 2h1M44 2h1M22 3h1M35 4h1M48 4h1M13 5h1M26 5h1M0 6h1M39 6h1M0 7h53M0 6v1M1 0v6M5 2v5M6 0v2M9 2v5M10 0v2M13 5v2M14 0v5M18 0v7M22 3v4M23 0v3M26 5v2M27 0v5M31 1v6M32 0v1M35 4v3M36 0v4M39 6v1M40 0v6M44 2v5M45 0v2M48 4v3M49 0v4M53 0v7"/>
</g>
<text x="281.2" y="993" font-size="14" fill="#1a1a1a" text-anchor="middle" textLength="33.9" lengthAdjust="spacingAndGlyphs">2024</text>
<g transform="translate(49.7 1000.6) scale(8.5714)">
<path fill="#d73027" stroke="#d73027" stroke-width=".02" d="M4 0h4v1h-4zM9 0h1v1h-1zM15 0h1v1h-1zM17 0h1v1h-1zM47 0h1v1h-1zM5 1h1v1h-1zM7 1h1v1h-1zM4 2h2v1h-2zM8 2h1v1h-1zM16 2h4v1h-4zM36 2h1v1h-1zM41 2h1v1h-1zM43 2h1v1h-1zM45 2h3v1h-3zM2 3h4v1h-4zM8 3h1v1h-1zM15 3h5v1h-5zM36 3h1v1h-1zM39 3h1v1h-1zM41 3h3v1h-3zM45 3h3v1h-3zM6 6h1v1h-1z"/>
<path fill="#de5240" stroke="#de5240" stroke-width=".02" d="M2 0h1v1h-1zM12 0h1v1h-1zM16 0h1v1h-1zM18 0h2v1h-2zM23 0h1v1h-1zM38 0h4v1h-4zM43 0h3v1h-3zM2 1h3v1h-3zM6 1h1v1h-1zM9 1h1v1h-1zM19 1h1v1h-1zM36 1h1v1h-1zM43 1h1v1h-1zM46 1h1v1h-1zM2 2h2v1h-2zM6 2h1v1h-1zM9 2h1v1h-1zM15 2h1v1h-1zM20 2h2v1h-2zM38 2h3v1h-3zM42 2h1v1h-1zM44 2h1v1h-1zM6 3h1v1h-1zM9 3h1v1h-1zM12 3h1v1h-1zM20 3h2v1h-2zM23 3h1v1h-1zM35 3h1v1h-1zM37 3h2v1h-2zM40 3h1v1h-1zM51 3h1v1h-1z"/>
<path fill="#e4745a" stroke="#e4745a" stroke-width=".02" d="M13 0h1v1h-1zM20 0h2v1h-2zM35 0h1v1h-1zM37 0h1v1h-1zM51 0h1v1h-1zM8 1h1v1h-1zM12 1h1v1h-1zM15 1h4v1h-4zM39 1h4v1h-4zM45 1h1v1h-1zM47 1h1v1h-1zM10 2h1v1h-1zM12 2h2v1h-2zM22 2h2v1h-2zM35 2h1v1h-1zM37 2h1v1h-1zM51 2h1v1h-1zM7 3h1v1h-1zM10 3h1v1h-1zM13 3h1v1h-1zM22 3h1v1h-1zM24 3h1v1h-1zM44 3h1v1h-1zM50 3h1v1h-1z"/>
<path fill="#eb9673" stroke="#eb9673" stroke-width=".02" d="M10 0h1v1h-1zM46 0h1v1h-1zM50 0h1v1h-1zM14 1h1v1h-1zM20 1h2v1h-2zM23 1h1v1h-1zM38 1h1v1h-1zM44 1h1v1h-1zM11 2h1v1h-1zM14 2h1v1h-1zM24 2h1v1h-1zM50 2h1v1h-1zM1 3h1v1h-1zM11 3h1v1h-1zM14 3h1v1h-1zM34 3h1v1h-1zM49 3h1v1h-1zM6 4h1v1h-1zM4 6h1v1h-1z"/>
<path fill="#f2b88c" stroke="#f2b88c" stroke-width=".02" d="M8 0h1v1h-1zM11 0h1v1h-1zM24 0h1v1h-1zM34 0h1v1h-1zM42 0h1v1h-1zM10 1h1v1h-1zM13 1h1v1h-1zM24 1h1v1h-1zM35 1h1v1h-1zM37 1h1v1h-1zM50 1h2v1h-2zM1 2h1v1h-1zM29 2h1v1h-1zM34 2h1v1h-1zM49 2h1v1h-1zM29 3h1v1h-1zM3 4h2v1h-2zM3 6h1v1h-1zM5 6h1v1h-1zM8 6h1v1h-1zM17 6h1v1h-1z"/>
<path fill="#f8dca6" stroke="#f8dca6" stroke-width=".02" d="M3 0h1v1h-1zM14 0h1v1h-1zM26 0h5v1h-5zM33 0h1v1h-1zM49 0h1v1h-1zM11 1h1v1h-1zM22 1h1v1h-1zM34 1h1v1h-1zM26 2h1v1h-1zM32 2h2v1h-2zM26 3h1v1h-1zM28 3h1v1h-1zM30 3h1v1h-1zM32 3h2v1h-2zM5 4h1v1h-1zM7 4h2v1h-2zM17 4h1v1h-1zM22 4h1v1h-1zM35 4h1v1h-1zM44 4h1v1h-1zM6 5h1v1h-1zM1 6h1v1h-1zM15 6h2v1h-2zM18 6h3v1h-3zM22 6h1v1h-1zM40 6h3v1h-3zM44 6h3v1h-3z"/>
<path fill="#ffffbf" stroke="#ffffbf" stroke-width=".02" d="M32 0h1v1h-1zM36 0h1v1h-1zM1 1h1v1h-1zM27 1h1v1h-1zM29 1h1v1h-1zM32 1h2v1h-2zM49 1h1v1h-1zM52 1h1v1h-1zM28 2h1v1h-1zM30 2h1v1h-1zM1 4h1v1h-1zM15 4h2v1h-2zM18 4h1v1h-1zM38 4h1v1h-1zM41 4h2v1h-2zM45 4h2v1h-2zM50 4h1v1h-1zM3 5h3v1h-3zM8 5h1v1h-1zM17 5h1v1h-1zM22 5h1v1h-1zM35 5h1v1h-1zM41 5h2v1h-2zM44 5h2v1h-2zM2 6h1v1h-1zM7 6h1v1h-1zM11 6h1v1h-1zM14 6h1v1h-1zM34 6h2v1h-2zM37 6h3v1h-3zM43 6h1v1h-1z"/>
<path fill="#d9eead" stroke="#d9eead" stroke-width=".02" d="M1 0h1v1h-1zM22 0h1v1h-1zM25 0h1v1h-1zM48 0h1v1h-1zM52 0h1v1h-1zM26 1h1v1h-1zM28 1h1v1h-1zM30 1h1v1h-1zM48 1h1v1h-1zM53 1h1v1h-1zM7 2h1v1h-1zM31 2h1v1h-1zM25 3h1v1h-1zM31 3h1v1h-1zM2 4h1v1h-1zM11 4h1v1h-1zM14 4h1v1h-1zM19 4h2v1h-2zM34 4h1v1h-1zM37 4h1v1h-1zM39 4h1v1h-1zM7 5h1v1h-1zM15 5h2v1h-2zM18 5h3v1h-3zM38 5h1v1h-1zM40 5h1v1h-1zM46 5h1v1h-1zM10 6h1v1h-1zM12 6h2v1h-2zM21 6h1v1h-1zM23 6h1v1h-1zM28 6h1v1h-1zM50 6h1v1h-1z"/>
<path fill="#b3dd9a" stroke="#b3dd9a" stroke-width=".02" d="M31 0h1v1h-1zM53 0h1v1h-1zM25 1h1v1h-1zM31 1h1v1h-1zM25 2h1v1h-1zM12 4h1v1h-1zM21 4h1v1h-1zM23 4h1v1h-1zM40 4h1v1h-1zM43 4h1v1h-1zM49 4h1v1h-1zM1 5h2v1h-2zM11 5h1v1h-1zM14 5h1v1h-1zM21 5h1v1h-1zM23 5h1v1h-1zM34 5h1v1h-1zM37 5h1v1h-1zM39 5h1v1h-1zM43 5h1v1h-1zM50 5h1v1h-1zM9 6h1v1h-1zM27 6h1v1h-1zM33 6h1v1h-1zM49 6h1v1h-1z"/>
<path fill="#8ccc88" stroke="#8ccc88" stroke-width=".02" d="M27 2h1v1h-1zM27 3h1v1h-1zM9 4h2v1h-2zM25 4h1v1h-1zM27 4h2v1h-2zM33 4h1v1h-1zM9 5h1v1h-1zM12 5h2v1h-2zM27 5h2v1h-2zM33 5h1v1h-1zM25 6h2v1h-2zM29 6h1v1h-1zM32 6h1v1h-1zM36 6h1v1h-1zM51 6h1v1h-1z"/>
<path fill="#66ba75" stroke="#66ba75" stroke-width=".02" d="M48 3h1v1h-1zM52 3h1v1h-1zM13 4h1v1h-1zM26 4h1v1h-1zM29 4h1v1h-1zM32 4h1v1h-1zM36 4h1v1h-1zM51 4h2v1h-2zM10 5h1v1h-1zM25 5h2v1h-2zM29 5h1v1h-1zM32 5h1v1h-1zM36 5h1v1h-1zM49 5h1v1h-1zM51 5h2v1h-2zM31 6h1v1h-1zM47 6h1v1h-1zM52 6h1v1h-1z"/>
<path fill="#40a963" stroke="#40a963" stroke-width=".02" d="M52 2h1v1h-1zM31 4h1v1h-1zM24 5h1v1h-1zM31 5h1v1h-1zM47 5h1v1h-1zM24 6h1v1h-1zM48 6h1v1h-1z"/>
<path fill="#1a9850" stroke="#1a9850" stroke-width=".02" d="M48 2h1v1h-1zM24 4h1v1h-1zM30 4h1v1h-1zM47 4h2v1h-2zM30 5h1v1h-1zM48 5h1v1h-1zM30 6h1v1h-1z"/>
<path fill="none" stroke="#909090" stroke-opacity="1" stroke-width=".064" d="M1 1h53M1 2h52M1 3h52M1 4h52M1 5h52M1 6h52M2 0v7M3 0v7M4 0v7M5 0v7M6 0v7M7 0v7M8 0v7M9 0v7M10 0v7M11 0v7M12 0v7M13 0v7M14 0v7M15 0v7M16 0v7M17 0v7M18 0v7M19 0v7M20 0v7M21 0v7M22 0v7M23 0v7M24 0v7M25 0v7M26 0v7M27 0v7M28 0v7M29 0v7M30 0v7M31 0v7M32 0v7M33 0v7M34 0v7M35 0v7M36 0v7M37 0v7M38 0v7M39 0v7M40 0v7M41 0v7M42 0v7M43 0v7M44 0v7M45 0v7M46 0v7M47 0v7M48 0v7M49 0v7M50 0v7M51 0v7M52 0v7M53 0v2"/>
<path fill="none" stroke="#000" stroke-width=".13" stroke-linecap="square" d="M1 0h53M40 1h1M18 2h1M53 2h1M5 3h1M31 3h1M9 4h1M44 4h1M22 5h1M35 6h1M48 6h1M1 7h52M1 0v7M5 3v4M6 0v3M9 4v3M10 0v4M14 0v7M18 2v5M19 0v2M22 5v2M23 0v5M27 0v7M31 3v4M32 0v3M35 6v1M36 0v6M40 1v6M41 0v1M44 4v3M45 0v4M48 6v1M49 0v6M53 2v5M54 0v2"/>
</g>
<text x="42.2" y="1008.49" font-size="9.3" fill="#4d4d4d" text-anchor="end">Mon</text>
<text x="42.2" y="1017.06" font-size="9.3" fill="#4d4d4d" text-anchor="end">Tue</text>
<text x="42.2" y="1025.63" font-size="9.3" fill="#4d4d4d" text-anchor="end">Wed</text>
<text x="42.2" y="1034.2" font-size="9.3" fill="#4d4d4d" text-anchor="end">Thu</text>
<text x="42.2" y="1042.77" font-size="9.3" fill="#4d4d4d" text-anchor="end">Fri</text>
<text x="42.2" y="1051.34" font-size="9.3" fill="#4d4d4d" text-anchor="end">Sat</text>
<text x="42.2" y="1059.91" font-size="9.3" fill="#4d4d4d" text-anchor="end">Sun</text>
<text x="752" y="993" font-size="14" fill="#1a1a1a" text-anchor="middle" textLength="33.9" lengthAdjust="spacingAndGlyphs">2025</text>
<g transform="translate(520.5 1000.6) scale(8.5714)">
<path fill="#d73027" stroke="#d73027" stroke-width=".02" d="M2 0h1v1h-1zM4 0h2v1h-2zM8 0h5v1h-5zM34 0h1v1h-1zM40 0h1v1h-1zM42 0h1v1h-1zM44 0h1v1h-1zM46 0h1v1h-1zM3 2h4v1h-4zM8 2h6v1h-6zM34 2h2v1h-2zM40 2h2v1h-2zM44 2h1v1h-1zM46 2h1v1h-1zM2 3h5v1h-5zM8 3h6v1h-6zM34 3h3v1h-3zM39 3h4v1h-4zM44 3h3v1h-3zM50 3h1v1h-1z"/>
<path fill="#de5240" stroke="#de5240" stroke-width=".02" d="M6 0h1v1h-1zM13 0h1v1h-1zM19 0h1v1h-1zM38 0h2v1h-2zM43 0h1v1h-1zM45 0h1v1h-1zM50 0h1v1h-1zM3 1h4v1h-4zM8 1h4v1h-4zM35 1h1v1h-1zM40 1h2v1h-2zM44 1h1v1h-1zM1 2h2v1h-2zM7 2h1v1h-1zM19 2h1v1h-1zM36 2h1v1h-1zM38 2h2v1h-2zM42 2h2v1h-2zM45 2h1v1h-1zM50 2h1v1h-1zM1 3h1v1h-1zM7 3h1v1h-1zM19 3h2v1h-2zM37 3h2v1h-2zM43 3h1v1h-1zM48 3h1v1h-1z"/>
<path fill="#e4745a" stroke="#e4745a" stroke-width=".02" d="M1 0h1v1h-1zM33 0h1v1h-1zM36 0h1v1h-1zM41 0h1v1h-1zM48 0h2v1h-2zM2 1h1v1h-1zM12 1h1v1h-1zM34 1h1v1h-1zM38 1h2v1h-2zM42 1h2v1h-2zM46 1h1v1h-1zM50 1h1v1h-1zM20 2h1v1h-1zM33 2h1v1h-1zM37 2h1v1h-1zM48 2h2v1h-2zM14 3h1v1h-1zM17 3h2v1h-2zM33 3h1v1h-1zM49 3h1v1h-1zM5 6h1v1h-1z"/>
<path fill="#eb9673" stroke="#eb9673" stroke-width=".02" d="M18 0h1v1h-1zM20 0h1v1h-1zM23 0h1v1h-1zM37 0h1v1h-1zM1 1h1v1h-1zM13 1h1v1h-1zM19 1h1v1h-1zM36 1h1v1h-1zM48 1h2v1h-2zM14 2h1v1h-1zM17 2h2v1h-2zM23 2h1v1h-1zM22 3h2v1h-2zM31 3h1v1h-1zM43 4h1v1h-1z"/>
<path fill="#f2b88c" stroke="#f2b88c" stroke-width=".02" d="M14 0h2v1h-2zM17 0h1v1h-1zM22 0h1v1h-1zM25 0h1v1h-1zM31 0h2v1h-2zM35 0h1v1h-1zM7 1h1v1h-1zM17 1h1v1h-1zM20 1h1v1h-1zM33 1h1v1h-1zM37 1h1v1h-1zM45 1h1v1h-1zM15 2h2v1h-2zM22 2h1v1h-1zM25 2h1v1h-1zM32 2h1v1h-1zM15 3h2v1h-2zM25 3h1v1h-1zM29 3h1v1h-1zM32 3h1v1h-1zM8 4h1v1h-1zM3 6h1v1h-1zM8 6h3v1h-3z"/>
<path fill="#f8dca6" stroke="#f8dca6" stroke-width=".02" d="M3 0h1v1h-1zM16 0h1v1h-1zM24 0h1v1h-1zM26 0h1v1h-1zM29 0h1v1h-1zM47 0h1v1h-1zM14 1h3v1h-3zM18 1h1v1h-1zM22 1h2v1h-2zM24 2h1v1h-1zM27 2h1v1h-1zM29 2h3v1h-3zM21 3h1v1h-1zM24 3h1v1h-1zM27 3h1v1h-1zM30 3h1v1h-1zM1 4h1v1h-1zM3 4h1v1h-1zM5 4h1v1h-1zM7 4h1v1h-1zM33 4h2v1h-2zM49 4h1v1h-1zM8 5h1v1h-1zM10 5h1v1h-1zM34 5h1v1h-1zM7 6h1v1h-1zM11 6h2v1h-2zM34 6h1v1h-1zM37 6h7v1h-7zM45 6h1v1h-1zM49 6h1v1h-1z"/>
<path fill="#ffffbf" stroke="#ffffbf" stroke-width=".02" d="M7 0h1v1h-1zM27 0h2v1h-2zM30 0h1v1h-1zM24 1h3v1h-3zM29 1h1v1h-1zM31 1h2v1h-2zM47 1h1v1h-1zM21 2h1v1h-1zM28 2h1v1h-1zM51 2h2v1h-2zM28 3h1v1h-1zM2 4h1v1h-1zM4 4h1v1h-1zM9 4h3v1h-3zM18 4h1v1h-1zM32 4h1v1h-1zM37 4h2v1h-2zM40 4h2v1h-2zM45 4h1v1h-1zM3 5h1v1h-1zM5 5h1v1h-1zM9 5h1v1h-1zM40 5h2v1h-2zM43 5h1v1h-1zM0 6h3v1h-3zM4 6h1v1h-1zM32 6h2v1h-2zM44 6h1v1h-1z"/>
<path fill="#d9eead" stroke="#d9eead" stroke-width=".02" d="M51 0h1v1h-1zM21 1h1v1h-1zM27 1h2v1h-2zM30 1h1v1h-1zM51 1h1v1h-1zM0 3h1v1h-1zM12 4h1v1h-1zM39 4h1v1h-1zM42 4h1v1h-1zM44 4h1v1h-1zM1 5h2v1h-2zM7 5h1v1h-1zM11 5h2v1h-2zM33 5h1v1h-1zM37 5h3v1h-3zM42 5h1v1h-1zM44 5h2v1h-2zM49 5h1v1h-1zM18 6h2v1h-2zM22 6h1v1h-1zM24 6h1v1h-1zM35 6h2v1h-2z"/>
<path fill="#b3dd9a" stroke="#b3dd9a" stroke-width=".02" d="M52 0h1v1h-1zM52 1h1v1h-1zM26 3h1v1h-1zM47 3h1v1h-1zM0 4h1v1h-1zM19 4h1v1h-1zM30 4h1v1h-1zM4 5h1v1h-1zM18 5h2v1h-2zM32 5h1v1h-1zM6 6h1v1h-1zM14 6h3v1h-3zM23 6h1v1h-1zM25 6h1v1h-1zM28 6h1v1h-1zM30 6h2v1h-2zM48 6h1v1h-1z"/>
<path fill="#8ccc88" stroke="#8ccc88" stroke-width=".02" d="M0 2h1v1h-1zM26 2h1v1h-1zM14 4h1v1h-1zM16 4h1v1h-1zM21 4h2v1h-2zM24 4h2v1h-2zM28 4h1v1h-1zM31 4h1v1h-1zM35 4h1v1h-1zM0 5h1v1h-1zM6 5h1v1h-1zM22 5h1v1h-1zM24 5h1v1h-1zM30 5h2v1h-2zM35 5h2v1h-2zM48 5h1v1h-1zM17 6h1v1h-1zM21 6h1v1h-1zM29 6h1v1h-1zM50 6h1v1h-1z"/>
<path fill="#66ba75" stroke="#66ba75" stroke-width=".02" d="M15 4h1v1h-1zM17 4h1v1h-1zM23 4h1v1h-1zM26 4h1v1h-1zM36 4h1v1h-1zM48 4h1v1h-1zM14 5h4v1h-4zM21 5h1v1h-1zM23 5h1v1h-1zM25 5h1v1h-1zM28 5h1v1h-1zM46 5h1v1h-1zM50 5h1v1h-1zM13 6h1v1h-1zM26 6h2v1h-2zM46 6h2v1h-2zM51 6h1v1h-1z"/>
<path fill="#40a963" stroke="#40a963" stroke-width=".02" d="M21 0h1v1h-1zM47 2h1v1h-1zM51 3h1v1h-1zM6 4h1v1h-1zM13 4h1v1h-1zM47 4h1v1h-1zM50 4h2v1h-2zM13 5h1v1h-1zM26 5h2v1h-2zM29 5h1v1h-1zM47 5h1v1h-1zM51 5h1v1h-1z"/>
<path fill="#1a9850" stroke="#1a9850" stroke-width=".02" d="M20 4h1v1h-1zM27 4h1v1h-1zM29 4h1v1h-1zM46 4h1v1h-1zM20 5h1v1h-1zM20 6h1v1h-1z"/>
<path fill="none" stroke="#909090" stroke-opacity="1" stroke-width=".064" d="M1 1h52M1 2h52M0 3h52M0 4h52M0 5h52M0 6h52M1 2v5M2 0v7M3 0v7M4 0v7M5 0v7M6 0v7M7 0v7M8 0v7M9 0v7M10 0v7M11 0v7M12 0v7M13 0v7M14 0v7M15 0v7M16 0v7M17 0v7M18 0v7M19 0v7M20 0v7M21 0v7M22 0v7M23 0v7M24 0v7M25 0v7M26 0v7M27 0v7M28 0v7M29 0v7M30 0v7M31 0v7M32 0v7M33 0v7M34 0v7M35 0v7M36 0v7M37 0v7M38 0v7M39 0v7M40 0v7M41 0v7M42 0v7M43 0v7M44 0v7M45 0v7M46 0v7M47 0v7M48 0v7M49 0v7M50 0v7M51 0v7M52 0v3"/>
<path fill="none" stroke="#000" stroke-width=".13" stroke-linecap="square" d="M1 0h52M13 1h1M26 1h1M0 2h1M39 2h1M17 3h1M52 3h1M30 4h1M4 5h1M8 5h1M43 5h1M21 6h1M0 7h52M0 2v5M1 0v2M4 5v2M5 0v5M8 5v2M9 0v5M13 1v6M14 0v1M17 3v4M18 0v3M21 6v1M22 0v6M26 1v6M27 0v1M30 4v3M31 0v4M35 0v7M39 2v5M40 0v2M43 5v2M44 0v5M48 0v7M52 3v4M53 0v3"/>
</g>
<text x="73.8" y="1078.4" font-size="13" fill="#4d4d4d" text-anchor="middle" textLength="19.6" lengthAdjust="spacingAndGlyphs">Jan</text>
<text x="110.4" y="1078.4" font-size="13" fill="#4d4d4d" text-anchor="middle" textLength="22.4" lengthAdjust="spacingAndGlyphs">Feb</text>
<text x="146.6" y="1078.4" font-size="13" fill="#4d4d4d" text-anchor="middle" textLength="23.6" lengthAdjust="spacingAndGlyphs">Mar</text>
<text x="184" y="1078.4" font-size="13" fill="#4d4d4d" text-anchor="middle" textLength="20.8" lengthAdjust="spacingAndGlyphs">Apr</text>
<text x="221.1" y="1078.4" font-size="13" fill="#4d4d4d" text-anchor="middle" textLength="25" lengthAdjust="spacingAndGlyphs">May</text>
<text x="258.4" y="1078.4" font-size="13" fill="#4d4d4d" text-anchor="middle" textLength="19.8" lengthAdjust="spacingAndGlyphs">Jun</text>
<text x="295.9" y="1078.4" font-size="13" fill="#4d4d4d" text-anchor="middle" textLength="15.5" lengthAdjust="spacingAndGlyphs">Jul</text>
<text x="334" y="1078.4" font-size="13" fill="#4d4d4d" text-anchor="middle" textLength="24.3" lengthAdjust="spacingAndGlyphs">Aug</text>
<text x="371.1" y="1078.4" font-size="13" fill="#4d4d4d" text-anchor="middle" textLength="24.3" lengthAdjust="spacingAndGlyphs">Sep</text>
<text x="408" y="1078.4" font-size="13" fill="#4d4d4d" text-anchor="middle" textLength="21.6" lengthAdjust="spacingAndGlyphs">Oct</text>
<text x="445.7" y="1078.4" font-size="13" fill="#4d4d4d" text-anchor="middle" textLength="24.4" lengthAdjust="spacingAndGlyphs">Nov</text>
<text x="482.7" y="1078.4" font-size="13" fill="#4d4d4d" text-anchor="middle" textLength="23" lengthAdjust="spacingAndGlyphs">Dec</text>
<text x="544.6" y="1078.4" font-size="13" fill="#4d4d4d" text-anchor="middle" textLength="19.6" lengthAdjust="spacingAndGlyphs">Jan</text>
<text x="581.2" y="1078.4" font-size="13" fill="#4d4d4d" text-anchor="middle" textLength="22.4" lengthAdjust="spacingAndGlyphs">Feb</text>
<text x="617.4" y="1078.4" font-size="13" fill="#4d4d4d" text-anchor="middle" textLength="23.6" lengthAdjust="spacingAndGlyphs">Mar</text>
<text x="654.8" y="1078.4" font-size="13" fill="#4d4d4d" text-anchor="middle" textLength="20.8" lengthAdjust="spacingAndGlyphs">Apr</text>
<text x="691.9" y="1078.4" font-size="13" fill="#4d4d4d" text-anchor="middle" textLength="25" lengthAdjust="spacingAndGlyphs">May</text>
<text x="729.2" y="1078.4" font-size="13" fill="#4d4d4d" text-anchor="middle" textLength="19.8" lengthAdjust="spacingAndGlyphs">Jun</text>
<text x="766.7" y="1078.4" font-size="13" fill="#4d4d4d" text-anchor="middle" textLength="15.5" lengthAdjust="spacingAndGlyphs">Jul</text>
<text x="804.8" y="1078.4" font-size="13" fill="#4d4d4d" text-anchor="middle" textLength="24.3" lengthAdjust="spacingAndGlyphs">Aug</text>
<text x="841.9" y="1078.4" font-size="13" fill="#4d4d4d" text-anchor="middle" textLength="24.3" lengthAdjust="spacingAndGlyphs">Sep</text>
<text x="878.8" y="1078.4" font-size="13" fill="#4d4d4d" text-anchor="middle" textLength="21.6" lengthAdjust="spacingAndGlyphs">Oct</text>
<text x="916.5" y="1078.4" font-size="13" fill="#4d4d4d" text-anchor="middle" textLength="24.4" lengthAdjust="spacingAndGlyphs">Nov</text>
<text x="953.5" y="1078.4" font-size="13" fill="#4d4d4d" text-anchor="middle" textLength="23" lengthAdjust="spacingAndGlyphs">Dec</text>
<text x="194.3" y="1140.6" font-size="16.8" fill="#111" textLength="122.7" lengthAdjust="spacingAndGlyphs">Daily box office</text>
<text x="194.3" y="1159.1" font-size="16.8" fill="#111" textLength="109" lengthAdjust="spacingAndGlyphs">(2025 dollars)</text>
<rect x="325.5" y="1095" width="27" height="26.9" fill="#d73027" stroke="#909090" stroke-opacity=".55" stroke-width=".5"/>
<text x="361.4" y="1111.9" font-size="9.3" fill="#111" textLength="44.1" lengthAdjust="spacingAndGlyphs">$0–$5.3M</text>
<rect x="325.5" y="1130.1" width="27" height="26.9" fill="#de5240" stroke="#909090" stroke-opacity=".55" stroke-width=".5"/>
<text x="361.4" y="1147" font-size="9.3" fill="#111" textLength="52.1" lengthAdjust="spacingAndGlyphs">$5.3–$7.8M</text>
<rect x="325.5" y="1165.2" width="27" height="26.9" fill="#e4745a" stroke="#909090" stroke-opacity=".55" stroke-width=".5"/>
<text x="361.4" y="1182.1" font-size="9.3" fill="#111" textLength="52.1" lengthAdjust="spacingAndGlyphs">$7.8–$9.6M</text>
<rect x="422.1" y="1095" width="27" height="26.9" fill="#eb9673" stroke="#909090" stroke-opacity=".55" stroke-width=".5"/>
<text x="458" y="1111.9" font-size="9.3" fill="#111" textLength="53.6" lengthAdjust="spacingAndGlyphs">$9.6–$11.6M</text>
<rect x="422.1" y="1130.1" width="27" height="26.9" fill="#f2b88c" stroke="#909090" stroke-opacity=".55" stroke-width=".5"/>
<text x="458" y="1147" font-size="9.3" fill="#111" textLength="57.6" lengthAdjust="spacingAndGlyphs">$11.6–$14.8M</text>
<rect x="422.1" y="1165.2" width="27" height="26.9" fill="#f8dca6" stroke="#909090" stroke-opacity=".55" stroke-width=".5"/>
<text x="458" y="1182.1" font-size="9.3" fill="#111" textLength="61.4" lengthAdjust="spacingAndGlyphs">$14.8–$20.0M</text>
<rect x="528" y="1095" width="27" height="26.9" fill="#ffffbf" stroke="#909090" stroke-opacity=".55" stroke-width=".5"/>
<text x="563.9" y="1111.9" font-size="9.3" fill="#111" textLength="63.1" lengthAdjust="spacingAndGlyphs">$20.0–$25.8M</text>
<rect x="528" y="1130.1" width="27" height="26.9" fill="#d9eead" stroke="#909090" stroke-opacity=".55" stroke-width=".5"/>
<text x="563.9" y="1147" font-size="9.3" fill="#111" textLength="63.1" lengthAdjust="spacingAndGlyphs">$25.8–$32.3M</text>
<rect x="528" y="1165.2" width="27" height="26.9" fill="#b3dd9a" stroke="#909090" stroke-opacity=".55" stroke-width=".5"/>
<text x="563.9" y="1182.1" font-size="9.3" fill="#111" textLength="63.1" lengthAdjust="spacingAndGlyphs">$32.3–$40.5M</text>
<rect x="636" y="1095" width="27" height="26.9" fill="#8ccc88" stroke="#909090" stroke-opacity=".55" stroke-width=".5"/>
<text x="671.9" y="1111.9" font-size="9.3" fill="#111" textLength="63.4" lengthAdjust="spacingAndGlyphs">$40.5–$49.5M</text>
<rect x="636" y="1130.1" width="27" height="26.9" fill="#66ba75" stroke="#909090" stroke-opacity=".55" stroke-width=".5"/>
<text x="671.9" y="1147" font-size="9.3" fill="#111" textLength="63.4" lengthAdjust="spacingAndGlyphs">$49.5–$60.3M</text>
<rect x="636" y="1165.2" width="27" height="26.9" fill="#40a963" stroke="#909090" stroke-opacity=".55" stroke-width=".5"/>
<text x="671.9" y="1182.1" font-size="9.3" fill="#111" textLength="63.4" lengthAdjust="spacingAndGlyphs">$60.3–$74.4M</text>
<rect x="744.3" y="1095" width="27" height="26.9" fill="#1a9850" stroke="#909090" stroke-opacity=".55" stroke-width=".5"/>
<text x="780.2" y="1111.9" font-size="9.3" fill="#111" textLength="59.1" lengthAdjust="spacingAndGlyphs">$74.4–$213M</text>
<text x="820.3" y="1189.8" font-size="11.6" font-style="italic" fill="#111" textLength="163.2" lengthAdjust="spacingAndGlyphs">Data souce: boxofficemojo.com</text>
</svg>
</body></html>
